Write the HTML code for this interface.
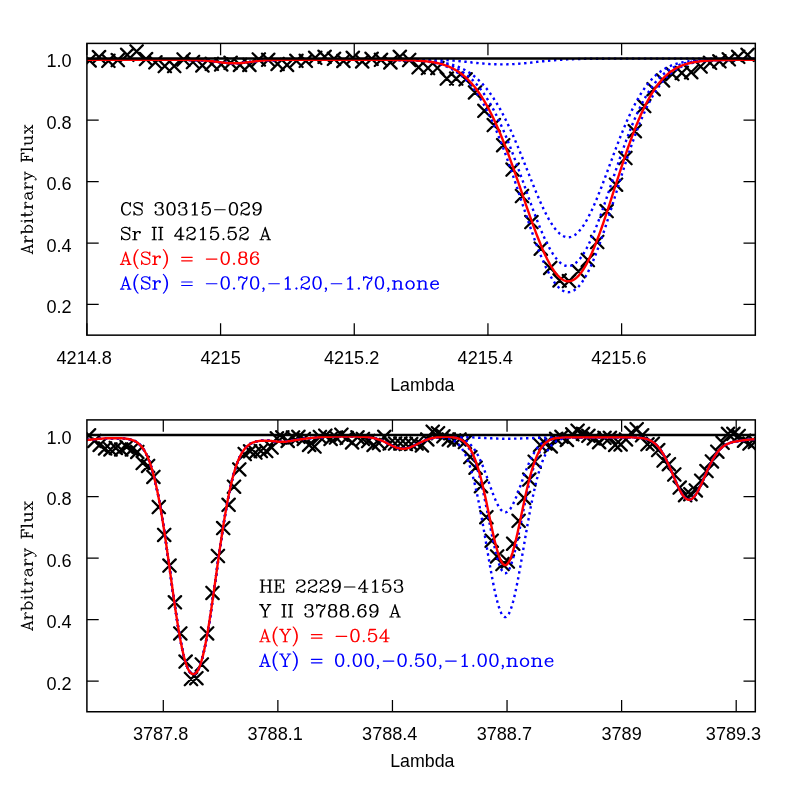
<!DOCTYPE html>
<html><head><meta charset="utf-8"><title>spectrum fit</title>
<style>html,body{margin:0;padding:0;background:#fff}svg{display:block;will-change:transform}text{font-family:"Liberation Sans",sans-serif;font-size:18.1px;fill:#000}</style></head><body>
<svg width="797" height="797" viewBox="0 0 797 797">
<rect width="797" height="797" fill="#fff"/>
<defs>
<clipPath id="c0"><rect x="86.90" y="43.40" width="668.40" height="291.75"/></clipPath>
<clipPath id="c1"><rect x="86.90" y="419.90" width="668.40" height="291.85"/></clipPath>
</defs>
<g clip-path="url(#c0)">
<path d="M83.4 54.2l12.4 12.4M83.4 66.6l12.4 -12.4M92.8 50.9l12.4 12.4M92.8 63.3l12.4 -12.4M102.2 54.6l12.4 12.4M102.2 67.0l12.4 -12.4M111.6 53.9l12.4 12.4M111.6 66.3l12.4 -12.4M121.0 48.6l12.4 12.4M121.0 61.0l12.4 -12.4M130.4 45.2l12.4 12.4M130.4 57.6l12.4 -12.4M139.8 52.9l12.4 12.4M139.8 65.3l12.4 -12.4M149.2 56.1l12.4 12.4M149.2 68.5l12.4 -12.4M158.6 59.9l12.4 12.4M158.6 72.3l12.4 -12.4M168.0 59.9l12.4 12.4M168.0 72.3l12.4 -12.4M177.4 53.3l12.4 12.4M177.4 65.7l12.4 -12.4M186.8 55.8l12.4 12.4M186.8 68.2l12.4 -12.4M196.2 59.2l12.4 12.4M196.2 71.6l12.4 -12.4M205.6 57.6l12.4 12.4M205.6 70.0l12.4 -12.4M215.0 58.2l12.4 12.4M215.0 70.6l12.4 -12.4M224.4 56.6l12.4 12.4M224.4 69.0l12.4 -12.4M233.8 58.7l12.4 12.4M233.8 71.1l12.4 -12.4M243.2 58.7l12.4 12.4M243.2 71.1l12.4 -12.4M252.6 53.2l12.4 12.4M252.6 65.6l12.4 -12.4M262.0 53.6l12.4 12.4M262.0 66.0l12.4 -12.4M271.4 57.7l12.4 12.4M271.4 70.1l12.4 -12.4M280.8 58.7l12.4 12.4M280.8 71.1l12.4 -12.4M290.2 54.6l12.4 12.4M290.2 67.0l12.4 -12.4M299.6 54.6l12.4 12.4M299.6 67.0l12.4 -12.4M309.0 51.6l12.4 12.4M309.0 64.0l12.4 -12.4M318.4 50.6l12.4 12.4M318.4 63.0l12.4 -12.4M327.8 52.6l12.4 12.4M327.8 65.0l12.4 -12.4M337.2 54.7l12.4 12.4M337.2 67.1l12.4 -12.4M346.6 51.6l12.4 12.4M346.6 64.0l12.4 -12.4M356.0 55.2l12.4 12.4M356.0 67.6l12.4 -12.4M365.4 52.6l12.4 12.4M365.4 65.0l12.4 -12.4M374.8 53.6l12.4 12.4M374.8 66.0l12.4 -12.4M384.2 56.2l12.4 12.4M384.2 68.6l12.4 -12.4M393.6 50.6l12.4 12.4M393.6 63.0l12.4 -12.4M403.0 53.8l12.4 12.4M403.0 66.2l12.4 -12.4M412.4 61.1l12.4 12.4M412.4 73.5l12.4 -12.4M421.8 61.8l12.4 12.4M421.8 74.2l12.4 -12.4M431.2 61.8l12.4 12.4M431.2 74.2l12.4 -12.4M440.6 72.4l12.4 12.4M440.6 84.8l12.4 -12.4M450.0 72.4l12.4 12.4M450.0 84.8l12.4 -12.4M459.4 73.1l12.4 12.4M459.4 85.5l12.4 -12.4M468.8 86.2l12.4 12.4M468.8 98.6l12.4 -12.4M478.2 104.6l12.4 12.4M478.2 117.0l12.4 -12.4M487.6 118.9l12.4 12.4M487.6 131.3l12.4 -12.4M497.0 139.0l12.4 12.4M497.0 151.4l12.4 -12.4M506.4 163.4l12.4 12.4M506.4 175.8l12.4 -12.4M515.8 189.8l12.4 12.4M515.8 202.2l12.4 -12.4M525.2 215.9l12.4 12.4M525.2 228.3l12.4 -12.4M534.6 242.5l12.4 12.4M534.6 254.9l12.4 -12.4M544.0 261.7l12.4 12.4M544.0 274.1l12.4 -12.4M553.4 274.2l12.4 12.4M553.4 286.6l12.4 -12.4M562.8 274.9l12.4 12.4M562.8 287.3l12.4 -12.4M572.2 265.1l12.4 12.4M572.2 277.5l12.4 -12.4M581.6 253.8l12.4 12.4M581.6 266.2l12.4 -12.4M591.0 235.8l12.4 12.4M591.0 248.2l12.4 -12.4M600.4 204.9l12.4 12.4M600.4 217.3l12.4 -12.4M609.8 178.5l12.4 12.4M609.8 190.9l12.4 -12.4M619.2 151.8l12.4 12.4M619.2 164.2l12.4 -12.4M628.6 125.0l12.4 12.4M628.6 137.4l12.4 -12.4M638.0 99.9l12.4 12.4M638.0 112.3l12.4 -12.4M647.4 83.0l12.4 12.4M647.4 95.4l12.4 -12.4M656.8 74.2l12.4 12.4M656.8 86.6l12.4 -12.4M666.2 67.9l12.4 12.4M666.2 80.3l12.4 -12.4M675.6 66.7l12.4 12.4M675.6 79.1l12.4 -12.4M685.0 66.0l12.4 12.4M685.0 78.4l12.4 -12.4M694.4 60.3l12.4 12.4M694.4 72.7l12.4 -12.4M703.8 56.6l12.4 12.4M703.8 69.0l12.4 -12.4M713.2 55.1l12.4 12.4M713.2 67.5l12.4 -12.4M722.6 53.1l12.4 12.4M722.6 65.5l12.4 -12.4M732.0 50.6l12.4 12.4M732.0 63.0l12.4 -12.4M741.4 48.6l12.4 12.4M741.4 61.0l12.4 -12.4" fill="none" stroke="#000" stroke-width="2.3" stroke-linecap="round"/>
<path d="M86.9 59.9L87.9 59.9L88.9 59.9L89.9 59.9L90.9 59.9L91.9 59.9L92.9 59.9L93.9 59.9L94.9 59.9L95.9 59.9L96.9 59.9L97.9 59.9L98.9 59.9L99.9 59.9L100.9 59.9L101.9 59.9L102.9 59.9L103.9 59.9L104.9 59.9L105.9 59.9L106.9 59.9L107.9 59.9L108.9 59.9L109.9 59.9L110.9 59.9L111.9 59.9L112.9 59.9L113.9 59.9L114.9 59.9L115.9 59.9L116.9 59.9L117.9 59.9L118.9 59.9L119.9 59.9L120.9 59.9L121.9 59.9L122.9 59.9L123.9 59.9L124.9 59.9L125.9 59.9L126.9 59.9L127.9 59.9L128.9 59.9L129.9 59.9L130.9 59.9L131.9 59.9L132.9 59.9L133.9 59.9L134.9 59.9L135.9 59.9L136.9 59.9L137.9 59.9L138.9 59.9L139.9 59.9L140.9 59.9L141.9 59.9L142.9 59.9L143.9 59.9L144.9 59.9L145.9 59.9L146.9 59.9L147.9 59.9L148.9 59.9L149.9 59.9L150.9 59.9L151.9 59.9L152.9 59.9L153.9 59.9L154.9 59.9L155.9 59.9L156.9 59.9L157.9 59.9L158.9 59.9L159.9 59.9L160.9 59.9L161.9 59.9L162.9 59.9L163.9 59.9L164.9 59.9L165.9 59.9L166.9 59.9L167.9 59.9L168.9 59.9L169.9 59.9L170.9 59.9L171.9 59.9L172.9 59.9L173.9 59.9L174.9 59.9L175.9 59.9L176.9 59.9L177.9 59.9L178.9 59.9L179.9 59.9L180.9 59.9L181.9 59.9L182.9 59.9L183.9 59.9L184.9 59.9L185.9 59.9L186.9 59.9L187.9 59.9L188.9 60.0L189.9 60.0L190.9 60.0L191.9 60.0L192.9 60.0L193.9 60.0L194.9 60.1L195.9 60.1L196.9 60.1L197.9 60.2L198.9 60.2L199.9 60.2L200.9 60.3L201.9 60.4L202.9 60.4L203.9 60.5L204.9 60.6L205.9 60.6L206.9 60.7L207.9 60.8L208.9 60.9L209.9 61.0L210.9 61.1L211.9 61.2L212.9 61.3L213.9 61.5L214.9 61.6L215.9 61.7L216.9 61.8L217.9 62.0L218.9 62.1L219.9 62.2L220.9 62.4L221.9 62.5L222.9 62.6L223.9 62.7L224.9 62.8L225.9 62.9L226.9 63.0L227.9 63.1L228.9 63.2L229.9 63.2L230.9 63.3L231.9 63.3L232.9 63.3L233.9 63.3L234.9 63.3L235.9 63.3L236.9 63.3L237.9 63.2L238.9 63.2L239.9 63.1L240.9 63.0L241.9 63.0L242.9 62.9L243.9 62.7L244.9 62.6L245.9 62.5L246.9 62.4L247.9 62.3L248.9 62.1L249.9 62.0L250.9 61.9L251.9 61.7L252.9 61.6L253.9 61.5L254.9 61.4L255.9 61.2L256.9 61.1L257.9 61.0L258.9 60.9L259.9 60.8L260.9 60.7L261.9 60.6L262.9 60.6L263.9 60.5L264.9 60.4L265.9 60.4L266.9 60.3L267.9 60.3L268.9 60.2L269.9 60.2L270.9 60.1L271.9 60.1L272.9 60.1L273.9 60.0L274.9 60.0L275.9 60.0L276.9 60.0L277.9 60.0L278.9 60.0L279.9 59.9L280.9 59.9L281.9 59.9L282.9 59.9L283.9 59.9L284.9 59.9L285.9 59.9L286.9 59.9L287.9 59.9L288.9 59.9L289.9 59.9L290.9 59.9L291.9 59.9L292.9 59.9L293.9 59.9L294.9 59.9L295.9 59.9L296.9 59.9L297.9 59.9L298.9 59.9L299.9 59.9L300.9 59.9L301.9 59.9L302.9 59.9L303.9 59.9L304.9 59.9L305.9 59.9L306.9 59.9L307.9 59.9L308.9 59.9L309.9 59.9L310.9 59.9L311.9 59.9L312.9 59.9L313.9 59.9L314.9 59.9L315.9 59.9L316.9 59.9L317.9 59.9L318.9 59.9L319.9 59.9L320.9 59.9L321.9 59.9L322.9 59.9L323.9 59.9L324.9 59.9L325.9 59.9L326.9 59.9L327.9 59.9L328.9 59.9L329.9 59.9L330.9 59.9L331.9 59.9L332.9 59.9L333.9 59.9L334.9 59.9L335.9 59.9L336.9 59.9L337.9 59.9L338.9 59.9L339.9 59.9L340.9 59.9L341.9 59.9L342.9 59.9L343.9 59.9L344.9 59.9L345.9 59.9L346.9 59.9L347.9 59.9L348.9 59.9L349.9 59.9L350.9 59.9L351.9 59.9L352.9 59.9L353.9 59.9L354.9 59.9L355.9 59.9L356.9 59.9L357.9 59.9L358.9 59.9L359.9 59.9L360.9 59.9L361.9 59.9L362.9 59.9L363.9 59.9L364.9 59.9L365.9 59.9L366.9 59.9L367.9 59.9L368.9 59.9L369.9 59.9L370.9 59.9L371.9 59.9L372.9 59.9L373.9 59.9L374.9 59.9L375.9 59.9L376.9 59.9L377.9 59.9L378.9 59.9L379.9 59.9L380.9 59.9L381.9 59.9L382.9 59.9L383.9 59.9L384.9 59.9L385.9 59.9L386.9 59.9L387.9 59.9L388.9 59.9L389.9 59.9L390.9 60.0L391.9 60.0L392.9 60.0L393.9 60.0L394.9 60.0L395.9 60.0L396.9 60.0L397.9 60.0L398.9 60.0L399.9 60.1L400.9 60.1L401.9 60.1L402.9 60.1L403.9 60.1L404.9 60.2L405.9 60.2L406.9 60.2L407.9 60.2L408.9 60.3L409.9 60.3L410.9 60.3L411.9 60.4L412.9 60.4L413.9 60.5L414.9 60.5L415.9 60.6L416.9 60.7L417.9 60.7L418.9 60.8L419.9 60.9L420.9 61.0L421.9 61.0L422.9 61.1L423.9 61.2L424.9 61.4L425.9 61.5L426.9 61.6L427.9 61.7L428.9 61.9L429.9 62.0L430.9 62.2L431.9 62.4L432.9 62.5L433.9 62.7L434.9 63.0L435.9 63.2L436.9 63.4L437.9 63.7L438.9 63.9L439.9 64.2L440.9 64.5L441.9 64.8L442.9 65.2L443.9 65.5L444.9 65.9L445.9 66.3L446.9 66.7L447.9 67.1L448.9 67.6L449.9 68.1L450.9 68.6L451.9 69.1L452.9 69.7L453.9 70.3L454.9 70.9L455.9 71.5L456.9 72.2L457.9 72.9L458.9 73.6L459.9 74.4L460.9 75.2L461.9 76.0L462.9 76.9L463.9 77.8L464.9 78.8L465.9 79.7L466.9 80.8L467.9 81.8L468.9 82.9L469.9 84.1L470.9 85.2L471.9 86.5L472.9 87.7L473.9 89.1L474.9 90.4L475.9 91.8L476.9 93.3L477.9 94.7L478.9 96.3L479.9 97.9L480.9 99.5L481.9 101.2L482.9 102.9L483.9 104.7L484.9 106.5L485.9 108.4L486.9 110.3L487.9 112.3L488.9 114.3L489.9 116.3L490.9 118.4L491.9 120.6L492.9 122.8L493.9 125.1L494.9 127.3L495.9 129.7L496.9 132.1L497.9 134.5L498.9 137.0L499.9 139.5L500.9 142.0L501.9 144.6L502.9 147.2L503.9 149.9L504.9 152.6L505.9 155.4L506.9 158.1L507.9 160.9L508.9 163.8L509.9 166.6L510.9 169.5L511.9 172.4L512.9 175.3L513.9 178.3L514.9 181.2L515.9 184.2L516.9 187.2L517.9 190.2L518.9 193.2L519.9 196.3L520.9 199.3L521.9 202.3L522.9 205.3L523.9 208.3L524.9 211.3L525.9 214.3L526.9 217.3L527.9 220.3L528.9 223.2L529.9 226.2L530.9 229.0L531.9 231.9L532.9 234.7L533.9 237.5L534.9 240.3L535.9 243.0L536.9 245.7L537.9 248.3L538.9 250.9L539.9 253.4L540.9 255.9L541.9 258.3L542.9 260.6L543.9 262.9L544.9 265.1L545.9 267.3L546.9 269.3L547.9 271.3L548.9 273.2L549.9 275.1L550.9 276.8L551.9 278.5L552.9 280.1L553.9 281.6L554.9 283.0L555.9 284.3L556.9 285.5L557.9 286.6L558.9 287.6L559.9 288.5L560.9 289.3L561.9 290.1L562.9 290.7L563.9 291.2L564.9 291.6L565.9 291.9L566.9 292.1L567.9 292.2L568.9 292.1L569.9 292.0L570.9 291.8L571.9 291.5L572.9 291.0L573.9 290.5L574.9 289.8L575.9 289.1L576.9 288.2L577.9 287.3L578.9 286.2L579.9 285.0L580.9 283.8L581.9 282.4L582.9 280.9L583.9 279.4L584.9 277.7L585.9 276.0L586.9 274.1L587.9 272.2L588.9 270.2L589.9 268.1L590.9 266.0L591.9 263.7L592.9 261.4L593.9 259.0L594.9 256.5L595.9 254.0L596.9 251.4L597.9 248.7L598.9 246.0L599.9 243.2L600.9 240.3L601.9 237.4L602.9 234.5L603.9 231.5L604.9 228.5L605.9 225.5L606.9 222.4L607.9 219.3L608.9 216.1L609.9 213.0L610.9 209.8L611.9 206.6L612.9 203.4L613.9 200.1L614.9 196.9L615.9 193.7L616.9 190.5L617.9 187.2L618.9 184.0L619.9 180.8L620.9 177.6L621.9 174.4L622.9 171.3L623.9 168.1L624.9 165.0L625.9 161.9L626.9 158.9L627.9 155.9L628.9 152.9L629.9 149.9L630.9 147.0L631.9 144.2L632.9 141.3L633.9 138.5L634.9 135.8L635.9 133.1L636.9 130.5L637.9 127.9L638.9 125.4L639.9 122.9L640.9 120.5L641.9 118.1L642.9 115.8L643.9 113.5L644.9 111.3L645.9 109.2L646.9 107.1L647.9 105.0L648.9 103.1L649.9 101.1L650.9 99.3L651.9 97.5L652.9 95.7L653.9 94.1L654.9 92.4L655.9 90.9L656.9 89.3L657.9 87.9L658.9 86.5L659.9 85.1L660.9 83.8L661.9 82.5L662.9 81.3L663.9 80.2L664.9 79.1L665.9 78.0L666.9 77.0L667.9 76.0L668.9 75.1L669.9 74.2L670.9 73.4L671.9 72.6L672.9 71.8L673.9 71.1L674.9 70.4L675.9 69.8L676.9 69.1L677.9 68.5L678.9 68.0L679.9 67.5L680.9 67.0L681.9 66.5L682.9 66.0L683.9 65.6L684.9 65.2L685.9 64.9L686.9 64.5L687.9 64.2L688.9 63.9L689.9 63.6L690.9 63.3L691.9 63.1L692.9 62.9L693.9 62.7L694.9 62.5L695.9 62.3L696.9 62.1L697.9 61.9L698.9 61.8L699.9 61.6L700.9 61.5L701.9 61.4L702.9 61.3L703.9 61.1L704.9 61.0L705.9 61.0L706.9 60.9L707.9 60.8L708.9 60.7L709.9 60.6L710.9 60.6L711.9 60.5L712.9 60.5L713.9 60.4L714.9 60.4L715.9 60.3L716.9 60.3L717.9 60.3L718.9 60.2L719.9 60.2L720.9 60.2L721.9 60.1L722.9 60.1L723.9 60.1L724.9 60.1L725.9 60.1L726.9 60.0L727.9 60.0L728.9 60.0L729.9 60.0L730.9 60.0L731.9 60.0L732.9 60.0L733.9 60.0L734.9 60.0L735.9 59.9L736.9 59.9L737.9 59.9L738.9 59.9L739.9 59.9L740.9 59.9L741.9 59.9L742.9 59.9L743.9 59.9L744.9 59.9L745.9 59.9L746.9 59.9L747.9 59.9L748.9 59.9L749.9 59.9L750.9 59.9L751.9 59.9L752.9 59.9L753.9 59.9L754.9 59.9" fill="none" stroke="#0000ff" stroke-width="2.4" stroke-dasharray="2.4 3.6" stroke-linecap="butt"/>
<path d="M86.9 59.9L87.9 59.9L88.9 59.9L89.9 59.9L90.9 59.9L91.9 59.9L92.9 59.9L93.9 59.9L94.9 59.9L95.9 59.9L96.9 59.9L97.9 59.9L98.9 59.9L99.9 59.9L100.9 59.9L101.9 59.9L102.9 59.9L103.9 59.9L104.9 59.9L105.9 59.9L106.9 59.9L107.9 59.9L108.9 59.9L109.9 59.9L110.9 59.9L111.9 59.9L112.9 59.9L113.9 59.9L114.9 59.9L115.9 59.9L116.9 59.9L117.9 59.9L118.9 59.9L119.9 59.9L120.9 59.9L121.9 59.9L122.9 59.9L123.9 59.9L124.9 59.9L125.9 59.9L126.9 59.9L127.9 59.9L128.9 59.9L129.9 59.9L130.9 59.9L131.9 59.9L132.9 59.9L133.9 59.9L134.9 59.9L135.9 59.9L136.9 59.9L137.9 59.9L138.9 59.9L139.9 59.9L140.9 59.9L141.9 59.9L142.9 59.9L143.9 59.9L144.9 59.9L145.9 59.9L146.9 59.9L147.9 59.9L148.9 59.9L149.9 59.9L150.9 59.9L151.9 59.9L152.9 59.9L153.9 59.9L154.9 59.9L155.9 59.9L156.9 59.9L157.9 59.9L158.9 59.9L159.9 59.9L160.9 59.9L161.9 59.9L162.9 59.9L163.9 59.9L164.9 59.9L165.9 59.9L166.9 59.9L167.9 59.9L168.9 59.9L169.9 59.9L170.9 59.9L171.9 59.9L172.9 59.9L173.9 59.9L174.9 59.9L175.9 59.9L176.9 59.9L177.9 59.9L178.9 59.9L179.9 59.9L180.9 59.9L181.9 59.9L182.9 59.9L183.9 59.9L184.9 59.9L185.9 59.9L186.9 59.9L187.9 59.9L188.9 60.0L189.9 60.0L190.9 60.0L191.9 60.0L192.9 60.0L193.9 60.0L194.9 60.1L195.9 60.1L196.9 60.1L197.9 60.2L198.9 60.2L199.9 60.2L200.9 60.3L201.9 60.4L202.9 60.4L203.9 60.5L204.9 60.6L205.9 60.6L206.9 60.7L207.9 60.8L208.9 60.9L209.9 61.0L210.9 61.1L211.9 61.2L212.9 61.3L213.9 61.5L214.9 61.6L215.9 61.7L216.9 61.8L217.9 62.0L218.9 62.1L219.9 62.2L220.9 62.4L221.9 62.5L222.9 62.6L223.9 62.7L224.9 62.8L225.9 62.9L226.9 63.0L227.9 63.1L228.9 63.2L229.9 63.2L230.9 63.3L231.9 63.3L232.9 63.3L233.9 63.3L234.9 63.3L235.9 63.3L236.9 63.3L237.9 63.2L238.9 63.2L239.9 63.1L240.9 63.0L241.9 63.0L242.9 62.9L243.9 62.7L244.9 62.6L245.9 62.5L246.9 62.4L247.9 62.3L248.9 62.1L249.9 62.0L250.9 61.9L251.9 61.7L252.9 61.6L253.9 61.5L254.9 61.4L255.9 61.2L256.9 61.1L257.9 61.0L258.9 60.9L259.9 60.8L260.9 60.7L261.9 60.6L262.9 60.6L263.9 60.5L264.9 60.4L265.9 60.4L266.9 60.3L267.9 60.3L268.9 60.2L269.9 60.2L270.9 60.1L271.9 60.1L272.9 60.1L273.9 60.0L274.9 60.0L275.9 60.0L276.9 60.0L277.9 60.0L278.9 60.0L279.9 59.9L280.9 59.9L281.9 59.9L282.9 59.9L283.9 59.9L284.9 59.9L285.9 59.9L286.9 59.9L287.9 59.9L288.9 59.9L289.9 59.9L290.9 59.9L291.9 59.9L292.9 59.9L293.9 59.9L294.9 59.9L295.9 59.9L296.9 59.9L297.9 59.9L298.9 59.9L299.9 59.9L300.9 59.9L301.9 59.9L302.9 59.9L303.9 59.9L304.9 59.9L305.9 59.9L306.9 59.9L307.9 59.9L308.9 59.9L309.9 59.9L310.9 59.9L311.9 59.9L312.9 59.9L313.9 59.9L314.9 59.9L315.9 59.9L316.9 59.9L317.9 59.9L318.9 59.9L319.9 59.9L320.9 59.9L321.9 59.9L322.9 59.9L323.9 59.9L324.9 59.9L325.9 59.9L326.9 59.9L327.9 59.9L328.9 59.9L329.9 59.9L330.9 59.9L331.9 59.9L332.9 59.9L333.9 59.9L334.9 59.9L335.9 59.9L336.9 59.9L337.9 59.9L338.9 59.9L339.9 59.9L340.9 59.9L341.9 59.9L342.9 59.9L343.9 59.9L344.9 59.9L345.9 59.9L346.9 59.9L347.9 59.9L348.9 59.9L349.9 59.9L350.9 59.9L351.9 59.9L352.9 59.9L353.9 59.9L354.9 59.9L355.9 59.9L356.9 59.9L357.9 59.9L358.9 59.9L359.9 59.9L360.9 59.9L361.9 59.9L362.9 59.9L363.9 59.9L364.9 59.9L365.9 59.9L366.9 59.9L367.9 59.9L368.9 59.9L369.9 59.9L370.9 59.9L371.9 59.9L372.9 59.9L373.9 59.9L374.9 59.9L375.9 59.9L376.9 59.9L377.9 59.9L378.9 59.9L379.9 59.9L380.9 59.9L381.9 59.9L382.9 59.9L383.9 59.9L384.9 59.9L385.9 59.9L386.9 59.9L387.9 59.9L388.9 59.9L389.9 59.9L390.9 59.9L391.9 59.9L392.9 59.9L393.9 59.9L394.9 59.9L395.9 60.0L396.9 60.0L397.9 60.0L398.9 60.0L399.9 60.0L400.9 60.0L401.9 60.0L402.9 60.0L403.9 60.0L404.9 60.1L405.9 60.1L406.9 60.1L407.9 60.1L408.9 60.1L409.9 60.2L410.9 60.2L411.9 60.2L412.9 60.2L413.9 60.3L414.9 60.3L415.9 60.4L416.9 60.4L417.9 60.4L418.9 60.5L419.9 60.5L420.9 60.6L421.9 60.7L422.9 60.7L423.9 60.8L424.9 60.9L425.9 61.0L426.9 61.0L427.9 61.1L428.9 61.2L429.9 61.3L430.9 61.5L431.9 61.6L432.9 61.7L433.9 61.8L434.9 62.0L435.9 62.1L436.9 62.3L437.9 62.5L438.9 62.7L439.9 62.9L440.9 63.1L441.9 63.3L442.9 63.6L443.9 63.8L444.9 64.1L445.9 64.4L446.9 64.7L447.9 65.0L448.9 65.3L449.9 65.6L450.9 66.0L451.9 66.4L452.9 66.8L453.9 67.2L454.9 67.7L455.9 68.2L456.9 68.7L457.9 69.2L458.9 69.7L459.9 70.3L460.9 70.9L461.9 71.5L462.9 72.2L463.9 72.9L464.9 73.6L465.9 74.3L466.9 75.1L467.9 75.9L468.9 76.7L469.9 77.6L470.9 78.5L471.9 79.4L472.9 80.4L473.9 81.4L474.9 82.5L475.9 83.6L476.9 84.7L477.9 85.9L478.9 87.1L479.9 88.3L480.9 89.6L481.9 91.0L482.9 92.4L483.9 93.8L484.9 95.2L485.9 96.7L486.9 98.3L487.9 99.9L488.9 101.5L489.9 103.2L490.9 105.0L491.9 106.7L492.9 108.6L493.9 110.4L494.9 112.3L495.9 114.3L496.9 116.3L497.9 118.4L498.9 120.5L499.9 122.6L500.9 124.8L501.9 127.0L502.9 129.3L503.9 131.6L504.9 133.9L505.9 136.3L506.9 138.7L507.9 141.2L508.9 143.7L509.9 146.2L510.9 148.8L511.9 151.4L512.9 154.0L513.9 156.6L514.9 159.3L515.9 162.0L516.9 164.7L517.9 167.5L518.9 170.3L519.9 173.0L520.9 175.8L521.9 178.6L522.9 181.4L523.9 184.2L524.9 187.0L525.9 189.9L526.9 192.7L527.9 195.5L528.9 198.3L529.9 201.0L530.9 203.8L531.9 206.5L532.9 209.3L533.9 212.0L534.9 214.6L535.9 217.3L536.9 219.9L537.9 222.4L538.9 224.9L539.9 227.4L540.9 229.8L541.9 232.2L542.9 234.5L543.9 236.8L544.9 239.0L545.9 241.1L546.9 243.1L547.9 245.1L548.9 247.0L549.9 248.9L550.9 250.6L551.9 252.3L552.9 253.9L553.9 255.4L554.9 256.8L555.9 258.1L556.9 259.3L557.9 260.4L558.9 261.5L559.9 262.4L560.9 263.2L561.9 263.9L562.9 264.6L563.9 265.1L564.9 265.5L565.9 265.8L566.9 266.0L567.9 266.1L568.9 266.0L569.9 265.9L570.9 265.7L571.9 265.3L572.9 264.9L573.9 264.3L574.9 263.7L575.9 262.9L576.9 262.0L577.9 261.0L578.9 259.9L579.9 258.8L580.9 257.5L581.9 256.1L582.9 254.6L583.9 253.0L584.9 251.4L585.9 249.6L586.9 247.8L587.9 245.8L588.9 243.8L589.9 241.7L590.9 239.6L591.9 237.3L592.9 235.0L593.9 232.6L594.9 230.2L595.9 227.7L596.9 225.1L597.9 222.5L598.9 219.8L599.9 217.1L600.9 214.3L601.9 211.5L602.9 208.7L603.9 205.8L604.9 202.9L605.9 200.0L606.9 197.0L607.9 194.0L608.9 191.1L609.9 188.1L610.9 185.1L611.9 182.1L612.9 179.0L613.9 176.0L614.9 173.0L615.9 170.0L616.9 167.1L617.9 164.1L618.9 161.2L619.9 158.2L620.9 155.3L621.9 152.5L622.9 149.6L623.9 146.8L624.9 144.0L625.9 141.3L626.9 138.6L627.9 135.9L628.9 133.3L629.9 130.7L630.9 128.2L631.9 125.7L632.9 123.2L633.9 120.8L634.9 118.5L635.9 116.2L636.9 114.0L637.9 111.8L638.9 109.7L639.9 107.6L640.9 105.6L641.9 103.6L642.9 101.7L643.9 99.8L644.9 98.1L645.9 96.3L646.9 94.6L647.9 93.0L648.9 91.4L649.9 89.9L650.9 88.4L651.9 87.0L652.9 85.6L653.9 84.3L654.9 83.0L655.9 81.8L656.9 80.7L657.9 79.5L658.9 78.5L659.9 77.4L660.9 76.5L661.9 75.5L662.9 74.6L663.9 73.8L664.9 73.0L665.9 72.2L666.9 71.4L667.9 70.7L668.9 70.1L669.9 69.4L670.9 68.8L671.9 68.3L672.9 67.7L673.9 67.2L674.9 66.7L675.9 66.3L676.9 65.8L677.9 65.4L678.9 65.1L679.9 64.7L680.9 64.4L681.9 64.0L682.9 63.7L683.9 63.5L684.9 63.2L685.9 63.0L686.9 62.7L687.9 62.5L688.9 62.3L689.9 62.1L690.9 62.0L691.9 61.8L692.9 61.7L693.9 61.5L694.9 61.4L695.9 61.3L696.9 61.2L697.9 61.1L698.9 61.0L699.9 60.9L700.9 60.8L701.9 60.7L702.9 60.7L703.9 60.6L704.9 60.5L705.9 60.5L706.9 60.4L707.9 60.4L708.9 60.3L709.9 60.3L710.9 60.3L711.9 60.2L712.9 60.2L713.9 60.2L714.9 60.1L715.9 60.1L716.9 60.1L717.9 60.1L718.9 60.1L719.9 60.0L720.9 60.0L721.9 60.0L722.9 60.0L723.9 60.0L724.9 60.0L725.9 60.0L726.9 60.0L727.9 60.0L728.9 59.9L729.9 59.9L730.9 59.9L731.9 59.9L732.9 59.9L733.9 59.9L734.9 59.9L735.9 59.9L736.9 59.9L737.9 59.9L738.9 59.9L739.9 59.9L740.9 59.9L741.9 59.9L742.9 59.9L743.9 59.9L744.9 59.9L745.9 59.9L746.9 59.9L747.9 59.9L748.9 59.9L749.9 59.9L750.9 59.9L751.9 59.9L752.9 59.9L753.9 59.9L754.9 59.9" fill="none" stroke="#0000ff" stroke-width="2.4" stroke-dasharray="2.4 3.6" stroke-linecap="butt"/>
<path d="M86.9 59.9L87.9 59.9L88.9 59.9L89.9 59.9L90.9 59.9L91.9 59.9L92.9 59.9L93.9 59.9L94.9 59.9L95.9 59.9L96.9 59.9L97.9 59.9L98.9 59.9L99.9 59.9L100.9 59.9L101.9 59.9L102.9 59.9L103.9 59.9L104.9 59.9L105.9 59.9L106.9 59.9L107.9 59.9L108.9 59.9L109.9 59.9L110.9 59.9L111.9 59.9L112.9 59.9L113.9 59.9L114.9 59.9L115.9 59.9L116.9 59.9L117.9 59.9L118.9 59.9L119.9 59.9L120.9 59.9L121.9 59.9L122.9 59.9L123.9 59.9L124.9 59.9L125.9 59.9L126.9 59.9L127.9 59.9L128.9 59.9L129.9 59.9L130.9 59.9L131.9 59.9L132.9 59.9L133.9 59.9L134.9 59.9L135.9 59.9L136.9 59.9L137.9 59.9L138.9 59.9L139.9 59.9L140.9 59.9L141.9 59.9L142.9 59.9L143.9 59.9L144.9 59.9L145.9 59.9L146.9 59.9L147.9 59.9L148.9 59.9L149.9 59.9L150.9 59.9L151.9 59.9L152.9 59.9L153.9 59.9L154.9 59.9L155.9 59.9L156.9 59.9L157.9 59.9L158.9 59.9L159.9 59.9L160.9 59.9L161.9 59.9L162.9 59.9L163.9 59.9L164.9 59.9L165.9 59.9L166.9 59.9L167.9 59.9L168.9 59.9L169.9 59.9L170.9 59.9L171.9 59.9L172.9 59.9L173.9 59.9L174.9 59.9L175.9 59.9L176.9 59.9L177.9 59.9L178.9 59.9L179.9 59.9L180.9 59.9L181.9 59.9L182.9 59.9L183.9 59.9L184.9 59.9L185.9 59.9L186.9 59.9L187.9 59.9L188.9 60.0L189.9 60.0L190.9 60.0L191.9 60.0L192.9 60.0L193.9 60.0L194.9 60.1L195.9 60.1L196.9 60.1L197.9 60.2L198.9 60.2L199.9 60.2L200.9 60.3L201.9 60.4L202.9 60.4L203.9 60.5L204.9 60.6L205.9 60.6L206.9 60.7L207.9 60.8L208.9 60.9L209.9 61.0L210.9 61.1L211.9 61.2L212.9 61.3L213.9 61.5L214.9 61.6L215.9 61.7L216.9 61.8L217.9 62.0L218.9 62.1L219.9 62.2L220.9 62.4L221.9 62.5L222.9 62.6L223.9 62.7L224.9 62.8L225.9 62.9L226.9 63.0L227.9 63.1L228.9 63.2L229.9 63.2L230.9 63.3L231.9 63.3L232.9 63.3L233.9 63.3L234.9 63.3L235.9 63.3L236.9 63.3L237.9 63.2L238.9 63.2L239.9 63.1L240.9 63.0L241.9 63.0L242.9 62.9L243.9 62.7L244.9 62.6L245.9 62.5L246.9 62.4L247.9 62.3L248.9 62.1L249.9 62.0L250.9 61.9L251.9 61.7L252.9 61.6L253.9 61.5L254.9 61.4L255.9 61.2L256.9 61.1L257.9 61.0L258.9 60.9L259.9 60.8L260.9 60.7L261.9 60.6L262.9 60.6L263.9 60.5L264.9 60.4L265.9 60.4L266.9 60.3L267.9 60.3L268.9 60.2L269.9 60.2L270.9 60.1L271.9 60.1L272.9 60.1L273.9 60.0L274.9 60.0L275.9 60.0L276.9 60.0L277.9 60.0L278.9 60.0L279.9 59.9L280.9 59.9L281.9 59.9L282.9 59.9L283.9 59.9L284.9 59.9L285.9 59.9L286.9 59.9L287.9 59.9L288.9 59.9L289.9 59.9L290.9 59.9L291.9 59.9L292.9 59.9L293.9 59.9L294.9 59.9L295.9 59.9L296.9 59.9L297.9 59.9L298.9 59.9L299.9 59.9L300.9 59.9L301.9 59.9L302.9 59.9L303.9 59.9L304.9 59.9L305.9 59.9L306.9 59.9L307.9 59.9L308.9 59.9L309.9 59.9L310.9 59.9L311.9 59.9L312.9 59.9L313.9 59.9L314.9 59.9L315.9 59.9L316.9 59.9L317.9 59.9L318.9 59.9L319.9 59.9L320.9 59.9L321.9 59.9L322.9 59.9L323.9 59.9L324.9 59.9L325.9 59.9L326.9 59.9L327.9 59.9L328.9 59.9L329.9 59.9L330.9 59.9L331.9 59.9L332.9 59.9L333.9 59.9L334.9 59.9L335.9 59.9L336.9 59.9L337.9 59.9L338.9 59.9L339.9 59.9L340.9 59.9L341.9 59.9L342.9 59.9L343.9 59.9L344.9 59.9L345.9 59.9L346.9 59.9L347.9 59.9L348.9 59.9L349.9 59.9L350.9 59.9L351.9 59.9L352.9 59.9L353.9 59.9L354.9 59.9L355.9 59.9L356.9 59.9L357.9 59.9L358.9 59.9L359.9 59.9L360.9 59.9L361.9 59.9L362.9 59.9L363.9 59.9L364.9 59.9L365.9 59.9L366.9 59.9L367.9 59.9L368.9 59.9L369.9 59.9L370.9 59.9L371.9 59.9L372.9 59.9L373.9 59.9L374.9 59.9L375.9 59.9L376.9 59.9L377.9 59.9L378.9 59.9L379.9 59.9L380.9 59.9L381.9 59.9L382.9 59.9L383.9 59.9L384.9 59.9L385.9 59.9L386.9 59.9L387.9 59.9L388.9 59.9L389.9 59.9L390.9 59.9L391.9 59.9L392.9 59.9L393.9 59.9L394.9 59.9L395.9 59.9L396.9 59.9L397.9 59.9L398.9 60.0L399.9 60.0L400.9 60.0L401.9 60.0L402.9 60.0L403.9 60.0L404.9 60.0L405.9 60.0L406.9 60.0L407.9 60.1L408.9 60.1L409.9 60.1L410.9 60.1L411.9 60.1L412.9 60.1L413.9 60.2L414.9 60.2L415.9 60.2L416.9 60.3L417.9 60.3L418.9 60.3L419.9 60.4L420.9 60.4L421.9 60.4L422.9 60.5L423.9 60.5L424.9 60.6L425.9 60.7L426.9 60.7L427.9 60.8L428.9 60.9L429.9 60.9L430.9 61.0L431.9 61.1L432.9 61.2L433.9 61.3L434.9 61.4L435.9 61.5L436.9 61.7L437.9 61.8L438.9 61.9L439.9 62.1L440.9 62.2L441.9 62.4L442.9 62.6L443.9 62.7L444.9 62.9L445.9 63.2L446.9 63.4L447.9 63.6L448.9 63.8L449.9 64.1L450.9 64.4L451.9 64.7L452.9 65.0L453.9 65.3L454.9 65.6L455.9 66.0L456.9 66.3L457.9 66.7L458.9 67.1L459.9 67.6L460.9 68.0L461.9 68.5L462.9 69.0L463.9 69.5L464.9 70.0L465.9 70.6L466.9 71.1L467.9 71.7L468.9 72.4L469.9 73.0L470.9 73.7L471.9 74.4L472.9 75.2L473.9 76.0L474.9 76.8L475.9 77.6L476.9 78.5L477.9 79.4L478.9 80.3L479.9 81.3L480.9 82.3L481.9 83.3L482.9 84.4L483.9 85.5L484.9 86.7L485.9 87.9L486.9 89.1L487.9 90.4L488.9 91.7L489.9 93.0L490.9 94.4L491.9 95.8L492.9 97.3L493.9 98.8L494.9 100.4L495.9 102.0L496.9 103.6L497.9 105.3L498.9 107.0L499.9 108.7L500.9 110.5L501.9 112.4L502.9 114.3L503.9 116.2L504.9 118.2L505.9 120.2L506.9 122.2L507.9 124.3L508.9 126.4L509.9 128.6L510.9 130.7L511.9 133.0L512.9 135.2L513.9 137.5L514.9 139.8L515.9 142.2L516.9 144.5L517.9 146.9L518.9 149.3L519.9 151.8L520.9 154.2L521.9 156.7L522.9 159.2L523.9 161.7L524.9 164.2L525.9 166.7L526.9 169.3L527.9 171.8L528.9 174.3L529.9 176.8L530.9 179.3L531.9 181.8L532.9 184.3L533.9 186.7L534.9 189.2L535.9 191.6L536.9 194.0L537.9 196.3L538.9 198.7L539.9 201.0L540.9 203.2L541.9 205.4L542.9 207.6L543.9 209.7L544.9 211.7L545.9 213.7L546.9 215.6L547.9 217.5L548.9 219.3L549.9 221.0L550.9 222.7L551.9 224.2L552.9 225.7L553.9 227.2L554.9 228.5L555.9 229.7L556.9 230.9L557.9 232.0L558.9 232.9L559.9 233.8L560.9 234.6L561.9 235.3L562.9 235.9L563.9 236.4L564.9 236.7L565.9 237.0L566.9 237.2L567.9 237.3L568.9 237.3L569.9 237.1L570.9 236.9L571.9 236.6L572.9 236.1L573.9 235.6L574.9 235.0L575.9 234.2L576.9 233.4L577.9 232.4L578.9 231.4L579.9 230.2L580.9 229.0L581.9 227.7L582.9 226.3L583.9 224.8L584.9 223.2L585.9 221.5L586.9 219.8L587.9 217.9L588.9 216.0L589.9 214.1L590.9 212.0L591.9 209.9L592.9 207.7L593.9 205.5L594.9 203.2L595.9 200.9L596.9 198.5L597.9 196.0L598.9 193.5L599.9 191.0L600.9 188.5L601.9 185.9L602.9 183.3L603.9 180.6L604.9 178.0L605.9 175.3L606.9 172.6L607.9 169.9L608.9 167.2L609.9 164.5L610.9 161.8L611.9 159.1L612.9 156.4L613.9 153.7L614.9 151.1L615.9 148.4L616.9 145.8L617.9 143.2L618.9 140.6L619.9 138.0L620.9 135.5L621.9 133.0L622.9 130.6L623.9 128.1L624.9 125.7L625.9 123.4L626.9 121.1L627.9 118.8L628.9 116.6L629.9 114.4L630.9 112.3L631.9 110.2L632.9 108.2L633.9 106.2L634.9 104.3L635.9 102.4L636.9 100.6L637.9 98.8L638.9 97.0L639.9 95.4L640.9 93.7L641.9 92.2L642.9 90.6L643.9 89.2L644.9 87.7L645.9 86.4L646.9 85.0L647.9 83.8L648.9 82.5L649.9 81.4L650.9 80.2L651.9 79.1L652.9 78.1L653.9 77.1L654.9 76.1L655.9 75.2L656.9 74.3L657.9 73.5L658.9 72.7L659.9 72.0L660.9 71.2L661.9 70.5L662.9 69.9L663.9 69.3L664.9 68.7L665.9 68.1L666.9 67.6L667.9 67.1L668.9 66.6L669.9 66.2L670.9 65.7L671.9 65.3L672.9 65.0L673.9 64.6L674.9 64.3L675.9 64.0L676.9 63.7L677.9 63.4L678.9 63.2L679.9 62.9L680.9 62.7L681.9 62.5L682.9 62.3L683.9 62.1L684.9 61.9L685.9 61.8L686.9 61.6L687.9 61.5L688.9 61.3L689.9 61.2L690.9 61.1L691.9 61.0L692.9 60.9L693.9 60.9L694.9 60.8L695.9 60.7L696.9 60.6L697.9 60.6L698.9 60.5L699.9 60.5L700.9 60.4L701.9 60.4L702.9 60.3L703.9 60.3L704.9 60.2L705.9 60.2L706.9 60.2L707.9 60.2L708.9 60.1L709.9 60.1L710.9 60.1L711.9 60.1L712.9 60.1L713.9 60.0L714.9 60.0L715.9 60.0L716.9 60.0L717.9 60.0L718.9 60.0L719.9 60.0L720.9 60.0L721.9 60.0L722.9 59.9L723.9 59.9L724.9 59.9L725.9 59.9L726.9 59.9L727.9 59.9L728.9 59.9L729.9 59.9L730.9 59.9L731.9 59.9L732.9 59.9L733.9 59.9L734.9 59.9L735.9 59.9L736.9 59.9L737.9 59.9L738.9 59.9L739.9 59.9L740.9 59.9L741.9 59.9L742.9 59.9L743.9 59.9L744.9 59.9L745.9 59.9L746.9 59.9L747.9 59.9L748.9 59.9L749.9 59.9L750.9 59.9L751.9 59.9L752.9 59.9L753.9 59.9L754.9 59.9" fill="none" stroke="#0000ff" stroke-width="2.4" stroke-dasharray="2.4 3.6" stroke-linecap="butt"/>
<path d="M86.9 59.8L87.9 59.8L88.9 59.8L89.9 59.8L90.9 59.8L91.9 59.8L92.9 59.8L93.9 59.8L94.9 59.8L95.9 59.8L96.9 59.8L97.9 59.8L98.9 59.8L99.9 59.8L100.9 59.8L101.9 59.8L102.9 59.8L103.9 59.8L104.9 59.8L105.9 59.8L106.9 59.8L107.9 59.8L108.9 59.8L109.9 59.8L110.9 59.8L111.9 59.8L112.9 59.8L113.9 59.8L114.9 59.8L115.9 59.8L116.9 59.8L117.9 59.8L118.9 59.8L119.9 59.8L120.9 59.8L121.9 59.8L122.9 59.8L123.9 59.8L124.9 59.8L125.9 59.8L126.9 59.8L127.9 59.8L128.9 59.8L129.9 59.8L130.9 59.8L131.9 59.8L132.9 59.8L133.9 59.8L134.9 59.8L135.9 59.8L136.9 59.8L137.9 59.8L138.9 59.8L139.9 59.8L140.9 59.8L141.9 59.8L142.9 59.8L143.9 59.8L144.9 59.8L145.9 59.8L146.9 59.8L147.9 59.8L148.9 59.8L149.9 59.8L150.9 59.8L151.9 59.8L152.9 59.8L153.9 59.8L154.9 59.8L155.9 59.8L156.9 59.8L157.9 59.8L158.9 59.8L159.9 59.8L160.9 59.8L161.9 59.8L162.9 59.8L163.9 59.8L164.9 59.8L165.9 59.8L166.9 59.8L167.9 59.8L168.9 59.8L169.9 59.8L170.9 59.8L171.9 59.8L172.9 59.8L173.9 59.8L174.9 59.8L175.9 59.8L176.9 59.8L177.9 59.8L178.9 59.8L179.9 59.8L180.9 59.8L181.9 59.8L182.9 59.9L183.9 59.9L184.9 59.9L185.9 59.9L186.9 59.9L187.9 59.9L188.9 59.9L189.9 59.9L190.9 59.9L191.9 59.9L192.9 60.0L193.9 60.0L194.9 60.0L195.9 60.0L196.9 60.1L197.9 60.1L198.9 60.1L199.9 60.2L200.9 60.2L201.9 60.3L202.9 60.4L203.9 60.4L204.9 60.5L205.9 60.6L206.9 60.7L207.9 60.7L208.9 60.8L209.9 60.9L210.9 61.1L211.9 61.2L212.9 61.3L213.9 61.4L214.9 61.5L215.9 61.7L216.9 61.8L217.9 61.9L218.9 62.0L219.9 62.2L220.9 62.3L221.9 62.4L222.9 62.5L223.9 62.7L224.9 62.8L225.9 62.9L226.9 63.0L227.9 63.0L228.9 63.1L229.9 63.2L230.9 63.2L231.9 63.3L232.9 63.3L233.9 63.3L234.9 63.3L235.9 63.3L236.9 63.2L237.9 63.2L238.9 63.1L239.9 63.1L240.9 63.0L241.9 62.9L242.9 62.8L243.9 62.7L244.9 62.6L245.9 62.5L246.9 62.3L247.9 62.2L248.9 62.1L249.9 61.9L250.9 61.8L251.9 61.7L252.9 61.6L253.9 61.4L254.9 61.3L255.9 61.2L256.9 61.1L257.9 61.0L258.9 60.9L259.9 60.8L260.9 60.7L261.9 60.6L262.9 60.5L263.9 60.4L264.9 60.4L265.9 60.3L266.9 60.2L267.9 60.2L268.9 60.2L269.9 60.1L270.9 60.1L271.9 60.0L272.9 60.0L273.9 60.0L274.9 60.0L275.9 59.9L276.9 59.9L277.9 59.9L278.9 59.9L279.9 59.9L280.9 59.9L281.9 59.9L282.9 59.9L283.9 59.9L284.9 59.9L285.9 59.8L286.9 59.8L287.9 59.8L288.9 59.8L289.9 59.8L290.9 59.8L291.9 59.8L292.9 59.8L293.9 59.8L294.9 59.8L295.9 59.8L296.9 59.8L297.9 59.8L298.9 59.8L299.9 59.8L300.9 59.8L301.9 59.8L302.9 59.8L303.9 59.8L304.9 59.8L305.9 59.8L306.9 59.8L307.9 59.8L308.9 59.8L309.9 59.8L310.9 59.8L311.9 59.8L312.9 59.8L313.9 59.8L314.9 59.8L315.9 59.8L316.9 59.8L317.9 59.8L318.9 59.8L319.9 59.8L320.9 59.8L321.9 59.8L322.9 59.8L323.9 59.8L324.9 59.8L325.9 59.8L326.9 59.8L327.9 59.8L328.9 59.8L329.9 59.8L330.9 59.8L331.9 59.8L332.9 59.8L333.9 59.8L334.9 59.8L335.9 59.8L336.9 59.8L337.9 59.8L338.9 59.8L339.9 59.8L340.9 59.8L341.9 59.8L342.9 59.8L343.9 59.8L344.9 59.8L345.9 59.8L346.9 59.8L347.9 59.8L348.9 59.8L349.9 59.8L350.9 59.8L351.9 59.8L352.9 59.8L353.9 59.8L354.9 59.8L355.9 59.8L356.9 59.8L357.9 59.8L358.9 59.8L359.9 59.8L360.9 59.8L361.9 59.8L362.9 59.8L363.9 59.8L364.9 59.8L365.9 59.8L366.9 59.8L367.9 59.8L368.9 59.8L369.9 59.8L370.9 59.8L371.9 59.8L372.9 59.8L373.9 59.8L374.9 59.7L375.9 59.7L376.9 59.7L377.9 59.7L378.9 59.7L379.9 59.6L380.9 59.6L381.9 59.6L382.9 59.6L383.9 59.6L384.9 59.5L385.9 59.5L386.9 59.5L387.9 59.5L388.9 59.5L389.9 59.4L390.9 59.4L391.9 59.4L392.9 59.4L393.9 59.4L394.9 59.4L395.9 59.3L396.9 59.3L397.9 59.3L398.9 59.3L399.9 59.3L400.9 59.3L401.9 59.2L402.9 59.2L403.9 59.2L404.9 59.2L405.9 59.2L406.9 59.2L407.9 59.2L408.9 59.1L409.9 59.1L410.9 59.1L411.9 59.1L412.9 59.1L413.9 59.1L414.9 59.1L415.9 59.1L416.9 59.1L417.9 59.1L418.9 59.1L419.9 59.1L420.9 59.1L421.9 59.1L422.9 59.1L423.9 59.1L424.9 59.1L425.9 59.1L426.9 59.1L427.9 59.1L428.9 59.1L429.9 59.1L430.9 59.2L431.9 59.2L432.9 59.3L433.9 59.3L434.9 59.3L435.9 59.4L436.9 59.4L437.9 59.5L438.9 59.5L439.9 59.6L440.9 59.7L441.9 59.7L442.9 59.8L443.9 59.8L444.9 59.9L445.9 60.0L446.9 60.1L447.9 60.1L448.9 60.2L449.9 60.3L450.9 60.4L451.9 60.4L452.9 60.5L453.9 60.6L454.9 60.7L455.9 60.8L456.9 60.9L457.9 61.0L458.9 61.1L459.9 61.2L460.9 61.3L461.9 61.4L462.9 61.5L463.9 61.6L464.9 61.7L465.9 61.8L466.9 61.9L467.9 62.0L468.9 62.1L469.9 62.2L470.9 62.3L471.9 62.5L472.9 62.6L473.9 62.7L474.9 62.8L475.9 62.9L476.9 63.0L477.9 63.1L478.9 63.2L479.9 63.3L480.9 63.4L481.9 63.5L482.9 63.5L483.9 63.6L484.9 63.7L485.9 63.8L486.9 63.9L487.9 63.9L488.9 64.0L489.9 64.1L490.9 64.1L491.9 64.2L492.9 64.2L493.9 64.3L494.9 64.3L495.9 64.3L496.9 64.4L497.9 64.4L498.9 64.4L499.9 64.4L500.9 64.4L501.9 64.4L502.9 64.4L503.9 64.4L504.9 64.4L505.9 64.4L506.9 64.4L507.9 64.3L508.9 64.3L509.9 64.3L510.9 64.2L511.9 64.2L512.9 64.1L513.9 64.1L514.9 64.0L515.9 63.9L516.9 63.9L517.9 63.8L518.9 63.7L519.9 63.6L520.9 63.6L521.9 63.5L522.9 63.4L523.9 63.3L524.9 63.2L525.9 63.1L526.9 63.0L527.9 62.9L528.9 62.8L529.9 62.7L530.9 62.6L531.9 62.5L532.9 62.4L533.9 62.3L534.9 62.2L535.9 62.0L536.9 61.9L537.9 61.8L538.9 61.7L539.9 61.6L540.9 61.5L541.9 61.4L542.9 61.3L543.9 61.2L544.9 61.1L545.9 61.0L546.9 60.9L547.9 60.8L548.9 60.7L549.9 60.6L550.9 60.5L551.9 60.5L552.9 60.4L553.9 60.3L554.9 60.2L555.9 60.1L556.9 60.1L557.9 60.0L558.9 59.9L559.9 59.9L560.9 59.8L561.9 59.7L562.9 59.7L563.9 59.6L564.9 59.6L565.9 59.5L566.9 59.4L567.9 59.4L568.9 59.3L569.9 59.3L570.9 59.3L571.9 59.2L572.9 59.2L573.9 59.1L574.9 59.1L575.9 59.1L576.9 59.0L577.9 59.0L578.9 59.0L579.9 59.0L580.9 58.9L581.9 58.9L582.9 58.9L583.9 58.9L584.9 58.9L585.9 58.8L586.9 58.8L587.9 58.8L588.9 58.8L589.9 58.8L590.9 58.8L591.9 58.7L592.9 58.7L593.9 58.7L594.9 58.7L595.9 58.7L596.9 58.7L597.9 58.7L598.9 58.7L599.9 58.7L600.9 58.7L601.9 58.7L602.9 58.7L603.9 58.7L604.9 58.6L605.9 58.6L606.9 58.6L607.9 58.6L608.9 58.6L609.9 58.6L610.9 58.6L611.9 58.6L612.9 58.6L613.9 58.6L614.9 58.6L615.9 58.6L616.9 58.6L617.9 58.6L618.9 58.6L619.9 58.6L620.9 58.6L621.9 58.6L622.9 58.6L623.9 58.6L624.9 58.6L625.9 58.6L626.9 58.6L627.9 58.6L628.9 58.6L629.9 58.6L630.9 58.6L631.9 58.6L632.9 58.6L633.9 58.6L634.9 58.6L635.9 58.6L636.9 58.6L637.9 58.6L638.9 58.6L639.9 58.6L640.9 58.6L641.9 58.6L642.9 58.6L643.9 58.6L644.9 58.6L645.9 58.6L646.9 58.6L647.9 58.6L648.9 58.6L649.9 58.6L650.9 58.6L651.9 58.6L652.9 58.6L653.9 58.6L654.9 58.6L655.9 58.6L656.9 58.6L657.9 58.6L658.9 58.6L659.9 58.6L660.9 58.6L661.9 58.6L662.9 58.6L663.9 58.6L664.9 58.6L665.9 58.6L666.9 58.6L667.9 58.6L668.9 58.6L669.9 58.6L670.9 58.6L671.9 58.6L672.9 58.6L673.9 58.6L674.9 58.6L675.9 58.6L676.9 58.6L677.9 58.6L678.9 58.6L679.9 58.6L680.9 58.6L681.9 58.6L682.9 58.6L683.9 58.6L684.9 58.6L685.9 58.6L686.9 58.6L687.9 58.6L688.9 58.6L689.9 58.6L690.9 58.6L691.9 58.6L692.9 58.6L693.9 58.6L694.9 58.6L695.9 58.6L696.9 58.6L697.9 58.6L698.9 58.6L699.9 58.6L700.9 58.6L701.9 58.6L702.9 58.6L703.9 58.6L704.9 58.6L705.9 58.6L706.9 58.6L707.9 58.6L708.9 58.6L709.9 58.6L710.9 58.6L711.9 58.6L712.9 58.6L713.9 58.6L714.9 58.6L715.9 58.6L716.9 58.6L717.9 58.6L718.9 58.6L719.9 58.6L720.9 58.6L721.9 58.6L722.9 58.6L723.9 58.6L724.9 58.6L725.9 58.6L726.9 58.6L727.9 58.6L728.9 58.6L729.9 58.6L730.9 58.6L731.9 58.6L732.9 58.6L733.9 58.6L734.9 58.6L735.9 58.6L736.9 58.6L737.9 58.6L738.9 58.6L739.9 58.6L740.9 58.6L741.9 58.6L742.9 58.6L743.9 58.6L744.9 58.6L745.9 58.6L746.9 58.6L747.9 58.6L748.9 58.6L749.9 58.6L750.9 58.6L751.9 58.6L752.9 58.6L753.9 58.6L754.9 58.6" fill="none" stroke="#0000ff" stroke-width="2.4" stroke-dasharray="2.4 3.6" stroke-linecap="butt"/>
<path d="M86.9 59.9L87.9 59.9L88.9 59.9L89.9 59.9L90.9 59.9L91.9 59.9L92.9 59.9L93.9 59.9L94.9 59.9L95.9 59.9L96.9 59.9L97.9 59.9L98.9 59.9L99.9 59.9L100.9 59.9L101.9 59.9L102.9 59.9L103.9 59.9L104.9 59.9L105.9 59.9L106.9 59.9L107.9 59.9L108.9 59.9L109.9 59.9L110.9 59.9L111.9 59.9L112.9 59.9L113.9 59.9L114.9 59.9L115.9 59.9L116.9 59.9L117.9 59.9L118.9 59.9L119.9 59.9L120.9 59.9L121.9 59.9L122.9 59.9L123.9 59.9L124.9 59.9L125.9 59.9L126.9 59.9L127.9 59.9L128.9 59.9L129.9 59.9L130.9 59.9L131.9 59.9L132.9 59.9L133.9 59.9L134.9 59.9L135.9 59.9L136.9 59.9L137.9 59.9L138.9 59.9L139.9 59.9L140.9 59.9L141.9 59.9L142.9 59.9L143.9 59.9L144.9 59.9L145.9 59.9L146.9 59.9L147.9 59.9L148.9 59.9L149.9 59.9L150.9 59.9L151.9 59.9L152.9 59.9L153.9 59.9L154.9 59.9L155.9 59.9L156.9 59.9L157.9 59.9L158.9 59.9L159.9 59.9L160.9 59.9L161.9 59.9L162.9 59.9L163.9 59.9L164.9 59.9L165.9 59.9L166.9 59.9L167.9 59.9L168.9 59.9L169.9 59.9L170.9 59.9L171.9 59.9L172.9 59.9L173.9 59.9L174.9 59.9L175.9 59.9L176.9 59.9L177.9 59.9L178.9 59.9L179.9 59.9L180.9 59.9L181.9 59.9L182.9 59.9L183.9 59.9L184.9 59.9L185.9 59.9L186.9 59.9L187.9 59.9L188.9 60.0L189.9 60.0L190.9 60.0L191.9 60.0L192.9 60.0L193.9 60.0L194.9 60.1L195.9 60.1L196.9 60.1L197.9 60.2L198.9 60.2L199.9 60.2L200.9 60.3L201.9 60.4L202.9 60.4L203.9 60.5L204.9 60.6L205.9 60.6L206.9 60.7L207.9 60.8L208.9 60.9L209.9 61.0L210.9 61.1L211.9 61.2L212.9 61.3L213.9 61.5L214.9 61.6L215.9 61.7L216.9 61.8L217.9 62.0L218.9 62.1L219.9 62.2L220.9 62.4L221.9 62.5L222.9 62.6L223.9 62.7L224.9 62.8L225.9 62.9L226.9 63.0L227.9 63.1L228.9 63.2L229.9 63.2L230.9 63.3L231.9 63.3L232.9 63.3L233.9 63.3L234.9 63.3L235.9 63.3L236.9 63.3L237.9 63.2L238.9 63.2L239.9 63.1L240.9 63.0L241.9 63.0L242.9 62.9L243.9 62.7L244.9 62.6L245.9 62.5L246.9 62.4L247.9 62.3L248.9 62.1L249.9 62.0L250.9 61.9L251.9 61.7L252.9 61.6L253.9 61.5L254.9 61.4L255.9 61.2L256.9 61.1L257.9 61.0L258.9 60.9L259.9 60.8L260.9 60.7L261.9 60.6L262.9 60.6L263.9 60.5L264.9 60.4L265.9 60.4L266.9 60.3L267.9 60.3L268.9 60.2L269.9 60.2L270.9 60.1L271.9 60.1L272.9 60.1L273.9 60.0L274.9 60.0L275.9 60.0L276.9 60.0L277.9 60.0L278.9 60.0L279.9 59.9L280.9 59.9L281.9 59.9L282.9 59.9L283.9 59.9L284.9 59.9L285.9 59.9L286.9 59.9L287.9 59.9L288.9 59.9L289.9 59.9L290.9 59.9L291.9 59.9L292.9 59.9L293.9 59.9L294.9 59.9L295.9 59.9L296.9 59.9L297.9 59.9L298.9 59.9L299.9 59.9L300.9 59.9L301.9 59.9L302.9 59.9L303.9 59.9L304.9 59.9L305.9 59.9L306.9 59.9L307.9 59.9L308.9 59.9L309.9 59.9L310.9 59.9L311.9 59.9L312.9 59.9L313.9 59.9L314.9 59.9L315.9 59.9L316.9 59.9L317.9 59.9L318.9 59.9L319.9 59.9L320.9 59.9L321.9 59.9L322.9 59.9L323.9 59.9L324.9 59.9L325.9 59.9L326.9 59.9L327.9 59.9L328.9 59.9L329.9 59.9L330.9 59.9L331.9 59.9L332.9 59.9L333.9 59.9L334.9 59.9L335.9 59.9L336.9 59.9L337.9 59.9L338.9 59.9L339.9 59.9L340.9 59.9L341.9 59.9L342.9 59.9L343.9 59.9L344.9 59.9L345.9 59.9L346.9 59.9L347.9 59.9L348.9 59.9L349.9 59.9L350.9 59.9L351.9 59.9L352.9 59.9L353.9 59.9L354.9 59.9L355.9 59.9L356.9 59.9L357.9 59.9L358.9 59.9L359.9 59.9L360.9 59.9L361.9 59.9L362.9 59.9L363.9 59.9L364.9 59.9L365.9 59.9L366.9 59.9L367.9 59.9L368.9 59.9L369.9 59.9L370.9 59.9L371.9 59.9L372.9 59.9L373.9 59.9L374.9 59.9L375.9 59.9L376.9 59.9L377.9 59.9L378.9 59.9L379.9 59.9L380.9 59.9L381.9 59.9L382.9 59.9L383.9 59.9L384.9 59.9L385.9 59.9L386.9 59.9L387.9 59.9L388.9 59.9L389.9 59.9L390.9 59.9L391.9 59.9L392.9 60.0L393.9 60.0L394.9 60.0L395.9 60.0L396.9 60.0L397.9 60.0L398.9 60.0L399.9 60.0L400.9 60.0L401.9 60.1L402.9 60.1L403.9 60.1L404.9 60.1L405.9 60.1L406.9 60.2L407.9 60.2L408.9 60.2L409.9 60.2L410.9 60.3L411.9 60.3L412.9 60.4L413.9 60.4L414.9 60.4L415.9 60.5L416.9 60.6L417.9 60.6L418.9 60.7L419.9 60.7L420.9 60.8L421.9 60.9L422.9 61.0L423.9 61.1L424.9 61.2L425.9 61.3L426.9 61.4L427.9 61.5L428.9 61.6L429.9 61.7L430.9 61.9L431.9 62.0L432.9 62.2L433.9 62.4L434.9 62.6L435.9 62.8L436.9 63.0L437.9 63.2L438.9 63.4L439.9 63.7L440.9 63.9L441.9 64.2L442.9 64.5L443.9 64.8L444.9 65.2L445.9 65.5L446.9 65.9L447.9 66.3L448.9 66.7L449.9 67.1L450.9 67.6L451.9 68.0L452.9 68.5L453.9 69.1L454.9 69.6L455.9 70.2L456.9 70.8L457.9 71.4L458.9 72.1L459.9 72.8L460.9 73.5L461.9 74.2L462.9 75.0L463.9 75.9L464.9 76.7L465.9 77.6L466.9 78.5L467.9 79.5L468.9 80.5L469.9 81.5L470.9 82.6L471.9 83.7L472.9 84.9L473.9 86.1L474.9 87.3L475.9 88.6L476.9 89.9L477.9 91.3L478.9 92.7L479.9 94.1L480.9 95.6L481.9 97.2L482.9 98.8L483.9 100.4L484.9 102.1L485.9 103.8L486.9 105.6L487.9 107.4L488.9 109.3L489.9 111.2L490.9 113.2L491.9 115.2L492.9 117.2L493.9 119.3L494.9 121.5L495.9 123.7L496.9 125.9L497.9 128.2L498.9 130.5L499.9 132.8L500.9 135.3L501.9 137.7L502.9 140.2L503.9 142.7L504.9 145.3L505.9 147.9L506.9 150.5L507.9 153.2L508.9 155.8L509.9 158.6L510.9 161.3L511.9 164.1L512.9 166.9L513.9 169.7L514.9 172.6L515.9 175.4L516.9 178.3L517.9 181.2L518.9 184.1L519.9 187.0L520.9 190.0L521.9 192.9L522.9 195.8L523.9 198.7L524.9 201.6L525.9 204.6L526.9 207.5L527.9 210.3L528.9 213.2L529.9 216.1L530.9 218.9L531.9 221.7L532.9 224.5L533.9 227.2L534.9 229.9L535.9 232.6L536.9 235.2L537.9 237.8L538.9 240.3L539.9 242.8L540.9 245.3L541.9 247.6L542.9 250.0L543.9 252.2L544.9 254.4L545.9 256.5L546.9 258.6L547.9 260.5L548.9 262.4L549.9 264.3L550.9 266.0L551.9 267.7L552.9 269.2L553.9 270.7L554.9 272.1L555.9 273.4L556.9 274.6L557.9 275.7L558.9 276.7L559.9 277.6L560.9 278.4L561.9 279.2L562.9 279.8L563.9 280.3L564.9 280.7L565.9 281.0L566.9 281.2L567.9 281.3L568.9 281.2L569.9 281.1L570.9 280.9L571.9 280.6L572.9 280.1L573.9 279.6L574.9 278.9L575.9 278.2L576.9 277.3L577.9 276.3L578.9 275.3L579.9 274.1L580.9 272.9L581.9 271.5L582.9 270.0L583.9 268.5L584.9 266.8L585.9 265.1L586.9 263.3L587.9 261.4L588.9 259.4L589.9 257.3L590.9 255.1L591.9 252.9L592.9 250.6L593.9 248.2L594.9 245.8L595.9 243.2L596.9 240.7L597.9 238.0L598.9 235.3L599.9 232.6L600.9 229.8L601.9 227.0L602.9 224.1L603.9 221.2L604.9 218.2L605.9 215.2L606.9 212.2L607.9 209.2L608.9 206.1L609.9 203.0L610.9 199.9L611.9 196.8L612.9 193.7L613.9 190.5L614.9 187.4L615.9 184.3L616.9 181.2L617.9 178.1L618.9 175.0L619.9 171.9L620.9 168.8L621.9 165.8L622.9 162.7L623.9 159.7L624.9 156.7L625.9 153.8L626.9 150.9L627.9 148.0L628.9 145.2L629.9 142.4L630.9 139.6L631.9 136.9L632.9 134.2L633.9 131.6L634.9 129.0L635.9 126.5L636.9 124.0L637.9 121.6L638.9 119.2L639.9 116.9L640.9 114.6L641.9 112.4L642.9 110.3L643.9 108.2L644.9 106.1L645.9 104.1L646.9 102.2L647.9 100.3L648.9 98.5L649.9 96.7L650.9 95.0L651.9 93.4L652.9 91.8L653.9 90.2L654.9 88.7L655.9 87.3L656.9 85.9L657.9 84.6L658.9 83.3L659.9 82.1L660.9 80.9L661.9 79.8L662.9 78.7L663.9 77.7L664.9 76.7L665.9 75.7L666.9 74.8L667.9 73.9L668.9 73.1L669.9 72.3L670.9 71.6L671.9 70.9L672.9 70.2L673.9 69.6L674.9 68.9L675.9 68.4L676.9 67.8L677.9 67.3L678.9 66.8L679.9 66.4L680.9 65.9L681.9 65.5L682.9 65.1L683.9 64.8L684.9 64.4L685.9 64.1L686.9 63.8L687.9 63.5L688.9 63.3L689.9 63.0L690.9 62.8L691.9 62.6L692.9 62.4L693.9 62.2L694.9 62.0L695.9 61.9L696.9 61.7L697.9 61.6L698.9 61.5L699.9 61.3L700.9 61.2L701.9 61.1L702.9 61.0L703.9 60.9L704.9 60.8L705.9 60.8L706.9 60.7L707.9 60.6L708.9 60.6L709.9 60.5L710.9 60.5L711.9 60.4L712.9 60.4L713.9 60.3L714.9 60.3L715.9 60.2L716.9 60.2L717.9 60.2L718.9 60.2L719.9 60.1L720.9 60.1L721.9 60.1L722.9 60.1L723.9 60.1L724.9 60.0L725.9 60.0L726.9 60.0L727.9 60.0L728.9 60.0L729.9 60.0L730.9 60.0L731.9 60.0L732.9 60.0L733.9 59.9L734.9 59.9L735.9 59.9L736.9 59.9L737.9 59.9L738.9 59.9L739.9 59.9L740.9 59.9L741.9 59.9L742.9 59.9L743.9 59.9L744.9 59.9L745.9 59.9L746.9 59.9L747.9 59.9L748.9 59.9L749.9 59.9L750.9 59.9L751.9 59.9L752.9 59.9L753.9 59.9L754.9 59.9" fill="none" stroke="#ff0000" stroke-width="2.4" stroke-linejoin="round"/>
<path d="M86.90 58.56H755.30" stroke="#000" stroke-width="2.4"/>
</g>
<path d="M86.90 335.15v-11.80M86.90 43.40v11.80M220.58 335.15v-11.80M220.58 43.40v11.80M354.26 335.15v-11.80M354.26 43.40v11.80M487.94 335.15v-11.80M487.94 43.40v11.80M621.62 335.15v-11.80M621.62 43.40v11.80M86.90 304.44h11.80M755.30 304.44h-11.80M86.90 243.02h11.80M755.30 243.02h-11.80M86.90 181.60h11.80M755.30 181.60h-11.80M86.90 120.18h11.80M755.30 120.18h-11.80M86.90 58.76h11.80M755.30 58.76h-11.80" fill="none" stroke="#000" stroke-width="1.25"/>
<rect x="86.90" y="43.40" width="668.40" height="291.75" fill="none" stroke="#000" stroke-width="1.5"/>
<text x="84.20" y="363.75" text-anchor="middle">4214.8</text>
<text x="220.58" y="363.75" text-anchor="middle">4215</text>
<text x="351.56" y="363.75" text-anchor="middle">4215.2</text>
<text x="485.24" y="363.75" text-anchor="middle">4215.4</text>
<text x="618.92" y="363.75" text-anchor="middle">4215.6</text>
<text x="71.70" y="313.14" text-anchor="end">0.2</text>
<text x="71.70" y="251.72" text-anchor="end">0.4</text>
<text x="71.70" y="190.30" text-anchor="end">0.6</text>
<text x="71.70" y="128.88" text-anchor="end">0.8</text>
<text x="71.70" y="67.46" text-anchor="end">1.0</text>
<text x="422.30" y="390.65" text-anchor="middle" style="font-size:17.8px">Lambda</text>
<path transform="translate(32.40 254.46) rotate(-90)" d="M5.30 -11.13 L1.59 0.00 M5.30 -11.13 L9.01 0.00 M5.30 -9.54 L8.48 0.00 M2.65 -3.18 L7.42 -3.18 M0.53 0.00 L3.71 0.00 M6.89 0.00 L10.07 0.00 M13.25 -7.42 L13.25 0.00 M13.78 -7.42 L13.78 0.00 M13.78 -4.24 L14.31 -5.83 L15.37 -6.89 L16.43 -7.42 L18.02 -7.42 L18.55 -6.89 L18.55 -6.36 L18.02 -5.83 L17.49 -6.36 L18.02 -6.89 M11.66 -7.42 L13.78 -7.42 M11.66 0.00 L15.37 0.00 M22.26 -11.13 L22.26 0.00 M22.79 -11.13 L22.79 0.00 M22.79 -5.83 L23.85 -6.89 L24.91 -7.42 L25.97 -7.42 L27.56 -6.89 L28.62 -5.83 L29.15 -4.24 L29.15 -3.18 L28.62 -1.59 L27.56 -0.53 L25.97 0.00 L24.91 0.00 L23.85 -0.53 L22.79 -1.59 M25.97 -7.42 L27.03 -6.89 L28.09 -5.83 L28.62 -4.24 L28.62 -3.18 L28.09 -1.59 L27.03 -0.53 L25.97 0.00 M20.67 -11.13 L22.79 -11.13 M33.39 -11.13 L32.86 -10.60 L33.39 -10.07 L33.92 -10.60 L33.39 -11.13 M33.39 -7.42 L33.39 0.00 M33.92 -7.42 L33.92 0.00 M31.80 -7.42 L33.92 -7.42 M31.80 0.00 L35.51 0.00 M39.22 -11.13 L39.22 -2.12 L39.75 -0.53 L40.81 0.00 L41.87 0.00 L42.93 -0.53 L43.46 -1.59 M39.75 -11.13 L39.75 -2.12 L40.28 -0.53 L40.81 0.00 M37.63 -7.42 L41.87 -7.42 M47.17 -7.42 L47.17 0.00 M47.70 -7.42 L47.70 0.00 M47.70 -4.24 L48.23 -5.83 L49.29 -6.89 L50.35 -7.42 L51.94 -7.42 L52.47 -6.89 L52.47 -6.36 L51.94 -5.83 L51.41 -6.36 L51.94 -6.89 M45.58 -7.42 L47.70 -7.42 M45.58 0.00 L49.29 0.00 M56.18 -6.36 L56.18 -5.83 L55.65 -5.83 L55.65 -6.36 L56.18 -6.89 L57.24 -7.42 L59.36 -7.42 L60.42 -6.89 L60.95 -6.36 L61.48 -5.30 L61.48 -1.59 L62.01 -0.53 L62.54 0.00 M60.95 -6.36 L60.95 -1.59 L61.48 -0.53 L62.54 0.00 L63.07 0.00 M60.95 -5.30 L60.42 -4.77 L57.24 -4.24 L55.65 -3.71 L55.12 -2.65 L55.12 -1.59 L55.65 -0.53 L57.24 0.00 L58.83 0.00 L59.89 -0.53 L60.95 -1.59 M57.24 -4.24 L56.18 -3.71 L55.65 -2.65 L55.65 -1.59 L56.18 -0.53 L57.24 0.00 M66.78 -7.42 L66.78 0.00 M67.31 -7.42 L67.31 0.00 M67.31 -4.24 L67.84 -5.83 L68.90 -6.89 L69.96 -7.42 L71.55 -7.42 L72.08 -6.89 L72.08 -6.36 L71.55 -5.83 L71.02 -6.36 L71.55 -6.89 M65.19 -7.42 L67.31 -7.42 M65.19 0.00 L68.90 0.00 M75.26 -7.42 L78.44 0.00 M75.79 -7.42 L78.44 -1.06 M81.62 -7.42 L78.44 0.00 L77.38 2.12 L76.32 3.18 L75.26 3.71 L74.73 3.71 L74.20 3.18 L74.73 2.65 L75.26 3.18 M74.20 -7.42 L77.38 -7.42 M79.50 -7.42 L82.68 -7.42 M94.34 -11.13 L94.34 0.00 M94.87 -11.13 L94.87 0.00 M98.05 -7.95 L98.05 -3.71 M92.75 -11.13 L101.23 -11.13 L101.23 -7.95 L100.70 -11.13 M94.87 -5.83 L98.05 -5.83 M92.75 0.00 L96.46 0.00 M104.94 -11.13 L104.94 0.00 M105.47 -11.13 L105.47 0.00 M103.35 -11.13 L105.47 -11.13 M103.35 0.00 L107.06 0.00 M110.77 -7.42 L110.77 -1.59 L111.30 -0.53 L112.89 0.00 L113.95 0.00 L115.54 -0.53 L116.60 -1.59 M111.30 -7.42 L111.30 -1.59 L111.83 -0.53 L112.89 0.00 M116.60 -7.42 L116.60 0.00 M117.13 -7.42 L117.13 0.00 M109.18 -7.42 L111.30 -7.42 M115.01 -7.42 L117.13 -7.42 M116.60 0.00 L118.72 0.00 M121.90 -7.42 L127.73 0.00 M122.43 -7.42 L128.26 0.00 M128.26 -7.42 L121.90 0.00 M120.84 -7.42 L124.02 -7.42 M126.14 -7.42 L129.32 -7.42 M120.84 0.00 L124.02 0.00 M126.14 0.00 L129.32 0.00" fill="none" stroke="#000" stroke-width="1.0" stroke-linecap="round" stroke-linejoin="round"/>
<path transform="translate(119.80 215.00)" d="M10.01 -10.60 L10.60 -8.83 L10.60 -12.36 L10.01 -10.60 L8.83 -11.78 L7.07 -12.36 L5.89 -12.36 L4.12 -11.78 L2.94 -10.60 L2.36 -9.42 L1.77 -7.65 L1.77 -4.71 L2.36 -2.94 L2.94 -1.77 L4.12 -0.59 L5.89 0.00 L7.07 0.00 L8.83 -0.59 L10.01 -1.77 L10.60 -2.94 M5.89 -12.36 L4.71 -11.78 L3.53 -10.60 L2.94 -9.42 L2.36 -7.65 L2.36 -4.71 L2.94 -2.94 L3.53 -1.77 L4.71 -0.59 L5.89 0.00 M21.79 -10.60 L22.37 -12.36 L22.37 -8.83 L21.79 -10.60 L20.61 -11.78 L18.84 -12.36 L17.08 -12.36 L15.31 -11.78 L14.13 -10.60 L14.13 -9.42 L14.72 -8.24 L15.31 -7.65 L16.49 -7.07 L20.02 -5.89 L21.20 -5.30 L22.37 -4.12 M14.13 -9.42 L15.31 -8.24 L16.49 -7.65 L20.02 -6.48 L21.20 -5.89 L21.79 -5.30 L22.37 -4.12 L22.37 -1.77 L21.20 -0.59 L19.43 0.00 L17.66 0.00 L15.90 -0.59 L14.72 -1.77 L14.13 -3.53 L14.13 0.00 L14.72 -1.77 M35.92 -10.01 L36.51 -9.42 L35.92 -8.83 L35.33 -9.42 L35.33 -10.01 L35.92 -11.19 L36.51 -11.78 L38.27 -12.36 L40.63 -12.36 L42.39 -11.78 L42.98 -10.60 L42.98 -8.83 L42.39 -7.65 L40.63 -7.07 L38.86 -7.07 M40.63 -12.36 L41.80 -11.78 L42.39 -10.60 L42.39 -8.83 L41.80 -7.65 L40.63 -7.07 M40.63 -7.07 L41.80 -6.48 L42.98 -5.30 L43.57 -4.12 L43.57 -2.36 L42.98 -1.18 L42.39 -0.59 L40.63 0.00 L38.27 0.00 L36.51 -0.59 L35.92 -1.18 L35.33 -2.36 L35.33 -2.94 L35.92 -3.53 L36.51 -2.94 L35.92 -2.36 M42.39 -5.89 L42.98 -4.12 L42.98 -2.36 L42.39 -1.18 L41.80 -0.59 L40.63 0.00 M50.64 -12.36 L48.87 -11.78 L47.69 -10.01 L47.10 -7.07 L47.10 -5.30 L47.69 -2.36 L48.87 -0.59 L50.64 0.00 L51.81 0.00 L53.58 -0.59 L54.76 -2.36 L55.35 -5.30 L55.35 -7.07 L54.76 -10.01 L53.58 -11.78 L51.81 -12.36 L50.64 -12.36 M50.64 -12.36 L49.46 -11.78 L48.87 -11.19 L48.28 -10.01 L47.69 -7.07 L47.69 -5.30 L48.28 -2.36 L48.87 -1.18 L49.46 -0.59 L50.64 0.00 M51.81 0.00 L52.99 -0.59 L53.58 -1.18 L54.17 -2.36 L54.76 -5.30 L54.76 -7.07 L54.17 -10.01 L53.58 -11.19 L52.99 -11.78 L51.81 -12.36 M59.47 -10.01 L60.06 -9.42 L59.47 -8.83 L58.88 -9.42 L58.88 -10.01 L59.47 -11.19 L60.06 -11.78 L61.82 -12.36 L64.18 -12.36 L65.95 -11.78 L66.53 -10.60 L66.53 -8.83 L65.95 -7.65 L64.18 -7.07 L62.41 -7.07 M64.18 -12.36 L65.36 -11.78 L65.95 -10.60 L65.95 -8.83 L65.36 -7.65 L64.18 -7.07 M64.18 -7.07 L65.36 -6.48 L66.53 -5.30 L67.12 -4.12 L67.12 -2.36 L66.53 -1.18 L65.95 -0.59 L64.18 0.00 L61.82 0.00 L60.06 -0.59 L59.47 -1.18 L58.88 -2.36 L58.88 -2.94 L59.47 -3.53 L60.06 -2.94 L59.47 -2.36 M65.95 -5.89 L66.53 -4.12 L66.53 -2.36 L65.95 -1.18 L65.36 -0.59 L64.18 0.00 M72.42 -10.01 L73.60 -10.60 L75.37 -12.36 L75.37 0.00 M74.78 -11.78 L74.78 0.00 M72.42 0.00 L77.72 0.00 M83.61 -12.36 L82.43 -6.48 M82.43 -6.48 L83.61 -7.65 L85.38 -8.24 L87.14 -8.24 L88.91 -7.65 L90.09 -6.48 L90.68 -4.71 L90.68 -3.53 L90.09 -1.77 L88.91 -0.59 L87.14 0.00 L85.38 0.00 L83.61 -0.59 L83.02 -1.18 L82.43 -2.36 L82.43 -2.94 L83.02 -3.53 L83.61 -2.94 L83.02 -2.36 M87.14 -8.24 L88.32 -7.65 L89.50 -6.48 L90.09 -4.71 L90.09 -3.53 L89.50 -1.77 L88.32 -0.59 L87.14 0.00 M83.61 -12.36 L89.50 -12.36 M83.61 -11.78 L86.55 -11.78 L89.50 -12.36 M94.80 -5.30 L105.40 -5.30 M113.05 -12.36 L111.28 -11.78 L110.11 -10.01 L109.52 -7.07 L109.52 -5.30 L110.11 -2.36 L111.28 -0.59 L113.05 0.00 L114.23 0.00 L115.99 -0.59 L117.17 -2.36 L117.76 -5.30 L117.76 -7.07 L117.17 -10.01 L115.99 -11.78 L114.23 -12.36 L113.05 -12.36 M113.05 -12.36 L111.87 -11.78 L111.28 -11.19 L110.69 -10.01 L110.11 -7.07 L110.11 -5.30 L110.69 -2.36 L111.28 -1.18 L111.87 -0.59 L113.05 0.00 M114.23 0.00 L115.40 -0.59 L115.99 -1.18 L116.58 -2.36 L117.17 -5.30 L117.17 -7.07 L116.58 -10.01 L115.99 -11.19 L115.40 -11.78 L114.23 -12.36 M121.88 -10.01 L122.47 -9.42 L121.88 -8.83 L121.29 -9.42 L121.29 -10.01 L121.88 -11.19 L122.47 -11.78 L124.24 -12.36 L126.59 -12.36 L128.36 -11.78 L128.95 -11.19 L129.54 -10.01 L129.54 -8.83 L128.95 -7.65 L127.18 -6.48 L124.24 -5.30 L123.06 -4.71 L121.88 -3.53 L121.29 -1.77 L121.29 0.00 M126.59 -12.36 L127.77 -11.78 L128.36 -11.19 L128.95 -10.01 L128.95 -8.83 L128.36 -7.65 L126.59 -6.48 L124.24 -5.30 M121.29 -1.18 L121.88 -1.77 L123.06 -1.77 L126.00 -0.59 L127.77 -0.59 L128.95 -1.18 L129.54 -1.77 M123.06 -1.77 L126.00 0.00 L128.36 0.00 L128.95 -0.59 L129.54 -1.77 L129.54 -2.94 M140.72 -8.24 L140.13 -6.48 L138.96 -5.30 L137.19 -4.71 L136.60 -4.71 L134.84 -5.30 L133.66 -6.48 L133.07 -8.24 L133.07 -8.83 L133.66 -10.60 L134.84 -11.78 L136.60 -12.36 L137.78 -12.36 L139.55 -11.78 L140.72 -10.60 L141.31 -8.83 L141.31 -5.30 L140.72 -2.94 L140.13 -1.77 L138.96 -0.59 L137.19 0.00 L135.42 0.00 L134.25 -0.59 L133.66 -1.77 L133.66 -2.36 L134.25 -2.94 L134.84 -2.36 L134.25 -1.77 M136.60 -4.71 L135.42 -5.30 L134.25 -6.48 L133.66 -8.24 L133.66 -8.83 L134.25 -10.60 L135.42 -11.78 L136.60 -12.36 M137.78 -12.36 L138.96 -11.78 L140.13 -10.60 L140.72 -8.83 L140.72 -5.30 L140.13 -2.94 L139.55 -1.77 L138.37 -0.59 L137.19 0.00" fill="none" stroke="#000" stroke-width="1.1" stroke-linecap="round" stroke-linejoin="round"/>
<path transform="translate(119.80 239.70)" d="M9.42 -10.60 L10.01 -12.36 L10.01 -8.83 L9.42 -10.60 L8.24 -11.78 L6.48 -12.36 L4.71 -12.36 L2.94 -11.78 L1.77 -10.60 L1.77 -9.42 L2.36 -8.24 L2.94 -7.65 L4.12 -7.07 L7.65 -5.89 L8.83 -5.30 L10.01 -4.12 M1.77 -9.42 L2.94 -8.24 L4.12 -7.65 L7.65 -6.48 L8.83 -5.89 L9.42 -5.30 L10.01 -4.12 L10.01 -1.77 L8.83 -0.59 L7.07 0.00 L5.30 0.00 L3.53 -0.59 L2.36 -1.77 L1.77 -3.53 L1.77 0.00 L2.36 -1.77 M14.72 -8.24 L14.72 0.00 M15.31 -8.24 L15.31 0.00 M15.31 -4.71 L15.90 -6.48 L17.08 -7.65 L18.25 -8.24 L20.02 -8.24 L20.61 -7.65 L20.61 -7.07 L20.02 -6.48 L19.43 -7.07 L20.02 -7.65 M12.95 -8.24 L15.31 -8.24 M12.95 0.00 L17.08 0.00 M34.15 -12.36 L34.15 0.00 M34.74 -12.36 L34.74 0.00 M32.38 -12.36 L36.51 -12.36 M32.38 0.00 L36.51 0.00 M40.63 -12.36 L40.63 0.00 M41.22 -12.36 L41.22 0.00 M38.86 -12.36 L42.98 -12.36 M38.86 0.00 L42.98 0.00 M60.65 -11.19 L60.65 0.00 M61.24 -12.36 L61.24 0.00 M61.24 -12.36 L54.76 -3.53 L64.18 -3.53 M58.88 0.00 L63.00 0.00 M67.71 -10.01 L68.30 -9.42 L67.71 -8.83 L67.12 -9.42 L67.12 -10.01 L67.71 -11.19 L68.30 -11.78 L70.07 -12.36 L72.42 -12.36 L74.19 -11.78 L74.78 -11.19 L75.37 -10.01 L75.37 -8.83 L74.78 -7.65 L73.01 -6.48 L70.07 -5.30 L68.89 -4.71 L67.71 -3.53 L67.12 -1.77 L67.12 0.00 M72.42 -12.36 L73.60 -11.78 L74.19 -11.19 L74.78 -10.01 L74.78 -8.83 L74.19 -7.65 L72.42 -6.48 L70.07 -5.30 M67.12 -1.18 L67.71 -1.77 L68.89 -1.77 L71.83 -0.59 L73.60 -0.59 L74.78 -1.18 L75.37 -1.77 M68.89 -1.77 L71.83 0.00 L74.19 0.00 L74.78 -0.59 L75.37 -1.77 L75.37 -2.94 M80.67 -10.01 L81.84 -10.60 L83.61 -12.36 L83.61 0.00 M83.02 -11.78 L83.02 0.00 M80.67 0.00 L85.96 0.00 M91.85 -12.36 L90.68 -6.48 M90.68 -6.48 L91.85 -7.65 L93.62 -8.24 L95.39 -8.24 L97.15 -7.65 L98.33 -6.48 L98.92 -4.71 L98.92 -3.53 L98.33 -1.77 L97.15 -0.59 L95.39 0.00 L93.62 0.00 L91.85 -0.59 L91.26 -1.18 L90.68 -2.36 L90.68 -2.94 L91.26 -3.53 L91.85 -2.94 L91.26 -2.36 M95.39 -8.24 L96.56 -7.65 L97.74 -6.48 L98.33 -4.71 L98.33 -3.53 L97.74 -1.77 L96.56 -0.59 L95.39 0.00 M91.85 -12.36 L97.74 -12.36 M91.85 -11.78 L94.80 -11.78 L97.74 -12.36 M103.63 -1.18 L103.04 -0.59 L103.63 0.00 L104.22 -0.59 L103.63 -1.18 M109.52 -12.36 L108.34 -6.48 M108.34 -6.48 L109.52 -7.65 L111.28 -8.24 L113.05 -8.24 L114.82 -7.65 L115.99 -6.48 L116.58 -4.71 L116.58 -3.53 L115.99 -1.77 L114.82 -0.59 L113.05 0.00 L111.28 0.00 L109.52 -0.59 L108.93 -1.18 L108.34 -2.36 L108.34 -2.94 L108.93 -3.53 L109.52 -2.94 L108.93 -2.36 M113.05 -8.24 L114.23 -7.65 L115.40 -6.48 L115.99 -4.71 L115.99 -3.53 L115.40 -1.77 L114.23 -0.59 L113.05 0.00 M109.52 -12.36 L115.40 -12.36 M109.52 -11.78 L112.46 -11.78 L115.40 -12.36 M120.70 -10.01 L121.29 -9.42 L120.70 -8.83 L120.12 -9.42 L120.12 -10.01 L120.70 -11.19 L121.29 -11.78 L123.06 -12.36 L125.41 -12.36 L127.18 -11.78 L127.77 -11.19 L128.36 -10.01 L128.36 -8.83 L127.77 -7.65 L126.00 -6.48 L123.06 -5.30 L121.88 -4.71 L120.70 -3.53 L120.12 -1.77 L120.12 0.00 M125.41 -12.36 L126.59 -11.78 L127.18 -11.19 L127.77 -10.01 L127.77 -8.83 L127.18 -7.65 L125.41 -6.48 L123.06 -5.30 M120.12 -1.18 L120.70 -1.77 L121.88 -1.77 L124.83 -0.59 L126.59 -0.59 L127.77 -1.18 L128.36 -1.77 M121.88 -1.77 L124.83 0.00 L127.18 0.00 L127.77 -0.59 L128.36 -1.77 L128.36 -2.94 M145.43 -12.36 L141.31 0.00 M145.43 -12.36 L149.56 0.00 M145.43 -10.60 L148.97 0.00 M142.49 -3.53 L147.79 -3.53 M140.13 0.00 L143.67 0.00 M147.20 0.00 L150.73 0.00" fill="none" stroke="#000" stroke-width="1.1" stroke-linecap="round" stroke-linejoin="round"/>
<path transform="translate(119.80 264.40)" d="M5.89 -12.36 L1.77 0.00 M5.89 -12.36 L10.01 0.00 M5.89 -10.60 L9.42 0.00 M2.94 -3.53 L8.24 -3.53 M0.59 0.00 L4.12 0.00 M7.65 0.00 L11.19 0.00 M18.25 -14.72 L17.08 -13.54 L15.90 -11.78 L14.72 -9.42 L14.13 -6.48 L14.13 -4.12 L14.72 -1.18 L15.90 1.18 L17.08 2.94 L18.25 4.12 M17.08 -13.54 L15.90 -11.19 L15.31 -9.42 L14.72 -6.48 L14.72 -4.12 L15.31 -1.18 L15.90 0.59 L17.08 2.94 M29.44 -10.60 L30.03 -12.36 L30.03 -8.83 L29.44 -10.60 L28.26 -11.78 L26.50 -12.36 L24.73 -12.36 L22.96 -11.78 L21.79 -10.60 L21.79 -9.42 L22.37 -8.24 L22.96 -7.65 L24.14 -7.07 L27.67 -5.89 L28.85 -5.30 L30.03 -4.12 M21.79 -9.42 L22.96 -8.24 L24.14 -7.65 L27.67 -6.48 L28.85 -5.89 L29.44 -5.30 L30.03 -4.12 L30.03 -1.77 L28.85 -0.59 L27.08 0.00 L25.32 0.00 L23.55 -0.59 L22.37 -1.77 L21.79 -3.53 L21.79 0.00 L22.37 -1.77 M34.74 -8.24 L34.74 0.00 M35.33 -8.24 L35.33 0.00 M35.33 -4.71 L35.92 -6.48 L37.09 -7.65 L38.27 -8.24 L40.04 -8.24 L40.63 -7.65 L40.63 -7.07 L40.04 -6.48 L39.45 -7.07 L40.04 -7.65 M32.97 -8.24 L35.33 -8.24 M32.97 0.00 L37.09 0.00 M43.57 -14.72 L44.75 -13.54 L45.93 -11.78 L47.10 -9.42 L47.69 -6.48 L47.69 -4.12 L47.10 -1.18 L45.93 1.18 L44.75 2.94 L43.57 4.12 M44.75 -13.54 L45.93 -11.19 L46.52 -9.42 L47.10 -6.48 L47.10 -4.12 L46.52 -1.18 L45.93 0.59 L44.75 2.94 M61.82 -7.07 L72.42 -7.07 M61.82 -3.53 L72.42 -3.53 M86.55 -5.30 L97.15 -5.30 M104.81 -12.36 L103.04 -11.78 L101.86 -10.01 L101.27 -7.07 L101.27 -5.30 L101.86 -2.36 L103.04 -0.59 L104.81 0.00 L105.98 0.00 L107.75 -0.59 L108.93 -2.36 L109.52 -5.30 L109.52 -7.07 L108.93 -10.01 L107.75 -11.78 L105.98 -12.36 L104.81 -12.36 M104.81 -12.36 L103.63 -11.78 L103.04 -11.19 L102.45 -10.01 L101.86 -7.07 L101.86 -5.30 L102.45 -2.36 L103.04 -1.18 L103.63 -0.59 L104.81 0.00 M105.98 0.00 L107.16 -0.59 L107.75 -1.18 L108.34 -2.36 L108.93 -5.30 L108.93 -7.07 L108.34 -10.01 L107.75 -11.19 L107.16 -11.78 L105.98 -12.36 M114.23 -1.18 L113.64 -0.59 L114.23 0.00 L114.82 -0.59 L114.23 -1.18 M121.88 -12.36 L120.12 -11.78 L119.53 -10.60 L119.53 -8.83 L120.12 -7.65 L121.88 -7.07 L124.24 -7.07 L126.00 -7.65 L126.59 -8.83 L126.59 -10.60 L126.00 -11.78 L124.24 -12.36 L121.88 -12.36 M121.88 -12.36 L120.70 -11.78 L120.12 -10.60 L120.12 -8.83 L120.70 -7.65 L121.88 -7.07 M124.24 -7.07 L125.41 -7.65 L126.00 -8.83 L126.00 -10.60 L125.41 -11.78 L124.24 -12.36 M121.88 -7.07 L120.12 -6.48 L119.53 -5.89 L118.94 -4.71 L118.94 -2.36 L119.53 -1.18 L120.12 -0.59 L121.88 0.00 L124.24 0.00 L126.00 -0.59 L126.59 -1.18 L127.18 -2.36 L127.18 -4.71 L126.59 -5.89 L126.00 -6.48 L124.24 -7.07 M121.88 -7.07 L120.70 -6.48 L120.12 -5.89 L119.53 -4.71 L119.53 -2.36 L120.12 -1.18 L120.70 -0.59 L121.88 0.00 M124.24 0.00 L125.41 -0.59 L126.00 -1.18 L126.59 -2.36 L126.59 -4.71 L126.00 -5.89 L125.41 -6.48 L124.24 -7.07 M137.78 -10.60 L137.19 -10.01 L137.78 -9.42 L138.37 -10.01 L138.37 -10.60 L137.78 -11.78 L136.60 -12.36 L134.84 -12.36 L133.07 -11.78 L131.89 -10.60 L131.30 -9.42 L130.71 -7.07 L130.71 -3.53 L131.30 -1.77 L132.48 -0.59 L134.25 0.00 L135.42 0.00 L137.19 -0.59 L138.37 -1.77 L138.96 -3.53 L138.96 -4.12 L138.37 -5.89 L137.19 -7.07 L135.42 -7.65 L134.84 -7.65 L133.07 -7.07 L131.89 -5.89 L131.30 -4.12 M134.84 -12.36 L133.66 -11.78 L132.48 -10.60 L131.89 -9.42 L131.30 -7.07 L131.30 -3.53 L131.89 -1.77 L133.07 -0.59 L134.25 0.00 M135.42 0.00 L136.60 -0.59 L137.78 -1.77 L138.37 -3.53 L138.37 -4.12 L137.78 -5.89 L136.60 -7.07 L135.42 -7.65" fill="none" stroke="#ff0000" stroke-width="1.1" stroke-linecap="round" stroke-linejoin="round"/>
<path transform="translate(119.80 289.10)" d="M5.89 -12.36 L1.77 0.00 M5.89 -12.36 L10.01 0.00 M5.89 -10.60 L9.42 0.00 M2.94 -3.53 L8.24 -3.53 M0.59 0.00 L4.12 0.00 M7.65 0.00 L11.19 0.00 M18.25 -14.72 L17.08 -13.54 L15.90 -11.78 L14.72 -9.42 L14.13 -6.48 L14.13 -4.12 L14.72 -1.18 L15.90 1.18 L17.08 2.94 L18.25 4.12 M17.08 -13.54 L15.90 -11.19 L15.31 -9.42 L14.72 -6.48 L14.72 -4.12 L15.31 -1.18 L15.90 0.59 L17.08 2.94 M29.44 -10.60 L30.03 -12.36 L30.03 -8.83 L29.44 -10.60 L28.26 -11.78 L26.50 -12.36 L24.73 -12.36 L22.96 -11.78 L21.79 -10.60 L21.79 -9.42 L22.37 -8.24 L22.96 -7.65 L24.14 -7.07 L27.67 -5.89 L28.85 -5.30 L30.03 -4.12 M21.79 -9.42 L22.96 -8.24 L24.14 -7.65 L27.67 -6.48 L28.85 -5.89 L29.44 -5.30 L30.03 -4.12 L30.03 -1.77 L28.85 -0.59 L27.08 0.00 L25.32 0.00 L23.55 -0.59 L22.37 -1.77 L21.79 -3.53 L21.79 0.00 L22.37 -1.77 M34.74 -8.24 L34.74 0.00 M35.33 -8.24 L35.33 0.00 M35.33 -4.71 L35.92 -6.48 L37.09 -7.65 L38.27 -8.24 L40.04 -8.24 L40.63 -7.65 L40.63 -7.07 L40.04 -6.48 L39.45 -7.07 L40.04 -7.65 M32.97 -8.24 L35.33 -8.24 M32.97 0.00 L37.09 0.00 M43.57 -14.72 L44.75 -13.54 L45.93 -11.78 L47.10 -9.42 L47.69 -6.48 L47.69 -4.12 L47.10 -1.18 L45.93 1.18 L44.75 2.94 L43.57 4.12 M44.75 -13.54 L45.93 -11.19 L46.52 -9.42 L47.10 -6.48 L47.10 -4.12 L46.52 -1.18 L45.93 0.59 L44.75 2.94 M61.82 -7.07 L72.42 -7.07 M61.82 -3.53 L72.42 -3.53 M86.55 -5.30 L97.15 -5.30 M104.81 -12.36 L103.04 -11.78 L101.86 -10.01 L101.27 -7.07 L101.27 -5.30 L101.86 -2.36 L103.04 -0.59 L104.81 0.00 L105.98 0.00 L107.75 -0.59 L108.93 -2.36 L109.52 -5.30 L109.52 -7.07 L108.93 -10.01 L107.75 -11.78 L105.98 -12.36 L104.81 -12.36 M104.81 -12.36 L103.63 -11.78 L103.04 -11.19 L102.45 -10.01 L101.86 -7.07 L101.86 -5.30 L102.45 -2.36 L103.04 -1.18 L103.63 -0.59 L104.81 0.00 M105.98 0.00 L107.16 -0.59 L107.75 -1.18 L108.34 -2.36 L108.93 -5.30 L108.93 -7.07 L108.34 -10.01 L107.75 -11.19 L107.16 -11.78 L105.98 -12.36 M114.23 -1.18 L113.64 -0.59 L114.23 0.00 L114.82 -0.59 L114.23 -1.18 M118.94 -12.36 L118.94 -8.83 M118.94 -10.01 L119.53 -11.19 L120.70 -12.36 L121.88 -12.36 L124.83 -10.60 L126.00 -10.60 L126.59 -11.19 L127.18 -12.36 M119.53 -11.19 L120.70 -11.78 L121.88 -11.78 L124.83 -10.60 M127.18 -12.36 L127.18 -10.60 L126.59 -8.83 L124.24 -5.89 L123.65 -4.71 L123.06 -2.94 L123.06 0.00 M126.59 -8.83 L123.65 -5.89 L123.06 -4.71 L122.47 -2.94 L122.47 0.00 M134.25 -12.36 L132.48 -11.78 L131.30 -10.01 L130.71 -7.07 L130.71 -5.30 L131.30 -2.36 L132.48 -0.59 L134.25 0.00 L135.42 0.00 L137.19 -0.59 L138.37 -2.36 L138.96 -5.30 L138.96 -7.07 L138.37 -10.01 L137.19 -11.78 L135.42 -12.36 L134.25 -12.36 M134.25 -12.36 L133.07 -11.78 L132.48 -11.19 L131.89 -10.01 L131.30 -7.07 L131.30 -5.30 L131.89 -2.36 L132.48 -1.18 L133.07 -0.59 L134.25 0.00 M135.42 0.00 L136.60 -0.59 L137.19 -1.18 L137.78 -2.36 L138.37 -5.30 L138.37 -7.07 L137.78 -10.01 L137.19 -11.19 L136.60 -11.78 L135.42 -12.36 M143.67 0.00 L143.08 -0.59 L143.67 -1.18 L144.26 -0.59 L144.26 0.59 L143.67 1.77 L143.08 2.36 M148.97 -5.30 L159.56 -5.30 M165.45 -10.01 L166.63 -10.60 L168.40 -12.36 L168.40 0.00 M167.81 -11.78 L167.81 0.00 M165.45 0.00 L170.75 0.00 M176.64 -1.18 L176.05 -0.59 L176.64 0.00 L177.23 -0.59 L176.64 -1.18 M181.94 -10.01 L182.53 -9.42 L181.94 -8.83 L181.35 -9.42 L181.35 -10.01 L181.94 -11.19 L182.53 -11.78 L184.29 -12.36 L186.65 -12.36 L188.42 -11.78 L189.00 -11.19 L189.59 -10.01 L189.59 -8.83 L189.00 -7.65 L187.24 -6.48 L184.29 -5.30 L183.12 -4.71 L181.94 -3.53 L181.35 -1.77 L181.35 0.00 M186.65 -12.36 L187.83 -11.78 L188.42 -11.19 L189.00 -10.01 L189.00 -8.83 L188.42 -7.65 L186.65 -6.48 L184.29 -5.30 M181.35 -1.18 L181.94 -1.77 L183.12 -1.77 L186.06 -0.59 L187.83 -0.59 L189.00 -1.18 L189.59 -1.77 M183.12 -1.77 L186.06 0.00 L188.42 0.00 L189.00 -0.59 L189.59 -1.77 L189.59 -2.94 M196.66 -12.36 L194.89 -11.78 L193.72 -10.01 L193.13 -7.07 L193.13 -5.30 L193.72 -2.36 L194.89 -0.59 L196.66 0.00 L197.84 0.00 L199.60 -0.59 L200.78 -2.36 L201.37 -5.30 L201.37 -7.07 L200.78 -10.01 L199.60 -11.78 L197.84 -12.36 L196.66 -12.36 M196.66 -12.36 L195.48 -11.78 L194.89 -11.19 L194.30 -10.01 L193.72 -7.07 L193.72 -5.30 L194.30 -2.36 L194.89 -1.18 L195.48 -0.59 L196.66 0.00 M197.84 0.00 L199.01 -0.59 L199.60 -1.18 L200.19 -2.36 L200.78 -5.30 L200.78 -7.07 L200.19 -10.01 L199.60 -11.19 L199.01 -11.78 L197.84 -12.36 M206.08 0.00 L205.49 -0.59 L206.08 -1.18 L206.67 -0.59 L206.67 0.59 L206.08 1.77 L205.49 2.36 M211.38 -5.30 L221.98 -5.30 M227.87 -10.01 L229.04 -10.60 L230.81 -12.36 L230.81 0.00 M230.22 -11.78 L230.22 0.00 M227.87 0.00 L233.16 0.00 M239.05 -1.18 L238.46 -0.59 L239.05 0.00 L239.64 -0.59 L239.05 -1.18 M243.76 -12.36 L243.76 -8.83 M243.76 -10.01 L244.35 -11.19 L245.53 -12.36 L246.71 -12.36 L249.65 -10.60 L250.83 -10.60 L251.42 -11.19 L252.01 -12.36 M244.35 -11.19 L245.53 -11.78 L246.71 -11.78 L249.65 -10.60 M252.01 -12.36 L252.01 -10.60 L251.42 -8.83 L249.06 -5.89 L248.47 -4.71 L247.88 -2.94 L247.88 0.00 M251.42 -8.83 L248.47 -5.89 L247.88 -4.71 L247.30 -2.94 L247.30 0.00 M259.07 -12.36 L257.31 -11.78 L256.13 -10.01 L255.54 -7.07 L255.54 -5.30 L256.13 -2.36 L257.31 -0.59 L259.07 0.00 L260.25 0.00 L262.02 -0.59 L263.19 -2.36 L263.78 -5.30 L263.78 -7.07 L263.19 -10.01 L262.02 -11.78 L260.25 -12.36 L259.07 -12.36 M259.07 -12.36 L257.89 -11.78 L257.31 -11.19 L256.72 -10.01 L256.13 -7.07 L256.13 -5.30 L256.72 -2.36 L257.31 -1.18 L257.89 -0.59 L259.07 0.00 M260.25 0.00 L261.43 -0.59 L262.02 -1.18 L262.60 -2.36 L263.19 -5.30 L263.19 -7.07 L262.60 -10.01 L262.02 -11.19 L261.43 -11.78 L260.25 -12.36 M268.49 0.00 L267.90 -0.59 L268.49 -1.18 L269.08 -0.59 L269.08 0.59 L268.49 1.77 L267.90 2.36 M274.38 -8.24 L274.38 0.00 M274.97 -8.24 L274.97 0.00 M274.97 -6.48 L276.15 -7.65 L277.91 -8.24 L279.09 -8.24 L280.86 -7.65 L281.45 -6.48 L281.45 0.00 M279.09 -8.24 L280.27 -7.65 L280.86 -6.48 L280.86 0.00 M272.61 -8.24 L274.97 -8.24 M272.61 0.00 L276.74 0.00 M279.09 0.00 L283.21 0.00 M289.69 -8.24 L287.92 -7.65 L286.75 -6.48 L286.16 -4.71 L286.16 -3.53 L286.75 -1.77 L287.92 -0.59 L289.69 0.00 L290.87 0.00 L292.63 -0.59 L293.81 -1.77 L294.40 -3.53 L294.40 -4.71 L293.81 -6.48 L292.63 -7.65 L290.87 -8.24 L289.69 -8.24 M289.69 -8.24 L288.51 -7.65 L287.33 -6.48 L286.75 -4.71 L286.75 -3.53 L287.33 -1.77 L288.51 -0.59 L289.69 0.00 M290.87 0.00 L292.04 -0.59 L293.22 -1.77 L293.81 -3.53 L293.81 -4.71 L293.22 -6.48 L292.04 -7.65 L290.87 -8.24 M299.11 -8.24 L299.11 0.00 M299.70 -8.24 L299.70 0.00 M299.70 -6.48 L300.88 -7.65 L302.64 -8.24 L303.82 -8.24 L305.59 -7.65 L306.18 -6.48 L306.18 0.00 M303.82 -8.24 L305.00 -7.65 L305.59 -6.48 L305.59 0.00 M297.34 -8.24 L299.70 -8.24 M297.34 0.00 L301.47 0.00 M303.82 0.00 L307.94 0.00 M311.48 -4.71 L318.54 -4.71 L318.54 -5.89 L317.95 -7.07 L317.36 -7.65 L316.19 -8.24 L314.42 -8.24 L312.65 -7.65 L311.48 -6.48 L310.89 -4.71 L310.89 -3.53 L311.48 -1.77 L312.65 -0.59 L314.42 0.00 L315.60 0.00 L317.36 -0.59 L318.54 -1.77 M317.95 -4.71 L317.95 -6.48 L317.36 -7.65 M314.42 -8.24 L313.24 -7.65 L312.06 -6.48 L311.48 -4.71 L311.48 -3.53 L312.06 -1.77 L313.24 -0.59 L314.42 0.00" fill="none" stroke="#0000ff" stroke-width="1.1" stroke-linecap="round" stroke-linejoin="round"/>
<g clip-path="url(#c1)">
<path d="M82.8 429.1l12.4 12.4M82.8 441.5l12.4 -12.4M88.2 434.7l12.4 12.4M88.2 447.1l12.4 -12.4M93.5 438.7l12.4 12.4M93.5 451.1l12.4 -12.4M98.9 442.2l12.4 12.4M98.9 454.6l12.4 -12.4M104.3 443.2l12.4 12.4M104.3 455.6l12.4 -12.4M109.6 441.7l12.4 12.4M109.6 454.1l12.4 -12.4M115.0 443.2l12.4 12.4M115.0 455.6l12.4 -12.4M120.4 440.7l12.4 12.4M120.4 453.1l12.4 -12.4M125.7 443.2l12.4 12.4M125.7 455.6l12.4 -12.4M131.1 445.7l12.4 12.4M131.1 458.1l12.4 -12.4M136.5 456.8l12.4 12.4M136.5 469.2l12.4 -12.4M141.9 459.7l12.4 12.4M141.9 472.1l12.4 -12.4M147.2 470.7l12.4 12.4M147.2 483.1l12.4 -12.4M152.6 500.8l12.4 12.4M152.6 513.2l12.4 -12.4M158.0 528.7l12.4 12.4M158.0 541.1l12.4 -12.4M163.3 559.4l12.4 12.4M163.3 571.8l12.4 -12.4M168.7 596.1l12.4 12.4M168.7 608.5l12.4 -12.4M174.1 627.2l12.4 12.4M174.1 639.6l12.4 -12.4M179.4 655.4l12.4 12.4M179.4 667.8l12.4 -12.4M184.8 672.8l12.4 12.4M184.8 685.2l12.4 -12.4M190.2 672.0l12.4 12.4M190.2 684.4l12.4 -12.4M195.6 658.3l12.4 12.4M195.6 670.7l12.4 -12.4M200.9 627.2l12.4 12.4M200.9 639.6l12.4 -12.4M206.3 586.7l12.4 12.4M206.3 599.1l12.4 -12.4M211.7 549.8l12.4 12.4M211.7 562.2l12.4 -12.4M217.0 521.9l12.4 12.4M217.0 534.3l12.4 -12.4M222.4 498.6l12.4 12.4M222.4 511.0l12.4 -12.4M227.8 480.5l12.4 12.4M227.8 492.9l12.4 -12.4M233.1 463.2l12.4 12.4M233.1 475.6l12.4 -12.4M238.5 447.8l12.4 12.4M238.5 460.2l12.4 -12.4M243.9 445.1l12.4 12.4M243.9 457.5l12.4 -12.4M249.2 446.3l12.4 12.4M249.2 458.7l12.4 -12.4M254.6 444.8l12.4 12.4M254.6 457.2l12.4 -12.4M260.0 444.8l12.4 12.4M260.0 457.2l12.4 -12.4M265.4 441.3l12.4 12.4M265.4 453.7l12.4 -12.4M270.7 432.1l12.4 12.4M270.7 444.5l12.4 -12.4M276.1 431.1l12.4 12.4M276.1 443.5l12.4 -12.4M281.5 434.7l12.4 12.4M281.5 447.1l12.4 -12.4M286.8 431.3l12.4 12.4M286.8 443.7l12.4 -12.4M292.2 430.6l12.4 12.4M292.2 443.0l12.4 -12.4M297.6 432.7l12.4 12.4M297.6 445.1l12.4 -12.4M302.9 438.7l12.4 12.4M302.9 451.1l12.4 -12.4M308.3 440.4l12.4 12.4M308.3 452.8l12.4 -12.4M313.7 430.8l12.4 12.4M313.7 443.2l12.4 -12.4M319.1 429.5l12.4 12.4M319.1 441.9l12.4 -12.4M324.4 432.7l12.4 12.4M324.4 445.1l12.4 -12.4M329.8 431.3l12.4 12.4M329.8 443.7l12.4 -12.4M335.2 428.5l12.4 12.4M335.2 440.9l12.4 -12.4M340.5 431.8l12.4 12.4M340.5 444.2l12.4 -12.4M345.9 436.2l12.4 12.4M345.9 448.6l12.4 -12.4M351.3 431.1l12.4 12.4M351.3 443.5l12.4 -12.4M356.7 432.8l12.4 12.4M356.7 445.2l12.4 -12.4M362.0 434.8l12.4 12.4M362.0 447.2l12.4 -12.4M367.4 438.7l12.4 12.4M367.4 451.1l12.4 -12.4M372.8 436.8l12.4 12.4M372.8 449.2l12.4 -12.4M378.1 430.6l12.4 12.4M378.1 443.0l12.4 -12.4M383.5 437.3l12.4 12.4M383.5 449.7l12.4 -12.4M388.9 437.3l12.4 12.4M388.9 449.7l12.4 -12.4M394.2 437.3l12.4 12.4M394.2 449.7l12.4 -12.4M399.6 437.8l12.4 12.4M399.6 450.2l12.4 -12.4M405.0 437.8l12.4 12.4M405.0 450.2l12.4 -12.4M410.4 437.3l12.4 12.4M410.4 449.7l12.4 -12.4M415.7 439.2l12.4 12.4M415.7 451.6l12.4 -12.4M421.1 433.2l12.4 12.4M421.1 445.6l12.4 -12.4M426.5 425.5l12.4 12.4M426.5 437.9l12.4 -12.4M431.8 427.0l12.4 12.4M431.8 439.4l12.4 -12.4M437.2 430.1l12.4 12.4M437.2 442.5l12.4 -12.4M442.6 433.2l12.4 12.4M442.6 445.6l12.4 -12.4M447.9 434.2l12.4 12.4M447.9 446.6l12.4 -12.4M453.3 433.3l12.4 12.4M453.3 445.7l12.4 -12.4M458.7 435.9l12.4 12.4M458.7 448.3l12.4 -12.4M464.1 450.9l12.4 12.4M464.1 463.3l12.4 -12.4M469.4 461.5l12.4 12.4M469.4 473.9l12.4 -12.4M474.8 480.0l12.4 12.4M474.8 492.4l12.4 -12.4M480.2 511.0l12.4 12.4M480.2 523.4l12.4 -12.4M485.5 534.5l12.4 12.4M485.5 546.9l12.4 -12.4M490.9 550.2l12.4 12.4M490.9 562.6l12.4 -12.4M496.3 557.8l12.4 12.4M496.3 570.2l12.4 -12.4M501.6 555.3l12.4 12.4M501.6 567.7l12.4 -12.4M507.0 537.5l12.4 12.4M507.0 549.9l12.4 -12.4M512.4 514.6l12.4 12.4M512.4 527.0l12.4 -12.4M517.8 491.7l12.4 12.4M517.8 504.1l12.4 -12.4M523.1 473.4l12.4 12.4M523.1 485.8l12.4 -12.4M528.5 455.5l12.4 12.4M528.5 467.9l12.4 -12.4M533.9 438.8l12.4 12.4M533.9 451.2l12.4 -12.4M539.2 437.4l12.4 12.4M539.2 449.8l12.4 -12.4M544.6 440.2l12.4 12.4M544.6 452.6l12.4 -12.4M550.0 432.6l12.4 12.4M550.0 445.0l12.4 -12.4M555.3 430.6l12.4 12.4M555.3 443.0l12.4 -12.4M560.7 433.7l12.4 12.4M560.7 446.1l12.4 -12.4M566.1 428.1l12.4 12.4M566.1 440.5l12.4 -12.4M571.4 424.5l12.4 12.4M571.4 436.9l12.4 -12.4M576.8 427.6l12.4 12.4M576.8 440.0l12.4 -12.4M582.2 429.6l12.4 12.4M582.2 442.0l12.4 -12.4M587.6 432.2l12.4 12.4M587.6 444.6l12.4 -12.4M592.9 436.0l12.4 12.4M592.9 448.4l12.4 -12.4M598.3 431.6l12.4 12.4M598.3 444.0l12.4 -12.4M603.7 431.6l12.4 12.4M603.7 444.0l12.4 -12.4M609.0 438.7l12.4 12.4M609.0 451.1l12.4 -12.4M614.4 438.2l12.4 12.4M614.4 450.6l12.4 -12.4M619.8 433.2l12.4 12.4M619.8 445.6l12.4 -12.4M625.1 426.6l12.4 12.4M625.1 439.0l12.4 -12.4M630.5 423.0l12.4 12.4M630.5 435.4l12.4 -12.4M635.9 429.1l12.4 12.4M635.9 441.5l12.4 -12.4M641.3 438.1l12.4 12.4M641.3 450.5l12.4 -12.4M646.6 437.5l12.4 12.4M646.6 449.9l12.4 -12.4M652.0 443.9l12.4 12.4M652.0 456.3l12.4 -12.4M657.4 454.3l12.4 12.4M657.4 466.7l12.4 -12.4M662.7 458.0l12.4 12.4M662.7 470.4l12.4 -12.4M668.1 468.3l12.4 12.4M668.1 480.7l12.4 -12.4M673.5 481.4l12.4 12.4M673.5 493.8l12.4 -12.4M678.9 489.0l12.4 12.4M678.9 501.4l12.4 -12.4M684.2 488.0l12.4 12.4M684.2 500.4l12.4 -12.4M689.6 484.2l12.4 12.4M689.6 496.6l12.4 -12.4M695.0 474.5l12.4 12.4M695.0 486.9l12.4 -12.4M700.3 464.9l12.4 12.4M700.3 477.3l12.4 -12.4M705.7 455.2l12.4 12.4M705.7 467.6l12.4 -12.4M711.1 445.5l12.4 12.4M711.1 457.9l12.4 -12.4M716.4 436.6l12.4 12.4M716.4 449.0l12.4 -12.4M721.8 427.6l12.4 12.4M721.8 440.0l12.4 -12.4M727.2 427.6l12.4 12.4M727.2 440.0l12.4 -12.4M732.5 429.7l12.4 12.4M732.5 442.1l12.4 -12.4M737.9 434.5l12.4 12.4M737.9 446.9l12.4 -12.4M743.3 437.3l12.4 12.4M743.3 449.7l12.4 -12.4M748.7 435.8l12.4 12.4M748.7 448.2l12.4 -12.4" fill="none" stroke="#000" stroke-width="2.3" stroke-linecap="round"/>
<path d="M86.9 440.0L87.6 439.9L88.3 439.9L89.0 439.8L89.7 439.7L90.4 439.7L91.1 439.6L91.8 439.5L92.5 439.5L93.2 439.4L93.9 439.3L94.6 439.2L95.3 439.2L96.0 439.1L96.7 439.0L97.4 439.0L98.1 438.9L98.8 438.8L99.5 438.8L100.2 438.7L100.9 438.7L101.6 438.6L102.3 438.6L103.0 438.5L103.7 438.5L104.4 438.4L105.1 438.4L105.8 438.4L106.5 438.3L107.2 438.3L107.9 438.3L108.6 438.3L109.3 438.2L110.0 438.2L110.7 438.2L111.4 438.2L112.1 438.2L112.8 438.2L113.5 438.2L114.2 438.2L114.9 438.2L115.6 438.2L116.3 438.2L117.0 438.2L117.7 438.2L118.4 438.2L119.1 438.2L119.8 438.2L120.5 438.3L121.2 438.3L121.9 438.3L122.6 438.4L123.3 438.4L124.0 438.5L124.7 438.5L125.4 438.6L126.1 438.7L126.8 438.8L127.5 438.9L128.2 439.0L128.9 439.1L129.6 439.3L130.3 439.4L131.0 439.6L131.7 439.8L132.4 440.1L133.1 440.3L133.8 440.6L134.5 440.9L135.2 441.3L135.9 441.7L136.6 442.1L137.3 442.6L138.0 443.1L138.7 443.7L139.4 444.3L140.1 445.0L140.8 445.7L141.5 446.5L142.2 447.4L142.9 448.3L143.6 449.4L144.3 450.5L145.0 451.7L145.7 453.0L146.4 454.4L147.1 455.8L147.8 457.4L148.5 459.1L149.2 460.9L149.9 462.9L150.6 464.9L151.3 467.1L152.0 469.4L152.7 471.8L153.4 474.4L154.1 477.1L154.8 479.9L155.5 482.9L156.2 486.0L156.9 489.2L157.6 492.6L158.3 496.1L159.0 499.7L159.7 503.5L160.4 507.4L161.1 511.5L161.8 515.6L162.5 519.9L163.2 524.3L163.9 528.8L164.6 533.4L165.3 538.1L166.0 542.8L166.7 547.7L167.4 552.6L168.1 557.5L168.8 562.5L169.5 567.5L170.2 572.6L170.9 577.6L171.6 582.7L172.3 587.7L173.0 592.6L173.7 597.6L174.4 602.5L175.1 607.3L175.8 612.0L176.5 616.6L177.2 621.1L177.9 625.5L178.6 629.7L179.3 633.8L180.0 637.8L180.7 641.6L181.4 645.1L182.1 648.5L182.8 651.8L183.5 654.8L184.2 657.6L184.9 660.1L185.6 662.5L186.3 664.6L187.0 666.6L187.7 668.2L188.4 669.7L189.1 670.9L189.8 672.0L190.5 672.8L191.2 673.4L191.9 673.8L192.6 674.0L193.3 674.1L194.0 674.0L194.7 673.8L195.4 673.4L196.1 672.8L196.8 672.0L197.5 671.0L198.2 669.8L198.9 668.3L199.6 666.6L200.3 664.7L201.0 662.6L201.7 660.2L202.4 657.7L203.1 654.9L203.8 651.9L204.5 648.7L205.2 645.3L205.9 641.7L206.6 638.0L207.3 634.0L208.0 630.0L208.7 625.7L209.4 621.4L210.1 616.9L210.8 612.3L211.5 607.6L212.2 602.8L212.9 598.0L213.6 593.1L214.3 588.1L215.0 583.1L215.7 578.1L216.4 573.1L217.1 568.1L217.8 563.1L218.5 558.2L219.2 553.2L219.9 548.4L220.6 543.6L221.3 538.9L222.0 534.2L222.7 529.7L223.4 525.2L224.1 520.9L224.8 516.6L225.5 512.5L226.2 508.5L226.9 504.6L227.6 500.9L228.3 497.2L229.0 493.8L229.7 490.4L230.4 487.2L231.1 484.2L231.8 481.2L232.5 478.4L233.2 475.8L233.9 473.2L234.6 470.8L235.3 468.6L236.0 466.4L236.7 464.4L237.4 462.5L238.1 460.7L238.8 459.1L239.5 457.5L240.2 456.1L240.9 454.7L241.6 453.4L242.3 452.2L243.0 451.2L243.7 450.2L244.4 449.2L245.1 448.4L245.8 447.6L246.5 446.9L247.2 446.2L247.9 445.6L248.6 445.0L249.3 444.5L250.0 444.1L250.7 443.6L251.4 443.3L252.1 442.9L252.8 442.6L253.5 442.3L254.2 442.1L254.9 441.9L255.6 441.7L256.3 441.5L257.0 441.4L257.7 441.2L258.4 441.1L259.1 441.0L259.8 440.9L260.5 440.8L261.2 440.8L261.9 440.7L262.6 440.7L263.3 440.7L264.0 440.6L264.7 440.6L265.4 440.6L266.1 440.7L266.8 440.7L267.5 440.7L268.2 440.7L268.9 440.8L269.6 440.8L270.3 440.9L271.0 440.9L271.7 441.0L272.4 441.1L273.1 441.2L273.8 441.2L274.5 441.3L275.2 441.4L275.9 441.4L276.6 441.5L277.3 441.6L278.0 441.6L278.7 441.7L279.4 441.7L280.1 441.8L280.8 441.8L281.5 441.8L282.2 441.8L282.9 441.8L283.6 441.8L284.3 441.8L285.0 441.7L285.7 441.7L286.4 441.6L287.1 441.5L287.8 441.4L288.5 441.3L289.2 441.2L289.9 441.1L290.6 441.0L291.3 440.9L292.0 440.8L292.7 440.7L293.4 440.5L294.1 440.4L294.8 440.3L295.5 440.2L296.2 440.0L296.9 439.9L297.6 439.8L298.3 439.7L299.0 439.6L299.7 439.5L300.4 439.4L301.1 439.3L301.8 439.2L302.5 439.1L303.2 439.0L303.9 438.9L304.6 438.8L305.3 438.7L306.0 438.6L306.7 438.5L307.4 438.4L308.1 438.3L308.8 438.3L309.5 438.2L310.2 438.1L310.9 438.0L311.6 437.9L312.3 437.9L313.0 437.8L313.7 437.7L314.4 437.7L315.1 437.6L315.8 437.5L316.5 437.5L317.2 437.4L317.9 437.4L318.6 437.3L319.3 437.2L320.0 437.2L320.7 437.1L321.4 437.1L322.1 437.0L322.8 437.0L323.5 437.0L324.2 436.9L324.9 436.9L325.6 436.9L326.3 436.8L327.0 436.8L327.7 436.8L328.4 436.7L329.1 436.7L329.8 436.7L330.5 436.7L331.2 436.7L331.9 436.7L332.6 436.6L333.3 436.6L334.0 436.6L334.7 436.6L335.4 436.6L336.1 436.6L336.8 436.6L337.5 436.6L338.2 436.6L338.9 436.6L339.6 436.6L340.3 436.6L341.0 436.6L341.7 436.6L342.4 436.6L343.1 436.6L343.8 436.6L344.5 436.6L345.2 436.6L345.9 436.6L346.6 436.6L347.3 436.6L348.0 436.6L348.7 436.6L349.4 436.6L350.1 436.6L350.8 436.6L351.5 436.6L352.2 436.6L352.9 436.6L353.6 436.6L354.3 436.6L355.0 436.6L355.7 436.6L356.4 436.6L357.1 436.6L357.8 436.6L358.5 436.7L359.2 436.7L359.9 436.7L360.6 436.7L361.3 436.7L362.0 436.8L362.7 436.8L363.4 436.8L364.1 436.9L364.8 436.9L365.5 437.0L366.2 437.0L366.9 437.1L367.6 437.1L368.3 437.2L369.0 437.3L369.7 437.4L370.4 437.5L371.1 437.6L371.8 437.7L372.5 437.8L373.2 438.0L373.9 438.1L374.6 438.3L375.3 438.5L376.0 438.7L376.7 438.9L377.4 439.1L378.1 439.3L378.8 439.5L379.5 439.8L380.2 440.0L380.9 440.3L381.6 440.6L382.3 440.9L383.0 441.2L383.7 441.5L384.4 441.9L385.1 442.2L385.8 442.5L386.5 442.9L387.2 443.3L387.9 443.6L388.6 444.0L389.3 444.3L390.0 444.7L390.7 445.0L391.4 445.4L392.1 445.7L392.8 446.1L393.5 446.4L394.2 446.7L394.9 447.0L395.6 447.3L396.3 447.5L397.0 447.8L397.7 448.0L398.4 448.2L399.1 448.3L399.8 448.5L400.5 448.6L401.2 448.7L401.9 448.8L402.6 448.8L403.3 448.8L404.0 448.8L404.7 448.7L405.4 448.6L406.1 448.5L406.8 448.4L407.5 448.2L408.2 448.0L408.9 447.8L409.6 447.6L410.3 447.3L411.0 447.0L411.7 446.7L412.4 446.4L413.1 446.1L413.8 445.8L414.5 445.4L415.2 445.1L415.9 444.7L416.6 444.4L417.3 444.0L418.0 443.7L418.7 443.3L419.4 443.0L420.1 442.6L420.8 442.3L421.5 441.9L422.2 441.6L422.9 441.3L423.6 441.0L424.3 440.7L425.0 440.4L425.7 440.1L426.4 439.8L427.1 439.6L427.8 439.4L428.5 439.1L429.2 438.9L429.9 438.7L430.6 438.6L431.3 438.4L432.0 438.2L432.7 438.1L433.4 438.0L434.1 437.9L434.8 437.8L435.5 437.7L436.2 437.6L436.9 437.5L437.6 437.5L438.3 437.4L439.0 437.4L439.7 437.4L440.4 437.4L441.1 437.4L441.8 437.4L442.5 437.5L443.2 437.5L443.9 437.6L444.6 437.6L445.3 437.7L446.0 437.8L446.7 438.0L447.4 438.1L448.1 438.3L448.8 438.5L449.5 438.7L450.2 438.9L450.9 439.2L451.6 439.4L452.3 439.8L453.0 440.1L453.7 440.5L454.4 440.9L455.1 441.4L455.8 441.9L456.5 442.4L457.2 443.0L457.9 443.7L458.6 444.4L459.3 445.2L460.0 446.0L460.7 446.9L461.4 447.9L462.1 448.9L462.8 450.0L463.5 451.2L464.2 452.5L464.9 453.9L465.6 455.3L466.3 456.9L467.0 458.5L467.7 460.2L468.4 462.1L469.1 464.1L469.8 466.1L470.5 468.3L471.2 470.6L471.9 473.0L472.6 475.5L473.3 478.1L474.0 480.8L474.7 483.7L475.4 486.6L476.1 489.7L476.8 492.9L477.5 496.2L478.2 499.6L478.9 503.1L479.6 506.6L480.3 510.3L481.0 514.1L481.7 517.9L482.4 521.8L483.1 525.8L483.8 529.8L484.5 533.8L485.2 537.9L485.9 542.0L486.6 546.1L487.3 550.3L488.0 554.4L488.7 558.4L489.4 562.5L490.1 566.5L490.8 570.4L491.5 574.3L492.2 578.0L492.9 581.7L493.6 585.3L494.3 588.7L495.0 592.0L495.7 595.1L496.4 598.0L497.1 600.8L497.8 603.4L498.5 605.8L499.2 608.0L499.9 610.0L500.6 611.7L501.3 613.2L502.0 614.5L502.7 615.5L503.4 616.3L504.1 616.8L504.8 617.1L505.5 617.1L506.2 616.9L506.9 616.4L507.6 615.7L508.3 614.7L509.0 613.5L509.7 612.0L510.4 610.3L511.1 608.3L511.8 606.2L512.5 603.8L513.2 601.3L513.9 598.5L514.6 595.6L515.3 592.5L516.0 589.2L516.7 585.8L517.4 582.3L518.1 578.7L518.8 574.9L519.5 571.1L520.2 567.2L520.9 563.2L521.6 559.2L522.3 555.1L523.0 551.0L523.7 546.9L524.4 542.8L525.1 538.7L525.8 534.6L526.5 530.5L527.2 526.5L527.9 522.6L528.6 518.7L529.3 514.9L530.0 511.1L530.7 507.4L531.4 503.8L532.1 500.4L532.8 497.0L533.5 493.7L534.2 490.5L534.9 487.4L535.6 484.4L536.3 481.6L537.0 478.8L537.7 476.2L538.4 473.7L539.1 471.3L539.8 469.0L540.5 466.8L541.2 464.8L541.9 462.8L542.6 461.0L543.3 459.2L544.0 457.6L544.7 456.0L545.4 454.5L546.1 453.2L546.8 451.9L547.5 450.7L548.2 449.6L548.9 448.5L549.6 447.6L550.3 446.7L551.0 445.8L551.7 445.1L552.4 444.4L553.1 443.7L553.8 443.1L554.5 442.5L555.2 442.0L555.9 441.6L556.6 441.1L557.3 440.7L558.0 440.4L558.7 440.1L559.4 439.8L560.1 439.5L560.8 439.3L561.5 439.0L562.2 438.9L562.9 438.7L563.6 438.5L564.3 438.4L565.0 438.2L565.7 438.1L566.4 438.0L567.1 437.9L567.8 437.9L568.5 437.8L569.2 437.7L569.9 437.7L570.6 437.6L571.3 437.6L572.0 437.5L572.7 437.5L573.4 437.5L574.1 437.4L574.8 437.4L575.5 437.4L576.2 437.4L576.9 437.4L577.6 437.3L578.3 437.3L579.0 437.3L579.7 437.3L580.4 437.3L581.1 437.3L581.8 437.3L582.5 437.3L583.2 437.3L583.9 437.3L584.6 437.3L585.3 437.3L586.0 437.3L586.7 437.3L587.4 437.3L588.1 437.3L588.8 437.3L589.5 437.3L590.2 437.3L590.9 437.3L591.6 437.3L592.3 437.3L593.0 437.3L593.7 437.3L594.4 437.3L595.1 437.3L595.8 437.3L596.5 437.3L597.2 437.3L597.9 437.3L598.6 437.3L599.3 437.3L600.0 437.3L600.7 437.3L601.4 437.3L602.1 437.3L602.8 437.3L603.5 437.3L604.2 437.3L604.9 437.3L605.6 437.3L606.3 437.3L607.0 437.3L607.7 437.3L608.4 437.3L609.1 437.3L609.8 437.3L610.5 437.3L611.2 437.3L611.9 437.3L612.6 437.3L613.3 437.3L614.0 437.3L614.7 437.3L615.4 437.3L616.1 437.3L616.8 437.3L617.5 437.3L618.2 437.3L618.9 437.3L619.6 437.3L620.3 437.3L621.0 437.3L621.7 437.3L622.4 437.3L623.1 437.3L623.8 437.3L624.5 437.3L625.2 437.3L625.9 437.3L626.6 437.3L627.3 437.3L628.0 437.3L628.7 437.3L629.4 437.3L630.1 437.3L630.8 437.3L631.5 437.3L632.2 437.4L632.9 437.4L633.6 437.4L634.3 437.4L635.0 437.5L635.7 437.5L636.4 437.5L637.1 437.6L637.8 437.6L638.5 437.7L639.2 437.7L639.9 437.8L640.6 437.9L641.3 438.0L642.0 438.1L642.7 438.2L643.4 438.3L644.1 438.4L644.8 438.6L645.5 438.7L646.2 438.9L646.9 439.1L647.6 439.4L648.3 439.6L649.0 439.9L649.7 440.2L650.4 440.6L651.1 440.9L651.8 441.3L652.5 441.8L653.2 442.2L653.9 442.7L654.6 443.3L655.3 443.9L656.0 444.5L656.7 445.2L657.4 446.0L658.1 446.7L658.8 447.6L659.5 448.5L660.2 449.4L660.9 450.4L661.6 451.4L662.3 452.5L663.0 453.7L663.7 454.9L664.4 456.2L665.1 457.5L665.8 458.8L666.5 460.2L667.2 461.7L667.9 463.2L668.6 464.7L669.3 466.3L670.0 467.9L670.7 469.5L671.4 471.1L672.1 472.8L672.8 474.4L673.5 476.1L674.2 477.8L674.9 479.4L675.6 481.0L676.3 482.7L677.0 484.2L677.7 485.8L678.4 487.3L679.1 488.7L679.8 490.1L680.5 491.4L681.2 492.6L681.9 493.8L682.6 494.9L683.3 495.8L684.0 496.7L684.7 497.5L685.4 498.2L686.1 498.7L686.8 499.2L687.5 499.5L688.2 499.7L688.9 499.8L689.6 499.8L690.3 499.6L691.0 499.4L691.7 499.0L692.4 498.5L693.1 497.9L693.8 497.2L694.5 496.3L695.2 495.4L695.9 494.4L696.6 493.3L697.3 492.1L698.0 490.9L698.7 489.6L699.4 488.2L700.1 486.8L700.8 485.3L701.5 483.8L702.2 482.2L702.9 480.7L703.6 479.1L704.3 477.5L705.0 475.9L705.7 474.3L706.4 472.7L707.1 471.1L707.8 469.6L708.5 468.1L709.2 466.6L709.9 465.1L710.6 463.7L711.3 462.3L712.0 461.0L712.7 459.7L713.4 458.5L714.1 457.3L714.8 456.1L715.5 455.0L716.2 454.0L716.9 453.0L717.6 452.1L718.3 451.2L719.0 450.4L719.7 449.6L720.4 448.9L721.1 448.2L721.8 447.6L722.5 447.0L723.2 446.5L723.9 445.9L724.6 445.5L725.3 445.0L726.0 444.6L726.7 444.3L727.4 443.9L728.1 443.6L728.8 443.3L729.5 443.1L730.2 442.8L730.9 442.6L731.6 442.4L732.3 442.2L733.0 442.0L733.7 441.9L734.4 441.7L735.1 441.6L735.8 441.5L736.5 441.3L737.2 441.2L737.9 441.1L738.6 441.0L739.3 440.9L740.0 440.8L740.7 440.7L741.4 440.6L742.1 440.5L742.8 440.4L743.5 440.3L744.2 440.2L744.9 440.1L745.6 440.0L746.3 440.0L747.0 439.9L747.7 439.8L748.4 439.7L749.1 439.6L749.8 439.6L750.5 439.5L751.2 439.4L751.9 439.4L752.6 439.3L753.3 439.3L754.0 439.2L754.7 439.2" fill="none" stroke="#0000ff" stroke-width="2.4" stroke-dasharray="2.4 3.6" stroke-linecap="butt"/>
<path d="M86.9 440.0L87.6 439.9L88.3 439.9L89.0 439.8L89.7 439.7L90.4 439.7L91.1 439.6L91.8 439.5L92.5 439.5L93.2 439.4L93.9 439.3L94.6 439.2L95.3 439.2L96.0 439.1L96.7 439.0L97.4 439.0L98.1 438.9L98.8 438.8L99.5 438.8L100.2 438.7L100.9 438.7L101.6 438.6L102.3 438.6L103.0 438.5L103.7 438.5L104.4 438.4L105.1 438.4L105.8 438.4L106.5 438.3L107.2 438.3L107.9 438.3L108.6 438.3L109.3 438.2L110.0 438.2L110.7 438.2L111.4 438.2L112.1 438.2L112.8 438.2L113.5 438.2L114.2 438.2L114.9 438.2L115.6 438.2L116.3 438.2L117.0 438.2L117.7 438.2L118.4 438.2L119.1 438.2L119.8 438.2L120.5 438.3L121.2 438.3L121.9 438.3L122.6 438.4L123.3 438.4L124.0 438.5L124.7 438.5L125.4 438.6L126.1 438.7L126.8 438.8L127.5 438.9L128.2 439.0L128.9 439.1L129.6 439.3L130.3 439.4L131.0 439.6L131.7 439.8L132.4 440.1L133.1 440.3L133.8 440.6L134.5 440.9L135.2 441.3L135.9 441.7L136.6 442.1L137.3 442.6L138.0 443.1L138.7 443.7L139.4 444.3L140.1 445.0L140.8 445.7L141.5 446.5L142.2 447.4L142.9 448.3L143.6 449.4L144.3 450.5L145.0 451.7L145.7 453.0L146.4 454.4L147.1 455.8L147.8 457.4L148.5 459.1L149.2 460.9L149.9 462.9L150.6 464.9L151.3 467.1L152.0 469.4L152.7 471.8L153.4 474.4L154.1 477.1L154.8 479.9L155.5 482.9L156.2 486.0L156.9 489.2L157.6 492.6L158.3 496.1L159.0 499.7L159.7 503.5L160.4 507.4L161.1 511.5L161.8 515.6L162.5 519.9L163.2 524.3L163.9 528.8L164.6 533.4L165.3 538.1L166.0 542.8L166.7 547.7L167.4 552.6L168.1 557.5L168.8 562.5L169.5 567.5L170.2 572.6L170.9 577.6L171.6 582.7L172.3 587.7L173.0 592.6L173.7 597.6L174.4 602.5L175.1 607.3L175.8 612.0L176.5 616.6L177.2 621.1L177.9 625.5L178.6 629.7L179.3 633.8L180.0 637.8L180.7 641.6L181.4 645.1L182.1 648.5L182.8 651.8L183.5 654.8L184.2 657.6L184.9 660.1L185.6 662.5L186.3 664.6L187.0 666.6L187.7 668.2L188.4 669.7L189.1 670.9L189.8 672.0L190.5 672.8L191.2 673.4L191.9 673.8L192.6 674.0L193.3 674.1L194.0 674.0L194.7 673.8L195.4 673.4L196.1 672.8L196.8 672.0L197.5 671.0L198.2 669.8L198.9 668.3L199.6 666.6L200.3 664.7L201.0 662.6L201.7 660.2L202.4 657.7L203.1 654.9L203.8 651.9L204.5 648.7L205.2 645.3L205.9 641.7L206.6 638.0L207.3 634.0L208.0 630.0L208.7 625.7L209.4 621.4L210.1 616.9L210.8 612.3L211.5 607.6L212.2 602.8L212.9 598.0L213.6 593.1L214.3 588.1L215.0 583.1L215.7 578.1L216.4 573.1L217.1 568.1L217.8 563.1L218.5 558.2L219.2 553.2L219.9 548.4L220.6 543.6L221.3 538.9L222.0 534.2L222.7 529.7L223.4 525.2L224.1 520.9L224.8 516.6L225.5 512.5L226.2 508.5L226.9 504.6L227.6 500.9L228.3 497.2L229.0 493.8L229.7 490.4L230.4 487.2L231.1 484.2L231.8 481.2L232.5 478.4L233.2 475.8L233.9 473.2L234.6 470.8L235.3 468.6L236.0 466.4L236.7 464.4L237.4 462.5L238.1 460.7L238.8 459.1L239.5 457.5L240.2 456.1L240.9 454.7L241.6 453.4L242.3 452.2L243.0 451.2L243.7 450.2L244.4 449.2L245.1 448.4L245.8 447.6L246.5 446.9L247.2 446.2L247.9 445.6L248.6 445.0L249.3 444.5L250.0 444.1L250.7 443.6L251.4 443.3L252.1 442.9L252.8 442.6L253.5 442.3L254.2 442.1L254.9 441.9L255.6 441.7L256.3 441.5L257.0 441.4L257.7 441.2L258.4 441.1L259.1 441.0L259.8 440.9L260.5 440.8L261.2 440.8L261.9 440.7L262.6 440.7L263.3 440.7L264.0 440.6L264.7 440.6L265.4 440.6L266.1 440.7L266.8 440.7L267.5 440.7L268.2 440.7L268.9 440.8L269.6 440.8L270.3 440.9L271.0 440.9L271.7 441.0L272.4 441.1L273.1 441.2L273.8 441.2L274.5 441.3L275.2 441.4L275.9 441.4L276.6 441.5L277.3 441.6L278.0 441.6L278.7 441.7L279.4 441.7L280.1 441.8L280.8 441.8L281.5 441.8L282.2 441.8L282.9 441.8L283.6 441.8L284.3 441.8L285.0 441.7L285.7 441.7L286.4 441.6L287.1 441.5L287.8 441.4L288.5 441.3L289.2 441.2L289.9 441.1L290.6 441.0L291.3 440.9L292.0 440.8L292.7 440.7L293.4 440.5L294.1 440.4L294.8 440.3L295.5 440.2L296.2 440.0L296.9 439.9L297.6 439.8L298.3 439.7L299.0 439.6L299.7 439.5L300.4 439.4L301.1 439.3L301.8 439.2L302.5 439.1L303.2 439.0L303.9 438.9L304.6 438.8L305.3 438.7L306.0 438.6L306.7 438.5L307.4 438.4L308.1 438.3L308.8 438.3L309.5 438.2L310.2 438.1L310.9 438.0L311.6 437.9L312.3 437.9L313.0 437.8L313.7 437.7L314.4 437.7L315.1 437.6L315.8 437.5L316.5 437.5L317.2 437.4L317.9 437.4L318.6 437.3L319.3 437.2L320.0 437.2L320.7 437.1L321.4 437.1L322.1 437.0L322.8 437.0L323.5 437.0L324.2 436.9L324.9 436.9L325.6 436.9L326.3 436.8L327.0 436.8L327.7 436.8L328.4 436.7L329.1 436.7L329.8 436.7L330.5 436.7L331.2 436.7L331.9 436.7L332.6 436.6L333.3 436.6L334.0 436.6L334.7 436.6L335.4 436.6L336.1 436.6L336.8 436.6L337.5 436.6L338.2 436.6L338.9 436.6L339.6 436.6L340.3 436.6L341.0 436.6L341.7 436.6L342.4 436.6L343.1 436.6L343.8 436.6L344.5 436.6L345.2 436.6L345.9 436.6L346.6 436.6L347.3 436.6L348.0 436.6L348.7 436.6L349.4 436.6L350.1 436.6L350.8 436.6L351.5 436.6L352.2 436.6L352.9 436.6L353.6 436.6L354.3 436.6L355.0 436.6L355.7 436.6L356.4 436.6L357.1 436.6L357.8 436.6L358.5 436.7L359.2 436.7L359.9 436.7L360.6 436.7L361.3 436.7L362.0 436.8L362.7 436.8L363.4 436.8L364.1 436.9L364.8 436.9L365.5 437.0L366.2 437.0L366.9 437.1L367.6 437.1L368.3 437.2L369.0 437.3L369.7 437.4L370.4 437.5L371.1 437.6L371.8 437.7L372.5 437.8L373.2 438.0L373.9 438.1L374.6 438.3L375.3 438.5L376.0 438.7L376.7 438.9L377.4 439.1L378.1 439.3L378.8 439.5L379.5 439.8L380.2 440.0L380.9 440.3L381.6 440.6L382.3 440.9L383.0 441.2L383.7 441.5L384.4 441.9L385.1 442.2L385.8 442.5L386.5 442.9L387.2 443.3L387.9 443.6L388.6 444.0L389.3 444.3L390.0 444.7L390.7 445.0L391.4 445.4L392.1 445.7L392.8 446.1L393.5 446.4L394.2 446.7L394.9 447.0L395.6 447.3L396.3 447.5L397.0 447.8L397.7 448.0L398.4 448.2L399.1 448.3L399.8 448.5L400.5 448.6L401.2 448.7L401.9 448.8L402.6 448.8L403.3 448.8L404.0 448.8L404.7 448.7L405.4 448.6L406.1 448.5L406.8 448.4L407.5 448.2L408.2 448.0L408.9 447.8L409.6 447.6L410.3 447.3L411.0 447.0L411.7 446.7L412.4 446.4L413.1 446.1L413.8 445.8L414.5 445.4L415.2 445.1L415.9 444.7L416.6 444.4L417.3 444.0L418.0 443.7L418.7 443.3L419.4 442.9L420.1 442.6L420.8 442.3L421.5 441.9L422.2 441.6L422.9 441.3L423.6 440.9L424.3 440.6L425.0 440.4L425.7 440.1L426.4 439.8L427.1 439.6L427.8 439.3L428.5 439.1L429.2 438.9L429.9 438.7L430.6 438.5L431.3 438.3L432.0 438.2L432.7 438.0L433.4 437.9L434.1 437.8L434.8 437.6L435.5 437.5L436.2 437.4L436.9 437.3L437.6 437.3L438.3 437.2L439.0 437.1L439.7 437.1L440.4 437.0L441.1 437.0L441.8 437.0L442.5 436.9L443.2 436.9L443.9 436.9L444.6 436.9L445.3 436.9L446.0 436.9L446.7 436.9L447.4 436.9L448.1 437.0L448.8 437.0L449.5 437.0L450.2 437.1L450.9 437.2L451.6 437.3L452.3 437.3L453.0 437.5L453.7 437.6L454.4 437.7L455.1 437.9L455.8 438.0L456.5 438.2L457.2 438.5L457.9 438.7L458.6 439.0L459.3 439.3L460.0 439.6L460.7 440.0L461.4 440.4L462.1 440.9L462.8 441.4L463.5 442.0L464.2 442.6L464.9 443.3L465.6 444.0L466.3 444.8L467.0 445.7L467.7 446.6L468.4 447.6L469.1 448.7L469.8 449.9L470.5 451.2L471.2 452.5L471.9 454.0L472.6 455.6L473.3 457.2L474.0 459.0L474.7 460.8L475.4 462.8L476.1 464.9L476.8 467.1L477.5 469.4L478.2 471.9L478.9 474.4L479.6 477.0L480.3 479.8L481.0 482.6L481.7 485.6L482.4 488.6L483.1 491.7L483.8 494.9L484.5 498.2L485.2 501.6L485.9 505.0L486.6 508.4L487.3 511.9L488.0 515.4L488.7 519.0L489.4 522.5L490.1 526.0L490.8 529.5L491.5 533.0L492.2 536.4L492.9 539.7L493.6 543.0L494.3 546.1L495.0 549.2L495.7 552.1L496.4 554.9L497.1 557.5L497.8 560.0L498.5 562.3L499.2 564.4L499.9 566.3L500.6 567.9L501.3 569.4L502.0 570.6L502.7 571.6L503.4 572.4L504.1 572.9L504.8 573.2L505.5 573.2L506.2 573.0L506.9 572.5L507.6 571.8L508.3 570.8L509.0 569.6L509.7 568.2L510.4 566.6L511.1 564.7L511.8 562.6L512.5 560.4L513.2 558.0L513.9 555.4L514.6 552.6L515.3 549.7L516.0 546.7L516.7 543.5L517.4 540.3L518.1 537.0L518.8 533.6L519.5 530.2L520.2 526.7L520.9 523.2L521.6 519.6L522.3 516.1L523.0 512.6L523.7 509.1L524.4 505.7L525.1 502.3L525.8 498.9L526.5 495.6L527.2 492.4L527.9 489.3L528.6 486.3L529.3 483.3L530.0 480.5L530.7 477.7L531.4 475.1L532.1 472.5L532.8 470.1L533.5 467.8L534.2 465.6L534.9 463.5L535.6 461.5L536.3 459.6L537.0 457.9L537.7 456.2L538.4 454.6L539.1 453.2L539.8 451.8L540.5 450.5L541.2 449.3L541.9 448.2L542.6 447.2L543.3 446.3L544.0 445.4L544.7 444.6L545.4 443.9L546.1 443.2L546.8 442.6L547.5 442.0L548.2 441.5L548.9 441.0L549.6 440.6L550.3 440.2L551.0 439.9L551.7 439.6L552.4 439.3L553.1 439.1L553.8 438.9L554.5 438.7L555.2 438.5L555.9 438.3L556.6 438.2L557.3 438.1L558.0 438.0L558.7 437.9L559.4 437.8L560.1 437.7L560.8 437.6L561.5 437.6L562.2 437.5L562.9 437.5L563.6 437.5L564.3 437.4L565.0 437.4L565.7 437.4L566.4 437.4L567.1 437.3L567.8 437.3L568.5 437.3L569.2 437.3L569.9 437.3L570.6 437.3L571.3 437.3L572.0 437.3L572.7 437.3L573.4 437.3L574.1 437.3L574.8 437.3L575.5 437.3L576.2 437.3L576.9 437.3L577.6 437.3L578.3 437.3L579.0 437.3L579.7 437.3L580.4 437.3L581.1 437.3L581.8 437.3L582.5 437.3L583.2 437.3L583.9 437.3L584.6 437.3L585.3 437.3L586.0 437.3L586.7 437.3L587.4 437.3L588.1 437.3L588.8 437.3L589.5 437.3L590.2 437.3L590.9 437.3L591.6 437.3L592.3 437.3L593.0 437.3L593.7 437.3L594.4 437.3L595.1 437.3L595.8 437.3L596.5 437.3L597.2 437.3L597.9 437.3L598.6 437.3L599.3 437.3L600.0 437.3L600.7 437.3L601.4 437.3L602.1 437.3L602.8 437.3L603.5 437.3L604.2 437.3L604.9 437.3L605.6 437.3L606.3 437.3L607.0 437.3L607.7 437.3L608.4 437.3L609.1 437.3L609.8 437.3L610.5 437.3L611.2 437.3L611.9 437.3L612.6 437.3L613.3 437.3L614.0 437.3L614.7 437.3L615.4 437.3L616.1 437.3L616.8 437.3L617.5 437.3L618.2 437.3L618.9 437.3L619.6 437.3L620.3 437.3L621.0 437.3L621.7 437.3L622.4 437.3L623.1 437.3L623.8 437.3L624.5 437.3L625.2 437.3L625.9 437.3L626.6 437.3L627.3 437.3L628.0 437.3L628.7 437.3L629.4 437.3L630.1 437.3L630.8 437.3L631.5 437.3L632.2 437.4L632.9 437.4L633.6 437.4L634.3 437.4L635.0 437.5L635.7 437.5L636.4 437.5L637.1 437.6L637.8 437.6L638.5 437.7L639.2 437.7L639.9 437.8L640.6 437.9L641.3 438.0L642.0 438.1L642.7 438.2L643.4 438.3L644.1 438.4L644.8 438.6L645.5 438.7L646.2 438.9L646.9 439.1L647.6 439.4L648.3 439.6L649.0 439.9L649.7 440.2L650.4 440.6L651.1 440.9L651.8 441.3L652.5 441.8L653.2 442.2L653.9 442.7L654.6 443.3L655.3 443.9L656.0 444.5L656.7 445.2L657.4 446.0L658.1 446.7L658.8 447.6L659.5 448.5L660.2 449.4L660.9 450.4L661.6 451.4L662.3 452.5L663.0 453.7L663.7 454.9L664.4 456.2L665.1 457.5L665.8 458.8L666.5 460.2L667.2 461.7L667.9 463.2L668.6 464.7L669.3 466.3L670.0 467.9L670.7 469.5L671.4 471.1L672.1 472.8L672.8 474.4L673.5 476.1L674.2 477.8L674.9 479.4L675.6 481.0L676.3 482.7L677.0 484.2L677.7 485.8L678.4 487.3L679.1 488.7L679.8 490.1L680.5 491.4L681.2 492.6L681.9 493.8L682.6 494.9L683.3 495.8L684.0 496.7L684.7 497.5L685.4 498.2L686.1 498.7L686.8 499.2L687.5 499.5L688.2 499.7L688.9 499.8L689.6 499.8L690.3 499.6L691.0 499.4L691.7 499.0L692.4 498.5L693.1 497.9L693.8 497.2L694.5 496.3L695.2 495.4L695.9 494.4L696.6 493.3L697.3 492.1L698.0 490.9L698.7 489.6L699.4 488.2L700.1 486.8L700.8 485.3L701.5 483.8L702.2 482.2L702.9 480.7L703.6 479.1L704.3 477.5L705.0 475.9L705.7 474.3L706.4 472.7L707.1 471.1L707.8 469.6L708.5 468.1L709.2 466.6L709.9 465.1L710.6 463.7L711.3 462.3L712.0 461.0L712.7 459.7L713.4 458.5L714.1 457.3L714.8 456.1L715.5 455.0L716.2 454.0L716.9 453.0L717.6 452.1L718.3 451.2L719.0 450.4L719.7 449.6L720.4 448.9L721.1 448.2L721.8 447.6L722.5 447.0L723.2 446.5L723.9 445.9L724.6 445.5L725.3 445.0L726.0 444.6L726.7 444.3L727.4 443.9L728.1 443.6L728.8 443.3L729.5 443.1L730.2 442.8L730.9 442.6L731.6 442.4L732.3 442.2L733.0 442.0L733.7 441.9L734.4 441.7L735.1 441.6L735.8 441.5L736.5 441.3L737.2 441.2L737.9 441.1L738.6 441.0L739.3 440.9L740.0 440.8L740.7 440.7L741.4 440.6L742.1 440.5L742.8 440.4L743.5 440.3L744.2 440.2L744.9 440.1L745.6 440.0L746.3 440.0L747.0 439.9L747.7 439.8L748.4 439.7L749.1 439.6L749.8 439.6L750.5 439.5L751.2 439.4L751.9 439.4L752.6 439.3L753.3 439.3L754.0 439.2L754.7 439.2" fill="none" stroke="#0000ff" stroke-width="2.4" stroke-dasharray="2.4 3.6" stroke-linecap="butt"/>
<path d="M86.9 440.0L87.6 439.9L88.3 439.9L89.0 439.8L89.7 439.7L90.4 439.7L91.1 439.6L91.8 439.5L92.5 439.5L93.2 439.4L93.9 439.3L94.6 439.2L95.3 439.2L96.0 439.1L96.7 439.0L97.4 439.0L98.1 438.9L98.8 438.8L99.5 438.8L100.2 438.7L100.9 438.7L101.6 438.6L102.3 438.6L103.0 438.5L103.7 438.5L104.4 438.4L105.1 438.4L105.8 438.4L106.5 438.3L107.2 438.3L107.9 438.3L108.6 438.3L109.3 438.2L110.0 438.2L110.7 438.2L111.4 438.2L112.1 438.2L112.8 438.2L113.5 438.2L114.2 438.2L114.9 438.2L115.6 438.2L116.3 438.2L117.0 438.2L117.7 438.2L118.4 438.2L119.1 438.2L119.8 438.2L120.5 438.3L121.2 438.3L121.9 438.3L122.6 438.4L123.3 438.4L124.0 438.5L124.7 438.5L125.4 438.6L126.1 438.7L126.8 438.8L127.5 438.9L128.2 439.0L128.9 439.1L129.6 439.3L130.3 439.4L131.0 439.6L131.7 439.8L132.4 440.1L133.1 440.3L133.8 440.6L134.5 440.9L135.2 441.3L135.9 441.7L136.6 442.1L137.3 442.6L138.0 443.1L138.7 443.7L139.4 444.3L140.1 445.0L140.8 445.7L141.5 446.5L142.2 447.4L142.9 448.3L143.6 449.4L144.3 450.5L145.0 451.7L145.7 453.0L146.4 454.4L147.1 455.8L147.8 457.4L148.5 459.1L149.2 460.9L149.9 462.9L150.6 464.9L151.3 467.1L152.0 469.4L152.7 471.8L153.4 474.4L154.1 477.1L154.8 479.9L155.5 482.9L156.2 486.0L156.9 489.2L157.6 492.6L158.3 496.1L159.0 499.7L159.7 503.5L160.4 507.4L161.1 511.5L161.8 515.6L162.5 519.9L163.2 524.3L163.9 528.8L164.6 533.4L165.3 538.1L166.0 542.8L166.7 547.7L167.4 552.6L168.1 557.5L168.8 562.5L169.5 567.5L170.2 572.6L170.9 577.6L171.6 582.7L172.3 587.7L173.0 592.6L173.7 597.6L174.4 602.5L175.1 607.3L175.8 612.0L176.5 616.6L177.2 621.1L177.9 625.5L178.6 629.7L179.3 633.8L180.0 637.8L180.7 641.6L181.4 645.1L182.1 648.5L182.8 651.8L183.5 654.8L184.2 657.6L184.9 660.1L185.6 662.5L186.3 664.6L187.0 666.6L187.7 668.2L188.4 669.7L189.1 670.9L189.8 672.0L190.5 672.8L191.2 673.4L191.9 673.8L192.6 674.0L193.3 674.1L194.0 674.0L194.7 673.8L195.4 673.4L196.1 672.8L196.8 672.0L197.5 671.0L198.2 669.8L198.9 668.3L199.6 666.6L200.3 664.7L201.0 662.6L201.7 660.2L202.4 657.7L203.1 654.9L203.8 651.9L204.5 648.7L205.2 645.3L205.9 641.7L206.6 638.0L207.3 634.0L208.0 630.0L208.7 625.7L209.4 621.4L210.1 616.9L210.8 612.3L211.5 607.6L212.2 602.8L212.9 598.0L213.6 593.1L214.3 588.1L215.0 583.1L215.7 578.1L216.4 573.1L217.1 568.1L217.8 563.1L218.5 558.2L219.2 553.2L219.9 548.4L220.6 543.6L221.3 538.9L222.0 534.2L222.7 529.7L223.4 525.2L224.1 520.9L224.8 516.6L225.5 512.5L226.2 508.5L226.9 504.6L227.6 500.9L228.3 497.2L229.0 493.8L229.7 490.4L230.4 487.2L231.1 484.2L231.8 481.2L232.5 478.4L233.2 475.8L233.9 473.2L234.6 470.8L235.3 468.6L236.0 466.4L236.7 464.4L237.4 462.5L238.1 460.7L238.8 459.1L239.5 457.5L240.2 456.1L240.9 454.7L241.6 453.4L242.3 452.2L243.0 451.2L243.7 450.2L244.4 449.2L245.1 448.4L245.8 447.6L246.5 446.9L247.2 446.2L247.9 445.6L248.6 445.0L249.3 444.5L250.0 444.1L250.7 443.6L251.4 443.3L252.1 442.9L252.8 442.6L253.5 442.3L254.2 442.1L254.9 441.9L255.6 441.7L256.3 441.5L257.0 441.4L257.7 441.2L258.4 441.1L259.1 441.0L259.8 440.9L260.5 440.8L261.2 440.8L261.9 440.7L262.6 440.7L263.3 440.7L264.0 440.6L264.7 440.6L265.4 440.6L266.1 440.7L266.8 440.7L267.5 440.7L268.2 440.7L268.9 440.8L269.6 440.8L270.3 440.9L271.0 440.9L271.7 441.0L272.4 441.1L273.1 441.2L273.8 441.2L274.5 441.3L275.2 441.4L275.9 441.4L276.6 441.5L277.3 441.6L278.0 441.6L278.7 441.7L279.4 441.7L280.1 441.8L280.8 441.8L281.5 441.8L282.2 441.8L282.9 441.8L283.6 441.8L284.3 441.8L285.0 441.7L285.7 441.7L286.4 441.6L287.1 441.5L287.8 441.4L288.5 441.3L289.2 441.2L289.9 441.1L290.6 441.0L291.3 440.9L292.0 440.8L292.7 440.7L293.4 440.5L294.1 440.4L294.8 440.3L295.5 440.2L296.2 440.0L296.9 439.9L297.6 439.8L298.3 439.7L299.0 439.6L299.7 439.5L300.4 439.4L301.1 439.3L301.8 439.2L302.5 439.1L303.2 439.0L303.9 438.9L304.6 438.8L305.3 438.7L306.0 438.6L306.7 438.5L307.4 438.4L308.1 438.3L308.8 438.3L309.5 438.2L310.2 438.1L310.9 438.0L311.6 437.9L312.3 437.9L313.0 437.8L313.7 437.7L314.4 437.7L315.1 437.6L315.8 437.5L316.5 437.5L317.2 437.4L317.9 437.4L318.6 437.3L319.3 437.2L320.0 437.2L320.7 437.1L321.4 437.1L322.1 437.0L322.8 437.0L323.5 437.0L324.2 436.9L324.9 436.9L325.6 436.9L326.3 436.8L327.0 436.8L327.7 436.8L328.4 436.7L329.1 436.7L329.8 436.7L330.5 436.7L331.2 436.7L331.9 436.7L332.6 436.6L333.3 436.6L334.0 436.6L334.7 436.6L335.4 436.6L336.1 436.6L336.8 436.6L337.5 436.6L338.2 436.6L338.9 436.6L339.6 436.6L340.3 436.6L341.0 436.6L341.7 436.6L342.4 436.6L343.1 436.6L343.8 436.6L344.5 436.6L345.2 436.6L345.9 436.6L346.6 436.6L347.3 436.6L348.0 436.6L348.7 436.6L349.4 436.6L350.1 436.6L350.8 436.6L351.5 436.6L352.2 436.6L352.9 436.6L353.6 436.6L354.3 436.6L355.0 436.6L355.7 436.6L356.4 436.6L357.1 436.6L357.8 436.6L358.5 436.7L359.2 436.7L359.9 436.7L360.6 436.7L361.3 436.7L362.0 436.8L362.7 436.8L363.4 436.8L364.1 436.9L364.8 436.9L365.5 437.0L366.2 437.0L366.9 437.1L367.6 437.1L368.3 437.2L369.0 437.3L369.7 437.4L370.4 437.5L371.1 437.6L371.8 437.7L372.5 437.8L373.2 438.0L373.9 438.1L374.6 438.3L375.3 438.5L376.0 438.7L376.7 438.9L377.4 439.1L378.1 439.3L378.8 439.5L379.5 439.8L380.2 440.0L380.9 440.3L381.6 440.6L382.3 440.9L383.0 441.2L383.7 441.5L384.4 441.9L385.1 442.2L385.8 442.5L386.5 442.9L387.2 443.3L387.9 443.6L388.6 444.0L389.3 444.3L390.0 444.7L390.7 445.0L391.4 445.4L392.1 445.7L392.8 446.1L393.5 446.4L394.2 446.7L394.9 447.0L395.6 447.3L396.3 447.5L397.0 447.8L397.7 448.0L398.4 448.2L399.1 448.3L399.8 448.5L400.5 448.6L401.2 448.7L401.9 448.8L402.6 448.8L403.3 448.8L404.0 448.8L404.7 448.7L405.4 448.6L406.1 448.5L406.8 448.4L407.5 448.2L408.2 448.0L408.9 447.8L409.6 447.6L410.3 447.3L411.0 447.0L411.7 446.7L412.4 446.4L413.1 446.1L413.8 445.8L414.5 445.4L415.2 445.1L415.9 444.7L416.6 444.4L417.3 444.0L418.0 443.7L418.7 443.3L419.4 442.9L420.1 442.6L420.8 442.3L421.5 441.9L422.2 441.6L422.9 441.3L423.6 440.9L424.3 440.6L425.0 440.4L425.7 440.1L426.4 439.8L427.1 439.6L427.8 439.3L428.5 439.1L429.2 438.9L429.9 438.7L430.6 438.5L431.3 438.3L432.0 438.2L432.7 438.0L433.4 437.9L434.1 437.7L434.8 437.6L435.5 437.5L436.2 437.4L436.9 437.3L437.6 437.2L438.3 437.2L439.0 437.1L439.7 437.1L440.4 437.0L441.1 437.0L441.8 436.9L442.5 436.9L443.2 436.9L443.9 436.8L444.6 436.8L445.3 436.8L446.0 436.8L446.7 436.8L447.4 436.8L448.1 436.8L448.8 436.8L449.5 436.8L450.2 436.9L450.9 436.9L451.6 436.9L452.3 437.0L453.0 437.0L453.7 437.1L454.4 437.2L455.1 437.3L455.8 437.3L456.5 437.4L457.2 437.6L457.9 437.7L458.6 437.8L459.3 438.0L460.0 438.2L460.7 438.4L461.4 438.6L462.1 438.9L462.8 439.2L463.5 439.5L464.2 439.8L464.9 440.1L465.6 440.5L466.3 441.0L467.0 441.5L467.7 442.0L468.4 442.5L469.1 443.1L469.8 443.8L470.5 444.5L471.2 445.2L471.9 446.0L472.6 446.9L473.3 447.8L474.0 448.7L474.7 449.8L475.4 450.9L476.1 452.0L476.8 453.2L477.5 454.5L478.2 455.8L478.9 457.2L479.6 458.7L480.3 460.2L481.0 461.8L481.7 463.4L482.4 465.1L483.1 466.8L483.8 468.6L484.5 470.4L485.2 472.3L485.9 474.2L486.6 476.1L487.3 478.1L488.0 480.0L488.7 482.0L489.4 484.0L490.1 485.9L490.8 487.9L491.5 489.8L492.2 491.7L492.9 493.6L493.6 495.4L494.3 497.2L495.0 498.9L495.7 500.5L496.4 502.1L497.1 503.6L497.8 504.9L498.5 506.2L499.2 507.4L499.9 508.5L500.6 509.4L501.3 510.2L502.0 510.9L502.7 511.5L503.4 511.9L504.1 512.2L504.8 512.3L505.5 512.4L506.2 512.2L506.9 512.0L507.6 511.6L508.3 511.0L509.0 510.4L509.7 509.6L510.4 508.7L511.1 507.6L511.8 506.5L512.5 505.2L513.2 503.8L513.9 502.4L514.6 500.9L515.3 499.2L516.0 497.5L516.7 495.8L517.4 494.0L518.1 492.1L518.8 490.2L519.5 488.3L520.2 486.4L520.9 484.4L521.6 482.5L522.3 480.5L523.0 478.6L523.7 476.6L524.4 474.7L525.1 472.8L525.8 471.0L526.5 469.1L527.2 467.4L527.9 465.6L528.6 463.9L529.3 462.3L530.0 460.7L530.7 459.2L531.4 457.8L532.1 456.4L532.8 455.0L533.5 453.8L534.2 452.5L534.9 451.4L535.6 450.3L536.3 449.3L537.0 448.3L537.7 447.4L538.4 446.5L539.1 445.8L539.8 445.0L540.5 444.3L541.2 443.7L541.9 443.1L542.6 442.5L543.3 442.0L544.0 441.5L544.7 441.1L545.4 440.7L546.1 440.4L546.8 440.0L547.5 439.7L548.2 439.5L548.9 439.2L549.6 439.0L550.3 438.8L551.0 438.6L551.7 438.4L552.4 438.3L553.1 438.2L553.8 438.0L554.5 437.9L555.2 437.9L555.9 437.8L556.6 437.7L557.3 437.6L558.0 437.6L558.7 437.5L559.4 437.5L560.1 437.5L560.8 437.4L561.5 437.4L562.2 437.4L562.9 437.4L563.6 437.3L564.3 437.3L565.0 437.3L565.7 437.3L566.4 437.3L567.1 437.3L567.8 437.3L568.5 437.3L569.2 437.3L569.9 437.3L570.6 437.3L571.3 437.3L572.0 437.3L572.7 437.3L573.4 437.3L574.1 437.3L574.8 437.3L575.5 437.3L576.2 437.3L576.9 437.3L577.6 437.3L578.3 437.3L579.0 437.3L579.7 437.3L580.4 437.3L581.1 437.3L581.8 437.3L582.5 437.3L583.2 437.3L583.9 437.3L584.6 437.3L585.3 437.3L586.0 437.3L586.7 437.3L587.4 437.3L588.1 437.3L588.8 437.3L589.5 437.3L590.2 437.3L590.9 437.3L591.6 437.3L592.3 437.3L593.0 437.3L593.7 437.3L594.4 437.3L595.1 437.3L595.8 437.3L596.5 437.3L597.2 437.3L597.9 437.3L598.6 437.3L599.3 437.3L600.0 437.3L600.7 437.3L601.4 437.3L602.1 437.3L602.8 437.3L603.5 437.3L604.2 437.3L604.9 437.3L605.6 437.3L606.3 437.3L607.0 437.3L607.7 437.3L608.4 437.3L609.1 437.3L609.8 437.3L610.5 437.3L611.2 437.3L611.9 437.3L612.6 437.3L613.3 437.3L614.0 437.3L614.7 437.3L615.4 437.3L616.1 437.3L616.8 437.3L617.5 437.3L618.2 437.3L618.9 437.3L619.6 437.3L620.3 437.3L621.0 437.3L621.7 437.3L622.4 437.3L623.1 437.3L623.8 437.3L624.5 437.3L625.2 437.3L625.9 437.3L626.6 437.3L627.3 437.3L628.0 437.3L628.7 437.3L629.4 437.3L630.1 437.3L630.8 437.3L631.5 437.3L632.2 437.4L632.9 437.4L633.6 437.4L634.3 437.4L635.0 437.5L635.7 437.5L636.4 437.5L637.1 437.6L637.8 437.6L638.5 437.7L639.2 437.7L639.9 437.8L640.6 437.9L641.3 438.0L642.0 438.1L642.7 438.2L643.4 438.3L644.1 438.4L644.8 438.6L645.5 438.7L646.2 438.9L646.9 439.1L647.6 439.4L648.3 439.6L649.0 439.9L649.7 440.2L650.4 440.6L651.1 440.9L651.8 441.3L652.5 441.8L653.2 442.2L653.9 442.7L654.6 443.3L655.3 443.9L656.0 444.5L656.7 445.2L657.4 446.0L658.1 446.7L658.8 447.6L659.5 448.5L660.2 449.4L660.9 450.4L661.6 451.4L662.3 452.5L663.0 453.7L663.7 454.9L664.4 456.2L665.1 457.5L665.8 458.8L666.5 460.2L667.2 461.7L667.9 463.2L668.6 464.7L669.3 466.3L670.0 467.9L670.7 469.5L671.4 471.1L672.1 472.8L672.8 474.4L673.5 476.1L674.2 477.8L674.9 479.4L675.6 481.0L676.3 482.7L677.0 484.2L677.7 485.8L678.4 487.3L679.1 488.7L679.8 490.1L680.5 491.4L681.2 492.6L681.9 493.8L682.6 494.9L683.3 495.8L684.0 496.7L684.7 497.5L685.4 498.2L686.1 498.7L686.8 499.2L687.5 499.5L688.2 499.7L688.9 499.8L689.6 499.8L690.3 499.6L691.0 499.4L691.7 499.0L692.4 498.5L693.1 497.9L693.8 497.2L694.5 496.3L695.2 495.4L695.9 494.4L696.6 493.3L697.3 492.1L698.0 490.9L698.7 489.6L699.4 488.2L700.1 486.8L700.8 485.3L701.5 483.8L702.2 482.2L702.9 480.7L703.6 479.1L704.3 477.5L705.0 475.9L705.7 474.3L706.4 472.7L707.1 471.1L707.8 469.6L708.5 468.1L709.2 466.6L709.9 465.1L710.6 463.7L711.3 462.3L712.0 461.0L712.7 459.7L713.4 458.5L714.1 457.3L714.8 456.1L715.5 455.0L716.2 454.0L716.9 453.0L717.6 452.1L718.3 451.2L719.0 450.4L719.7 449.6L720.4 448.9L721.1 448.2L721.8 447.6L722.5 447.0L723.2 446.5L723.9 445.9L724.6 445.5L725.3 445.0L726.0 444.6L726.7 444.3L727.4 443.9L728.1 443.6L728.8 443.3L729.5 443.1L730.2 442.8L730.9 442.6L731.6 442.4L732.3 442.2L733.0 442.0L733.7 441.9L734.4 441.7L735.1 441.6L735.8 441.5L736.5 441.3L737.2 441.2L737.9 441.1L738.6 441.0L739.3 440.9L740.0 440.8L740.7 440.7L741.4 440.6L742.1 440.5L742.8 440.4L743.5 440.3L744.2 440.2L744.9 440.1L745.6 440.0L746.3 440.0L747.0 439.9L747.7 439.8L748.4 439.7L749.1 439.6L749.8 439.6L750.5 439.5L751.2 439.4L751.9 439.4L752.6 439.3L753.3 439.3L754.0 439.2L754.7 439.2" fill="none" stroke="#0000ff" stroke-width="2.4" stroke-dasharray="2.4 3.6" stroke-linecap="butt"/>
<path d="M86.9 440.0L87.6 439.9L88.3 439.9L89.0 439.8L89.7 439.7L90.4 439.7L91.1 439.6L91.8 439.5L92.5 439.5L93.2 439.4L93.9 439.3L94.6 439.2L95.3 439.2L96.0 439.1L96.7 439.0L97.4 439.0L98.1 438.9L98.8 438.8L99.5 438.8L100.2 438.7L100.9 438.7L101.6 438.6L102.3 438.6L103.0 438.5L103.7 438.5L104.4 438.4L105.1 438.4L105.8 438.4L106.5 438.3L107.2 438.3L107.9 438.3L108.6 438.3L109.3 438.2L110.0 438.2L110.7 438.2L111.4 438.2L112.1 438.2L112.8 438.2L113.5 438.2L114.2 438.2L114.9 438.2L115.6 438.2L116.3 438.2L117.0 438.2L117.7 438.2L118.4 438.2L119.1 438.2L119.8 438.2L120.5 438.3L121.2 438.3L121.9 438.3L122.6 438.4L123.3 438.4L124.0 438.5L124.7 438.5L125.4 438.6L126.1 438.7L126.8 438.8L127.5 438.9L128.2 439.0L128.9 439.1L129.6 439.3L130.3 439.4L131.0 439.6L131.7 439.8L132.4 440.1L133.1 440.3L133.8 440.6L134.5 440.9L135.2 441.3L135.9 441.7L136.6 442.1L137.3 442.6L138.0 443.1L138.7 443.7L139.4 444.3L140.1 445.0L140.8 445.7L141.5 446.5L142.2 447.4L142.9 448.3L143.6 449.4L144.3 450.5L145.0 451.7L145.7 453.0L146.4 454.4L147.1 455.8L147.8 457.4L148.5 459.1L149.2 460.9L149.9 462.9L150.6 464.9L151.3 467.1L152.0 469.4L152.7 471.8L153.4 474.4L154.1 477.1L154.8 479.9L155.5 482.9L156.2 486.0L156.9 489.2L157.6 492.6L158.3 496.1L159.0 499.7L159.7 503.5L160.4 507.4L161.1 511.5L161.8 515.6L162.5 519.9L163.2 524.3L163.9 528.8L164.6 533.4L165.3 538.1L166.0 542.8L166.7 547.7L167.4 552.6L168.1 557.5L168.8 562.5L169.5 567.5L170.2 572.6L170.9 577.6L171.6 582.7L172.3 587.7L173.0 592.6L173.7 597.6L174.4 602.5L175.1 607.3L175.8 612.0L176.5 616.6L177.2 621.1L177.9 625.5L178.6 629.7L179.3 633.8L180.0 637.8L180.7 641.6L181.4 645.1L182.1 648.5L182.8 651.8L183.5 654.8L184.2 657.6L184.9 660.1L185.6 662.5L186.3 664.6L187.0 666.6L187.7 668.2L188.4 669.7L189.1 670.9L189.8 672.0L190.5 672.8L191.2 673.4L191.9 673.8L192.6 674.0L193.3 674.1L194.0 674.0L194.7 673.8L195.4 673.4L196.1 672.8L196.8 672.0L197.5 671.0L198.2 669.8L198.9 668.3L199.6 666.6L200.3 664.7L201.0 662.6L201.7 660.2L202.4 657.7L203.1 654.9L203.8 651.9L204.5 648.7L205.2 645.3L205.9 641.7L206.6 638.0L207.3 634.0L208.0 630.0L208.7 625.7L209.4 621.4L210.1 616.9L210.8 612.3L211.5 607.6L212.2 602.8L212.9 598.0L213.6 593.1L214.3 588.1L215.0 583.1L215.7 578.1L216.4 573.1L217.1 568.1L217.8 563.1L218.5 558.2L219.2 553.2L219.9 548.4L220.6 543.6L221.3 538.9L222.0 534.2L222.7 529.7L223.4 525.2L224.1 520.9L224.8 516.6L225.5 512.5L226.2 508.5L226.9 504.6L227.6 500.9L228.3 497.2L229.0 493.8L229.7 490.4L230.4 487.2L231.1 484.2L231.8 481.2L232.5 478.4L233.2 475.8L233.9 473.2L234.6 470.8L235.3 468.6L236.0 466.4L236.7 464.4L237.4 462.5L238.1 460.7L238.8 459.1L239.5 457.5L240.2 456.1L240.9 454.7L241.6 453.4L242.3 452.2L243.0 451.2L243.7 450.2L244.4 449.2L245.1 448.4L245.8 447.6L246.5 446.9L247.2 446.2L247.9 445.6L248.6 445.0L249.3 444.5L250.0 444.1L250.7 443.6L251.4 443.3L252.1 442.9L252.8 442.6L253.5 442.3L254.2 442.1L254.9 441.9L255.6 441.7L256.3 441.5L257.0 441.4L257.7 441.2L258.4 441.1L259.1 441.0L259.8 440.9L260.5 440.8L261.2 440.8L261.9 440.7L262.6 440.7L263.3 440.7L264.0 440.6L264.7 440.6L265.4 440.6L266.1 440.7L266.8 440.7L267.5 440.7L268.2 440.7L268.9 440.8L269.6 440.8L270.3 440.9L271.0 440.9L271.7 441.0L272.4 441.1L273.1 441.2L273.8 441.2L274.5 441.3L275.2 441.4L275.9 441.4L276.6 441.5L277.3 441.6L278.0 441.6L278.7 441.7L279.4 441.7L280.1 441.8L280.8 441.8L281.5 441.8L282.2 441.8L282.9 441.8L283.6 441.8L284.3 441.8L285.0 441.7L285.7 441.7L286.4 441.6L287.1 441.5L287.8 441.4L288.5 441.3L289.2 441.2L289.9 441.1L290.6 441.0L291.3 440.9L292.0 440.8L292.7 440.7L293.4 440.5L294.1 440.4L294.8 440.3L295.5 440.2L296.2 440.0L296.9 439.9L297.6 439.8L298.3 439.7L299.0 439.6L299.7 439.5L300.4 439.4L301.1 439.3L301.8 439.2L302.5 439.1L303.2 439.0L303.9 438.9L304.6 438.8L305.3 438.7L306.0 438.6L306.7 438.5L307.4 438.4L308.1 438.3L308.8 438.3L309.5 438.2L310.2 438.1L310.9 438.0L311.6 437.9L312.3 437.9L313.0 437.8L313.7 437.7L314.4 437.7L315.1 437.6L315.8 437.5L316.5 437.5L317.2 437.4L317.9 437.4L318.6 437.3L319.3 437.2L320.0 437.2L320.7 437.1L321.4 437.1L322.1 437.0L322.8 437.0L323.5 437.0L324.2 436.9L324.9 436.9L325.6 436.9L326.3 436.8L327.0 436.8L327.7 436.8L328.4 436.7L329.1 436.7L329.8 436.7L330.5 436.7L331.2 436.7L331.9 436.7L332.6 436.6L333.3 436.6L334.0 436.6L334.7 436.6L335.4 436.6L336.1 436.6L336.8 436.6L337.5 436.6L338.2 436.6L338.9 436.6L339.6 436.6L340.3 436.6L341.0 436.6L341.7 436.6L342.4 436.6L343.1 436.6L343.8 436.6L344.5 436.6L345.2 436.6L345.9 436.6L346.6 436.6L347.3 436.6L348.0 436.6L348.7 436.6L349.4 436.6L350.1 436.6L350.8 436.6L351.5 436.6L352.2 436.6L352.9 436.6L353.6 436.6L354.3 436.6L355.0 436.6L355.7 436.6L356.4 436.6L357.1 436.6L357.8 436.6L358.5 436.7L359.2 436.7L359.9 436.7L360.6 436.7L361.3 436.7L362.0 436.8L362.7 436.8L363.4 436.8L364.1 436.9L364.8 436.9L365.5 437.0L366.2 437.0L366.9 437.1L367.6 437.1L368.3 437.2L369.0 437.3L369.7 437.4L370.4 437.5L371.1 437.6L371.8 437.7L372.5 437.8L373.2 438.0L373.9 438.1L374.6 438.3L375.3 438.5L376.0 438.7L376.7 438.9L377.4 439.1L378.1 439.3L378.8 439.5L379.5 439.8L380.2 440.0L380.9 440.3L381.6 440.6L382.3 440.9L383.0 441.2L383.7 441.5L384.4 441.9L385.1 442.2L385.8 442.5L386.5 442.9L387.2 443.3L387.9 443.6L388.6 444.0L389.3 444.3L390.0 444.7L390.7 445.0L391.4 445.4L392.1 445.7L392.8 446.1L393.5 446.4L394.2 446.7L394.9 447.0L395.6 447.3L396.3 447.5L397.0 447.8L397.7 448.0L398.4 448.2L399.1 448.3L399.8 448.5L400.5 448.6L401.2 448.7L401.9 448.8L402.6 448.8L403.3 448.8L404.0 448.8L404.7 448.7L405.4 448.6L406.1 448.5L406.8 448.4L407.5 448.2L408.2 448.0L408.9 447.8L409.6 447.6L410.3 447.3L411.0 447.0L411.7 446.7L412.4 446.4L413.1 446.1L413.8 445.8L414.5 445.4L415.2 445.1L415.9 444.7L416.6 444.4L417.3 444.0L418.0 443.7L418.7 443.3L419.4 443.0L420.1 442.6L420.8 442.3L421.5 441.9L422.2 441.6L422.9 441.3L423.6 441.0L424.3 440.7L425.0 440.4L425.7 440.1L426.4 439.8L427.1 439.6L427.8 439.3L428.5 439.1L429.2 438.9L429.9 438.7L430.6 438.5L431.3 438.3L432.0 438.2L432.7 438.0L433.4 437.9L434.1 437.8L434.8 437.7L435.5 437.5L436.2 437.4L436.9 437.4L437.6 437.3L438.3 437.2L439.0 437.1L439.7 437.1L440.4 437.0L441.1 437.0L441.8 436.9L442.5 436.9L443.2 436.9L443.9 436.9L444.6 436.8L445.3 436.8L446.0 436.8L446.7 436.8L447.4 436.8L448.1 436.8L448.8 436.8L449.5 436.8L450.2 436.8L450.9 436.8L451.6 436.8L452.3 436.8L453.0 436.8L453.7 436.8L454.4 436.8L455.1 436.8L455.8 436.8L456.5 436.9L457.2 436.9L457.9 436.9L458.6 436.9L459.3 436.9L460.0 436.9L460.7 437.0L461.4 437.0L462.1 437.0L462.8 437.0L463.5 437.0L464.2 437.1L464.9 437.1L465.6 437.1L466.3 437.1L467.0 437.2L467.7 437.2L468.4 437.2L469.1 437.3L469.8 437.3L470.5 437.3L471.2 437.3L471.9 437.4L472.6 437.4L473.3 437.4L474.0 437.5L474.7 437.5L475.4 437.5L476.1 437.6L476.8 437.6L477.5 437.6L478.2 437.7L478.9 437.7L479.6 437.8L480.3 437.8L481.0 437.8L481.7 437.9L482.4 437.9L483.1 437.9L483.8 438.0L484.5 438.0L485.2 438.0L485.9 438.1L486.6 438.1L487.3 438.1L488.0 438.2L488.7 438.2L489.4 438.2L490.1 438.3L490.8 438.3L491.5 438.3L492.2 438.4L492.9 438.4L493.6 438.4L494.3 438.4L495.0 438.5L495.7 438.5L496.4 438.5L497.1 438.5L497.8 438.6L498.5 438.6L499.2 438.6L499.9 438.6L500.6 438.6L501.3 438.6L502.0 438.6L502.7 438.7L503.4 438.7L504.1 438.7L504.8 438.7L505.5 438.7L506.2 438.7L506.9 438.7L507.6 438.7L508.3 438.7L509.0 438.7L509.7 438.7L510.4 438.7L511.1 438.7L511.8 438.7L512.5 438.7L513.2 438.6L513.9 438.6L514.6 438.6L515.3 438.6L516.0 438.6L516.7 438.6L517.4 438.6L518.1 438.5L518.8 438.5L519.5 438.5L520.2 438.5L520.9 438.5L521.6 438.4L522.3 438.4L523.0 438.4L523.7 438.4L524.4 438.3L525.1 438.3L525.8 438.3L526.5 438.3L527.2 438.2L527.9 438.2L528.6 438.2L529.3 438.2L530.0 438.1L530.7 438.1L531.4 438.1L532.1 438.1L532.8 438.0L533.5 438.0L534.2 438.0L534.9 437.9L535.6 437.9L536.3 437.9L537.0 437.9L537.7 437.8L538.4 437.8L539.1 437.8L539.8 437.8L540.5 437.8L541.2 437.7L541.9 437.7L542.6 437.7L543.3 437.7L544.0 437.7L544.7 437.6L545.4 437.6L546.1 437.6L546.8 437.6L547.5 437.6L548.2 437.5L548.9 437.5L549.6 437.5L550.3 437.5L551.0 437.5L551.7 437.5L552.4 437.5L553.1 437.5L553.8 437.4L554.5 437.4L555.2 437.4L555.9 437.4L556.6 437.4L557.3 437.4L558.0 437.4L558.7 437.4L559.4 437.4L560.1 437.4L560.8 437.4L561.5 437.3L562.2 437.3L562.9 437.3L563.6 437.3L564.3 437.3L565.0 437.3L565.7 437.3L566.4 437.3L567.1 437.3L567.8 437.3L568.5 437.3L569.2 437.3L569.9 437.3L570.6 437.3L571.3 437.3L572.0 437.3L572.7 437.3L573.4 437.3L574.1 437.3L574.8 437.3L575.5 437.3L576.2 437.3L576.9 437.3L577.6 437.3L578.3 437.3L579.0 437.3L579.7 437.3L580.4 437.3L581.1 437.3L581.8 437.3L582.5 437.3L583.2 437.3L583.9 437.3L584.6 437.3L585.3 437.3L586.0 437.3L586.7 437.3L587.4 437.3L588.1 437.3L588.8 437.3L589.5 437.3L590.2 437.3L590.9 437.3L591.6 437.3L592.3 437.3L593.0 437.3L593.7 437.3L594.4 437.3L595.1 437.3L595.8 437.3L596.5 437.3L597.2 437.3L597.9 437.3L598.6 437.3L599.3 437.3L600.0 437.3L600.7 437.3L601.4 437.3L602.1 437.3L602.8 437.3L603.5 437.3L604.2 437.3L604.9 437.3L605.6 437.3L606.3 437.3L607.0 437.3L607.7 437.3L608.4 437.3L609.1 437.3L609.8 437.3L610.5 437.3L611.2 437.3L611.9 437.3L612.6 437.3L613.3 437.3L614.0 437.3L614.7 437.3L615.4 437.3L616.1 437.3L616.8 437.3L617.5 437.3L618.2 437.3L618.9 437.3L619.6 437.3L620.3 437.3L621.0 437.3L621.7 437.3L622.4 437.3L623.1 437.3L623.8 437.3L624.5 437.3L625.2 437.3L625.9 437.3L626.6 437.3L627.3 437.3L628.0 437.3L628.7 437.3L629.4 437.3L630.1 437.3L630.8 437.3L631.5 437.3L632.2 437.4L632.9 437.4L633.6 437.4L634.3 437.4L635.0 437.5L635.7 437.5L636.4 437.5L637.1 437.6L637.8 437.6L638.5 437.7L639.2 437.7L639.9 437.8L640.6 437.9L641.3 438.0L642.0 438.1L642.7 438.2L643.4 438.3L644.1 438.4L644.8 438.6L645.5 438.7L646.2 438.9L646.9 439.1L647.6 439.4L648.3 439.6L649.0 439.9L649.7 440.2L650.4 440.6L651.1 440.9L651.8 441.3L652.5 441.8L653.2 442.2L653.9 442.7L654.6 443.3L655.3 443.9L656.0 444.5L656.7 445.2L657.4 446.0L658.1 446.7L658.8 447.6L659.5 448.5L660.2 449.4L660.9 450.4L661.6 451.4L662.3 452.5L663.0 453.7L663.7 454.9L664.4 456.2L665.1 457.5L665.8 458.8L666.5 460.2L667.2 461.7L667.9 463.2L668.6 464.7L669.3 466.3L670.0 467.9L670.7 469.5L671.4 471.1L672.1 472.8L672.8 474.4L673.5 476.1L674.2 477.8L674.9 479.4L675.6 481.0L676.3 482.7L677.0 484.2L677.7 485.8L678.4 487.3L679.1 488.7L679.8 490.1L680.5 491.4L681.2 492.6L681.9 493.8L682.6 494.9L683.3 495.8L684.0 496.7L684.7 497.5L685.4 498.2L686.1 498.7L686.8 499.2L687.5 499.5L688.2 499.7L688.9 499.8L689.6 499.8L690.3 499.6L691.0 499.4L691.7 499.0L692.4 498.5L693.1 497.9L693.8 497.2L694.5 496.3L695.2 495.4L695.9 494.4L696.6 493.3L697.3 492.1L698.0 490.9L698.7 489.6L699.4 488.2L700.1 486.8L700.8 485.3L701.5 483.8L702.2 482.2L702.9 480.7L703.6 479.1L704.3 477.5L705.0 475.9L705.7 474.3L706.4 472.7L707.1 471.1L707.8 469.6L708.5 468.1L709.2 466.6L709.9 465.1L710.6 463.7L711.3 462.3L712.0 461.0L712.7 459.7L713.4 458.5L714.1 457.3L714.8 456.1L715.5 455.0L716.2 454.0L716.9 453.0L717.6 452.1L718.3 451.2L719.0 450.4L719.7 449.6L720.4 448.9L721.1 448.2L721.8 447.6L722.5 447.0L723.2 446.5L723.9 445.9L724.6 445.5L725.3 445.0L726.0 444.6L726.7 444.3L727.4 443.9L728.1 443.6L728.8 443.3L729.5 443.1L730.2 442.8L730.9 442.6L731.6 442.4L732.3 442.2L733.0 442.0L733.7 441.9L734.4 441.7L735.1 441.6L735.8 441.5L736.5 441.3L737.2 441.2L737.9 441.1L738.6 441.0L739.3 440.9L740.0 440.8L740.7 440.7L741.4 440.6L742.1 440.5L742.8 440.4L743.5 440.3L744.2 440.2L744.9 440.1L745.6 440.0L746.3 440.0L747.0 439.9L747.7 439.8L748.4 439.7L749.1 439.6L749.8 439.6L750.5 439.5L751.2 439.4L751.9 439.4L752.6 439.3L753.3 439.3L754.0 439.2L754.7 439.2" fill="none" stroke="#0000ff" stroke-width="2.4" stroke-dasharray="2.4 3.6" stroke-linecap="butt"/>
<path d="M86.9 440.0L87.6 439.9L88.3 439.9L89.0 439.8L89.7 439.7L90.4 439.7L91.1 439.6L91.8 439.5L92.5 439.5L93.2 439.4L93.9 439.3L94.6 439.2L95.3 439.2L96.0 439.1L96.7 439.0L97.4 439.0L98.1 438.9L98.8 438.8L99.5 438.8L100.2 438.7L100.9 438.7L101.6 438.6L102.3 438.6L103.0 438.5L103.7 438.5L104.4 438.4L105.1 438.4L105.8 438.4L106.5 438.3L107.2 438.3L107.9 438.3L108.6 438.3L109.3 438.2L110.0 438.2L110.7 438.2L111.4 438.2L112.1 438.2L112.8 438.2L113.5 438.2L114.2 438.2L114.9 438.2L115.6 438.2L116.3 438.2L117.0 438.2L117.7 438.2L118.4 438.2L119.1 438.2L119.8 438.2L120.5 438.3L121.2 438.3L121.9 438.3L122.6 438.4L123.3 438.4L124.0 438.5L124.7 438.5L125.4 438.6L126.1 438.7L126.8 438.8L127.5 438.9L128.2 439.0L128.9 439.1L129.6 439.3L130.3 439.4L131.0 439.6L131.7 439.8L132.4 440.1L133.1 440.3L133.8 440.6L134.5 440.9L135.2 441.3L135.9 441.7L136.6 442.1L137.3 442.6L138.0 443.1L138.7 443.7L139.4 444.3L140.1 445.0L140.8 445.7L141.5 446.5L142.2 447.4L142.9 448.3L143.6 449.4L144.3 450.5L145.0 451.7L145.7 453.0L146.4 454.4L147.1 455.8L147.8 457.4L148.5 459.1L149.2 460.9L149.9 462.9L150.6 464.9L151.3 467.1L152.0 469.4L152.7 471.8L153.4 474.4L154.1 477.1L154.8 479.9L155.5 482.9L156.2 486.0L156.9 489.2L157.6 492.6L158.3 496.1L159.0 499.7L159.7 503.5L160.4 507.4L161.1 511.5L161.8 515.6L162.5 519.9L163.2 524.3L163.9 528.8L164.6 533.4L165.3 538.1L166.0 542.8L166.7 547.7L167.4 552.6L168.1 557.5L168.8 562.5L169.5 567.5L170.2 572.6L170.9 577.6L171.6 582.7L172.3 587.7L173.0 592.6L173.7 597.6L174.4 602.5L175.1 607.3L175.8 612.0L176.5 616.6L177.2 621.1L177.9 625.5L178.6 629.7L179.3 633.8L180.0 637.8L180.7 641.6L181.4 645.1L182.1 648.5L182.8 651.8L183.5 654.8L184.2 657.6L184.9 660.1L185.6 662.5L186.3 664.6L187.0 666.6L187.7 668.2L188.4 669.7L189.1 670.9L189.8 672.0L190.5 672.8L191.2 673.4L191.9 673.8L192.6 674.0L193.3 674.1L194.0 674.0L194.7 673.8L195.4 673.4L196.1 672.8L196.8 672.0L197.5 671.0L198.2 669.8L198.9 668.3L199.6 666.6L200.3 664.7L201.0 662.6L201.7 660.2L202.4 657.7L203.1 654.9L203.8 651.9L204.5 648.7L205.2 645.3L205.9 641.7L206.6 638.0L207.3 634.0L208.0 630.0L208.7 625.7L209.4 621.4L210.1 616.9L210.8 612.3L211.5 607.6L212.2 602.8L212.9 598.0L213.6 593.1L214.3 588.1L215.0 583.1L215.7 578.1L216.4 573.1L217.1 568.1L217.8 563.1L218.5 558.2L219.2 553.2L219.9 548.4L220.6 543.6L221.3 538.9L222.0 534.2L222.7 529.7L223.4 525.2L224.1 520.9L224.8 516.6L225.5 512.5L226.2 508.5L226.9 504.6L227.6 500.9L228.3 497.2L229.0 493.8L229.7 490.4L230.4 487.2L231.1 484.2L231.8 481.2L232.5 478.4L233.2 475.8L233.9 473.2L234.6 470.8L235.3 468.6L236.0 466.4L236.7 464.4L237.4 462.5L238.1 460.7L238.8 459.1L239.5 457.5L240.2 456.1L240.9 454.7L241.6 453.4L242.3 452.2L243.0 451.2L243.7 450.2L244.4 449.2L245.1 448.4L245.8 447.6L246.5 446.9L247.2 446.2L247.9 445.6L248.6 445.0L249.3 444.5L250.0 444.1L250.7 443.6L251.4 443.3L252.1 442.9L252.8 442.6L253.5 442.3L254.2 442.1L254.9 441.9L255.6 441.7L256.3 441.5L257.0 441.4L257.7 441.2L258.4 441.1L259.1 441.0L259.8 440.9L260.5 440.8L261.2 440.8L261.9 440.7L262.6 440.7L263.3 440.7L264.0 440.6L264.7 440.6L265.4 440.6L266.1 440.7L266.8 440.7L267.5 440.7L268.2 440.7L268.9 440.8L269.6 440.8L270.3 440.9L271.0 440.9L271.7 441.0L272.4 441.1L273.1 441.2L273.8 441.2L274.5 441.3L275.2 441.4L275.9 441.4L276.6 441.5L277.3 441.6L278.0 441.6L278.7 441.7L279.4 441.7L280.1 441.8L280.8 441.8L281.5 441.8L282.2 441.8L282.9 441.8L283.6 441.8L284.3 441.8L285.0 441.7L285.7 441.7L286.4 441.6L287.1 441.5L287.8 441.4L288.5 441.3L289.2 441.2L289.9 441.1L290.6 441.0L291.3 440.9L292.0 440.8L292.7 440.7L293.4 440.5L294.1 440.4L294.8 440.3L295.5 440.2L296.2 440.0L296.9 439.9L297.6 439.8L298.3 439.7L299.0 439.6L299.7 439.5L300.4 439.4L301.1 439.3L301.8 439.2L302.5 439.1L303.2 439.0L303.9 438.9L304.6 438.8L305.3 438.7L306.0 438.6L306.7 438.5L307.4 438.4L308.1 438.3L308.8 438.3L309.5 438.2L310.2 438.1L310.9 438.0L311.6 437.9L312.3 437.9L313.0 437.8L313.7 437.7L314.4 437.7L315.1 437.6L315.8 437.5L316.5 437.5L317.2 437.4L317.9 437.4L318.6 437.3L319.3 437.2L320.0 437.2L320.7 437.1L321.4 437.1L322.1 437.0L322.8 437.0L323.5 437.0L324.2 436.9L324.9 436.9L325.6 436.9L326.3 436.8L327.0 436.8L327.7 436.8L328.4 436.7L329.1 436.7L329.8 436.7L330.5 436.7L331.2 436.7L331.9 436.7L332.6 436.6L333.3 436.6L334.0 436.6L334.7 436.6L335.4 436.6L336.1 436.6L336.8 436.6L337.5 436.6L338.2 436.6L338.9 436.6L339.6 436.6L340.3 436.6L341.0 436.6L341.7 436.6L342.4 436.6L343.1 436.6L343.8 436.6L344.5 436.6L345.2 436.6L345.9 436.6L346.6 436.6L347.3 436.6L348.0 436.6L348.7 436.6L349.4 436.6L350.1 436.6L350.8 436.6L351.5 436.6L352.2 436.6L352.9 436.6L353.6 436.6L354.3 436.6L355.0 436.6L355.7 436.6L356.4 436.6L357.1 436.6L357.8 436.6L358.5 436.7L359.2 436.7L359.9 436.7L360.6 436.7L361.3 436.7L362.0 436.8L362.7 436.8L363.4 436.8L364.1 436.9L364.8 436.9L365.5 437.0L366.2 437.0L366.9 437.1L367.6 437.1L368.3 437.2L369.0 437.3L369.7 437.4L370.4 437.5L371.1 437.6L371.8 437.7L372.5 437.8L373.2 438.0L373.9 438.1L374.6 438.3L375.3 438.5L376.0 438.7L376.7 438.9L377.4 439.1L378.1 439.3L378.8 439.5L379.5 439.8L380.2 440.0L380.9 440.3L381.6 440.6L382.3 440.9L383.0 441.2L383.7 441.5L384.4 441.9L385.1 442.2L385.8 442.5L386.5 442.9L387.2 443.3L387.9 443.6L388.6 444.0L389.3 444.3L390.0 444.7L390.7 445.0L391.4 445.4L392.1 445.7L392.8 446.1L393.5 446.4L394.2 446.7L394.9 447.0L395.6 447.3L396.3 447.5L397.0 447.8L397.7 448.0L398.4 448.2L399.1 448.3L399.8 448.5L400.5 448.6L401.2 448.7L401.9 448.8L402.6 448.8L403.3 448.8L404.0 448.8L404.7 448.7L405.4 448.6L406.1 448.5L406.8 448.4L407.5 448.2L408.2 448.0L408.9 447.8L409.6 447.6L410.3 447.3L411.0 447.0L411.7 446.7L412.4 446.4L413.1 446.1L413.8 445.8L414.5 445.4L415.2 445.1L415.9 444.7L416.6 444.4L417.3 444.0L418.0 443.7L418.7 443.3L419.4 442.9L420.1 442.6L420.8 442.3L421.5 441.9L422.2 441.6L422.9 441.3L423.6 440.9L424.3 440.6L425.0 440.4L425.7 440.1L426.4 439.8L427.1 439.6L427.8 439.3L428.5 439.1L429.2 438.9L429.9 438.7L430.6 438.5L431.3 438.3L432.0 438.2L432.7 438.0L433.4 437.9L434.1 437.7L434.8 437.6L435.5 437.5L436.2 437.4L436.9 437.3L437.6 437.3L438.3 437.2L439.0 437.1L439.7 437.1L440.4 437.0L441.1 437.0L441.8 436.9L442.5 436.9L443.2 436.9L443.9 436.9L444.6 436.9L445.3 436.9L446.0 436.9L446.7 436.9L447.4 436.9L448.1 436.9L448.8 436.9L449.5 437.0L450.2 437.0L450.9 437.1L451.6 437.1L452.3 437.2L453.0 437.3L453.7 437.4L454.4 437.5L455.1 437.7L455.8 437.8L456.5 438.0L457.2 438.2L457.9 438.4L458.6 438.6L459.3 438.9L460.0 439.2L460.7 439.5L461.4 439.9L462.1 440.3L462.8 440.8L463.5 441.3L464.2 441.8L464.9 442.4L465.6 443.1L466.3 443.8L467.0 444.6L467.7 445.4L468.4 446.3L469.1 447.3L469.8 448.4L470.5 449.6L471.2 450.8L471.9 452.1L472.6 453.6L473.3 455.1L474.0 456.7L474.7 458.5L475.4 460.3L476.1 462.2L476.8 464.3L477.5 466.4L478.2 468.7L478.9 471.0L479.6 473.5L480.3 476.1L481.0 478.7L481.7 481.5L482.4 484.4L483.1 487.3L483.8 490.3L484.5 493.4L485.2 496.6L485.9 499.8L486.6 503.1L487.3 506.4L488.0 509.8L488.7 513.1L489.4 516.5L490.1 519.8L490.8 523.2L491.5 526.5L492.2 529.7L492.9 532.9L493.6 536.1L494.3 539.1L495.0 542.0L495.7 544.8L496.4 547.5L497.1 550.0L497.8 552.4L498.5 554.6L499.2 556.6L499.9 558.4L500.6 560.0L501.3 561.4L502.0 562.6L502.7 563.6L503.4 564.3L504.1 564.8L504.8 565.1L505.5 565.1L506.2 564.9L506.9 564.4L507.6 563.7L508.3 562.8L509.0 561.7L509.7 560.3L510.4 558.7L511.1 556.9L511.8 554.9L512.5 552.8L513.2 550.4L513.9 547.9L514.6 545.3L515.3 542.5L516.0 539.6L516.7 536.6L517.4 533.5L518.1 530.3L518.8 527.1L519.5 523.8L520.2 520.5L520.9 517.1L521.6 513.8L522.3 510.4L523.0 507.1L523.7 503.8L524.4 500.5L525.1 497.3L525.8 494.1L526.5 491.0L527.2 488.0L527.9 485.0L528.6 482.2L529.3 479.4L530.0 476.7L530.7 474.2L531.4 471.7L532.1 469.3L532.8 467.1L533.5 464.9L534.2 462.9L534.9 460.9L535.6 459.1L536.3 457.4L537.0 455.7L537.7 454.2L538.4 452.8L539.1 451.4L539.8 450.2L540.5 449.0L541.2 447.9L541.9 446.9L542.6 446.0L543.3 445.2L544.0 444.4L544.7 443.7L545.4 443.0L546.1 442.4L546.8 441.9L547.5 441.4L548.2 440.9L548.9 440.5L549.6 440.1L550.3 439.8L551.0 439.5L551.7 439.2L552.4 439.0L553.1 438.8L553.8 438.6L554.5 438.4L555.2 438.3L555.9 438.1L556.6 438.0L557.3 437.9L558.0 437.8L558.7 437.7L559.4 437.7L560.1 437.6L560.8 437.6L561.5 437.5L562.2 437.5L562.9 437.4L563.6 437.4L564.3 437.4L565.0 437.4L565.7 437.3L566.4 437.3L567.1 437.3L567.8 437.3L568.5 437.3L569.2 437.3L569.9 437.3L570.6 437.3L571.3 437.3L572.0 437.3L572.7 437.3L573.4 437.3L574.1 437.3L574.8 437.3L575.5 437.3L576.2 437.3L576.9 437.3L577.6 437.3L578.3 437.3L579.0 437.3L579.7 437.3L580.4 437.3L581.1 437.3L581.8 437.3L582.5 437.3L583.2 437.3L583.9 437.3L584.6 437.3L585.3 437.3L586.0 437.3L586.7 437.3L587.4 437.3L588.1 437.3L588.8 437.3L589.5 437.3L590.2 437.3L590.9 437.3L591.6 437.3L592.3 437.3L593.0 437.3L593.7 437.3L594.4 437.3L595.1 437.3L595.8 437.3L596.5 437.3L597.2 437.3L597.9 437.3L598.6 437.3L599.3 437.3L600.0 437.3L600.7 437.3L601.4 437.3L602.1 437.3L602.8 437.3L603.5 437.3L604.2 437.3L604.9 437.3L605.6 437.3L606.3 437.3L607.0 437.3L607.7 437.3L608.4 437.3L609.1 437.3L609.8 437.3L610.5 437.3L611.2 437.3L611.9 437.3L612.6 437.3L613.3 437.3L614.0 437.3L614.7 437.3L615.4 437.3L616.1 437.3L616.8 437.3L617.5 437.3L618.2 437.3L618.9 437.3L619.6 437.3L620.3 437.3L621.0 437.3L621.7 437.3L622.4 437.3L623.1 437.3L623.8 437.3L624.5 437.3L625.2 437.3L625.9 437.3L626.6 437.3L627.3 437.3L628.0 437.3L628.7 437.3L629.4 437.3L630.1 437.3L630.8 437.3L631.5 437.3L632.2 437.4L632.9 437.4L633.6 437.4L634.3 437.4L635.0 437.5L635.7 437.5L636.4 437.5L637.1 437.6L637.8 437.6L638.5 437.7L639.2 437.7L639.9 437.8L640.6 437.9L641.3 438.0L642.0 438.1L642.7 438.2L643.4 438.3L644.1 438.4L644.8 438.6L645.5 438.7L646.2 438.9L646.9 439.1L647.6 439.4L648.3 439.6L649.0 439.9L649.7 440.2L650.4 440.6L651.1 440.9L651.8 441.3L652.5 441.8L653.2 442.2L653.9 442.7L654.6 443.3L655.3 443.9L656.0 444.5L656.7 445.2L657.4 446.0L658.1 446.7L658.8 447.6L659.5 448.5L660.2 449.4L660.9 450.4L661.6 451.4L662.3 452.5L663.0 453.7L663.7 454.9L664.4 456.2L665.1 457.5L665.8 458.8L666.5 460.2L667.2 461.7L667.9 463.2L668.6 464.7L669.3 466.3L670.0 467.9L670.7 469.5L671.4 471.1L672.1 472.8L672.8 474.4L673.5 476.1L674.2 477.8L674.9 479.4L675.6 481.0L676.3 482.7L677.0 484.2L677.7 485.8L678.4 487.3L679.1 488.7L679.8 490.1L680.5 491.4L681.2 492.6L681.9 493.8L682.6 494.9L683.3 495.8L684.0 496.7L684.7 497.5L685.4 498.2L686.1 498.7L686.8 499.2L687.5 499.5L688.2 499.7L688.9 499.8L689.6 499.8L690.3 499.6L691.0 499.4L691.7 499.0L692.4 498.5L693.1 497.9L693.8 497.2L694.5 496.3L695.2 495.4L695.9 494.4L696.6 493.3L697.3 492.1L698.0 490.9L698.7 489.6L699.4 488.2L700.1 486.8L700.8 485.3L701.5 483.8L702.2 482.2L702.9 480.7L703.6 479.1L704.3 477.5L705.0 475.9L705.7 474.3L706.4 472.7L707.1 471.1L707.8 469.6L708.5 468.1L709.2 466.6L709.9 465.1L710.6 463.7L711.3 462.3L712.0 461.0L712.7 459.7L713.4 458.5L714.1 457.3L714.8 456.1L715.5 455.0L716.2 454.0L716.9 453.0L717.6 452.1L718.3 451.2L719.0 450.4L719.7 449.6L720.4 448.9L721.1 448.2L721.8 447.6L722.5 447.0L723.2 446.5L723.9 445.9L724.6 445.5L725.3 445.0L726.0 444.6L726.7 444.3L727.4 443.9L728.1 443.6L728.8 443.3L729.5 443.1L730.2 442.8L730.9 442.6L731.6 442.4L732.3 442.2L733.0 442.0L733.7 441.9L734.4 441.7L735.1 441.6L735.8 441.5L736.5 441.3L737.2 441.2L737.9 441.1L738.6 441.0L739.3 440.9L740.0 440.8L740.7 440.7L741.4 440.6L742.1 440.5L742.8 440.4L743.5 440.3L744.2 440.2L744.9 440.1L745.6 440.0L746.3 440.0L747.0 439.9L747.7 439.8L748.4 439.7L749.1 439.6L749.8 439.6L750.5 439.5L751.2 439.4L751.9 439.4L752.6 439.3L753.3 439.3L754.0 439.2L754.7 439.2" fill="none" stroke="#ff0000" stroke-width="2.4" stroke-linejoin="round"/>
<path d="M86.90 435.06H755.30" stroke="#000" stroke-width="2.4"/>
</g>
<path d="M163.29 711.75v-11.80M163.29 419.90v11.80M277.87 711.75v-11.80M277.87 419.90v11.80M392.45 711.75v-11.80M392.45 419.90v11.80M507.04 711.75v-11.80M507.04 419.90v11.80M621.62 711.75v-11.80M621.62 419.90v11.80M736.20 711.75v-11.80M736.20 419.90v11.80M86.90 681.03h11.80M755.30 681.03h-11.80M86.90 619.59h11.80M755.30 619.59h-11.80M86.90 558.14h11.80M755.30 558.14h-11.80M86.90 496.70h11.80M755.30 496.70h-11.80M86.90 435.26h11.80M755.30 435.26h-11.80" fill="none" stroke="#000" stroke-width="1.25"/>
<rect x="86.90" y="419.90" width="668.40" height="291.85" fill="none" stroke="#000" stroke-width="1.5"/>
<text x="160.59" y="740.35" text-anchor="middle">3787.8</text>
<text x="275.17" y="740.35" text-anchor="middle">3788.1</text>
<text x="389.75" y="740.35" text-anchor="middle">3788.4</text>
<text x="504.34" y="740.35" text-anchor="middle">3788.7</text>
<text x="621.62" y="740.35" text-anchor="middle">3789</text>
<text x="733.50" y="740.35" text-anchor="middle">3789.3</text>
<text x="71.70" y="689.73" text-anchor="end">0.2</text>
<text x="71.70" y="628.29" text-anchor="end">0.4</text>
<text x="71.70" y="566.84" text-anchor="end">0.6</text>
<text x="71.70" y="505.40" text-anchor="end">0.8</text>
<text x="71.70" y="443.96" text-anchor="end">1.0</text>
<text x="422.30" y="767.25" text-anchor="middle" style="font-size:17.8px">Lambda</text>
<path transform="translate(32.40 631.02) rotate(-90)" d="M5.30 -11.13 L1.59 0.00 M5.30 -11.13 L9.01 0.00 M5.30 -9.54 L8.48 0.00 M2.65 -3.18 L7.42 -3.18 M0.53 0.00 L3.71 0.00 M6.89 0.00 L10.07 0.00 M13.25 -7.42 L13.25 0.00 M13.78 -7.42 L13.78 0.00 M13.78 -4.24 L14.31 -5.83 L15.37 -6.89 L16.43 -7.42 L18.02 -7.42 L18.55 -6.89 L18.55 -6.36 L18.02 -5.83 L17.49 -6.36 L18.02 -6.89 M11.66 -7.42 L13.78 -7.42 M11.66 0.00 L15.37 0.00 M22.26 -11.13 L22.26 0.00 M22.79 -11.13 L22.79 0.00 M22.79 -5.83 L23.85 -6.89 L24.91 -7.42 L25.97 -7.42 L27.56 -6.89 L28.62 -5.83 L29.15 -4.24 L29.15 -3.18 L28.62 -1.59 L27.56 -0.53 L25.97 0.00 L24.91 0.00 L23.85 -0.53 L22.79 -1.59 M25.97 -7.42 L27.03 -6.89 L28.09 -5.83 L28.62 -4.24 L28.62 -3.18 L28.09 -1.59 L27.03 -0.53 L25.97 0.00 M20.67 -11.13 L22.79 -11.13 M33.39 -11.13 L32.86 -10.60 L33.39 -10.07 L33.92 -10.60 L33.39 -11.13 M33.39 -7.42 L33.39 0.00 M33.92 -7.42 L33.92 0.00 M31.80 -7.42 L33.92 -7.42 M31.80 0.00 L35.51 0.00 M39.22 -11.13 L39.22 -2.12 L39.75 -0.53 L40.81 0.00 L41.87 0.00 L42.93 -0.53 L43.46 -1.59 M39.75 -11.13 L39.75 -2.12 L40.28 -0.53 L40.81 0.00 M37.63 -7.42 L41.87 -7.42 M47.17 -7.42 L47.17 0.00 M47.70 -7.42 L47.70 0.00 M47.70 -4.24 L48.23 -5.83 L49.29 -6.89 L50.35 -7.42 L51.94 -7.42 L52.47 -6.89 L52.47 -6.36 L51.94 -5.83 L51.41 -6.36 L51.94 -6.89 M45.58 -7.42 L47.70 -7.42 M45.58 0.00 L49.29 0.00 M56.18 -6.36 L56.18 -5.83 L55.65 -5.83 L55.65 -6.36 L56.18 -6.89 L57.24 -7.42 L59.36 -7.42 L60.42 -6.89 L60.95 -6.36 L61.48 -5.30 L61.48 -1.59 L62.01 -0.53 L62.54 0.00 M60.95 -6.36 L60.95 -1.59 L61.48 -0.53 L62.54 0.00 L63.07 0.00 M60.95 -5.30 L60.42 -4.77 L57.24 -4.24 L55.65 -3.71 L55.12 -2.65 L55.12 -1.59 L55.65 -0.53 L57.24 0.00 L58.83 0.00 L59.89 -0.53 L60.95 -1.59 M57.24 -4.24 L56.18 -3.71 L55.65 -2.65 L55.65 -1.59 L56.18 -0.53 L57.24 0.00 M66.78 -7.42 L66.78 0.00 M67.31 -7.42 L67.31 0.00 M67.31 -4.24 L67.84 -5.83 L68.90 -6.89 L69.96 -7.42 L71.55 -7.42 L72.08 -6.89 L72.08 -6.36 L71.55 -5.83 L71.02 -6.36 L71.55 -6.89 M65.19 -7.42 L67.31 -7.42 M65.19 0.00 L68.90 0.00 M75.26 -7.42 L78.44 0.00 M75.79 -7.42 L78.44 -1.06 M81.62 -7.42 L78.44 0.00 L77.38 2.12 L76.32 3.18 L75.26 3.71 L74.73 3.71 L74.20 3.18 L74.73 2.65 L75.26 3.18 M74.20 -7.42 L77.38 -7.42 M79.50 -7.42 L82.68 -7.42 M94.34 -11.13 L94.34 0.00 M94.87 -11.13 L94.87 0.00 M98.05 -7.95 L98.05 -3.71 M92.75 -11.13 L101.23 -11.13 L101.23 -7.95 L100.70 -11.13 M94.87 -5.83 L98.05 -5.83 M92.75 0.00 L96.46 0.00 M104.94 -11.13 L104.94 0.00 M105.47 -11.13 L105.47 0.00 M103.35 -11.13 L105.47 -11.13 M103.35 0.00 L107.06 0.00 M110.77 -7.42 L110.77 -1.59 L111.30 -0.53 L112.89 0.00 L113.95 0.00 L115.54 -0.53 L116.60 -1.59 M111.30 -7.42 L111.30 -1.59 L111.83 -0.53 L112.89 0.00 M116.60 -7.42 L116.60 0.00 M117.13 -7.42 L117.13 0.00 M109.18 -7.42 L111.30 -7.42 M115.01 -7.42 L117.13 -7.42 M116.60 0.00 L118.72 0.00 M121.90 -7.42 L127.73 0.00 M122.43 -7.42 L128.26 0.00 M128.26 -7.42 L121.90 0.00 M120.84 -7.42 L124.02 -7.42 M126.14 -7.42 L129.32 -7.42 M120.84 0.00 L124.02 0.00 M126.14 0.00 L129.32 0.00" fill="none" stroke="#000" stroke-width="1.0" stroke-linecap="round" stroke-linejoin="round"/>
<path transform="translate(259.00 592.30)" d="M2.94 -12.36 L2.94 0.00 M3.53 -12.36 L3.53 0.00 M10.60 -12.36 L10.60 0.00 M11.19 -12.36 L11.19 0.00 M1.18 -12.36 L5.30 -12.36 M8.83 -12.36 L12.95 -12.36 M3.53 -6.48 L10.60 -6.48 M1.18 0.00 L5.30 0.00 M8.83 0.00 L12.95 0.00 M17.08 -12.36 L17.08 0.00 M17.66 -12.36 L17.66 0.00 M21.20 -8.83 L21.20 -4.12 M15.31 -12.36 L24.73 -12.36 L24.73 -8.83 L24.14 -12.36 M17.66 -6.48 L21.20 -6.48 M15.31 0.00 L24.73 0.00 L24.73 -3.53 L24.14 0.00 M38.27 -10.01 L38.86 -9.42 L38.27 -8.83 L37.68 -9.42 L37.68 -10.01 L38.27 -11.19 L38.86 -11.78 L40.63 -12.36 L42.98 -12.36 L44.75 -11.78 L45.34 -11.19 L45.93 -10.01 L45.93 -8.83 L45.34 -7.65 L43.57 -6.48 L40.63 -5.30 L39.45 -4.71 L38.27 -3.53 L37.68 -1.77 L37.68 0.00 M42.98 -12.36 L44.16 -11.78 L44.75 -11.19 L45.34 -10.01 L45.34 -8.83 L44.75 -7.65 L42.98 -6.48 L40.63 -5.30 M37.68 -1.18 L38.27 -1.77 L39.45 -1.77 L42.39 -0.59 L44.16 -0.59 L45.34 -1.18 L45.93 -1.77 M39.45 -1.77 L42.39 0.00 L44.75 0.00 L45.34 -0.59 L45.93 -1.77 L45.93 -2.94 M50.05 -10.01 L50.64 -9.42 L50.05 -8.83 L49.46 -9.42 L49.46 -10.01 L50.05 -11.19 L50.64 -11.78 L52.40 -12.36 L54.76 -12.36 L56.52 -11.78 L57.11 -11.19 L57.70 -10.01 L57.70 -8.83 L57.11 -7.65 L55.35 -6.48 L52.40 -5.30 L51.23 -4.71 L50.05 -3.53 L49.46 -1.77 L49.46 0.00 M54.76 -12.36 L55.94 -11.78 L56.52 -11.19 L57.11 -10.01 L57.11 -8.83 L56.52 -7.65 L54.76 -6.48 L52.40 -5.30 M49.46 -1.18 L50.05 -1.77 L51.23 -1.77 L54.17 -0.59 L55.94 -0.59 L57.11 -1.18 L57.70 -1.77 M51.23 -1.77 L54.17 0.00 L56.52 0.00 L57.11 -0.59 L57.70 -1.77 L57.70 -2.94 M61.82 -10.01 L62.41 -9.42 L61.82 -8.83 L61.24 -9.42 L61.24 -10.01 L61.82 -11.19 L62.41 -11.78 L64.18 -12.36 L66.53 -12.36 L68.30 -11.78 L68.89 -11.19 L69.48 -10.01 L69.48 -8.83 L68.89 -7.65 L67.12 -6.48 L64.18 -5.30 L63.00 -4.71 L61.82 -3.53 L61.24 -1.77 L61.24 0.00 M66.53 -12.36 L67.71 -11.78 L68.30 -11.19 L68.89 -10.01 L68.89 -8.83 L68.30 -7.65 L66.53 -6.48 L64.18 -5.30 M61.24 -1.18 L61.82 -1.77 L63.00 -1.77 L65.95 -0.59 L67.71 -0.59 L68.89 -1.18 L69.48 -1.77 M63.00 -1.77 L65.95 0.00 L68.30 0.00 L68.89 -0.59 L69.48 -1.77 L69.48 -2.94 M80.67 -8.24 L80.08 -6.48 L78.90 -5.30 L77.13 -4.71 L76.54 -4.71 L74.78 -5.30 L73.60 -6.48 L73.01 -8.24 L73.01 -8.83 L73.60 -10.60 L74.78 -11.78 L76.54 -12.36 L77.72 -12.36 L79.49 -11.78 L80.67 -10.60 L81.25 -8.83 L81.25 -5.30 L80.67 -2.94 L80.08 -1.77 L78.90 -0.59 L77.13 0.00 L75.37 0.00 L74.19 -0.59 L73.60 -1.77 L73.60 -2.36 L74.19 -2.94 L74.78 -2.36 L74.19 -1.77 M76.54 -4.71 L75.37 -5.30 L74.19 -6.48 L73.60 -8.24 L73.60 -8.83 L74.19 -10.60 L75.37 -11.78 L76.54 -12.36 M77.72 -12.36 L78.90 -11.78 L80.08 -10.60 L80.67 -8.83 L80.67 -5.30 L80.08 -2.94 L79.49 -1.77 L78.31 -0.59 L77.13 0.00 M85.38 -5.30 L95.97 -5.30 M105.40 -11.19 L105.40 0.00 M105.98 -12.36 L105.98 0.00 M105.98 -12.36 L99.51 -3.53 L108.93 -3.53 M103.63 0.00 L107.75 0.00 M113.64 -10.01 L114.82 -10.60 L116.58 -12.36 L116.58 0.00 M115.99 -11.78 L115.99 0.00 M113.64 0.00 L118.94 0.00 M124.83 -12.36 L123.65 -6.48 M123.65 -6.48 L124.83 -7.65 L126.59 -8.24 L128.36 -8.24 L130.12 -7.65 L131.30 -6.48 L131.89 -4.71 L131.89 -3.53 L131.30 -1.77 L130.12 -0.59 L128.36 0.00 L126.59 0.00 L124.83 -0.59 L124.24 -1.18 L123.65 -2.36 L123.65 -2.94 L124.24 -3.53 L124.83 -2.94 L124.24 -2.36 M128.36 -8.24 L129.54 -7.65 L130.71 -6.48 L131.30 -4.71 L131.30 -3.53 L130.71 -1.77 L129.54 -0.59 L128.36 0.00 M124.83 -12.36 L130.71 -12.36 M124.83 -11.78 L127.77 -11.78 L130.71 -12.36 M136.01 -10.01 L136.60 -9.42 L136.01 -8.83 L135.42 -9.42 L135.42 -10.01 L136.01 -11.19 L136.60 -11.78 L138.37 -12.36 L140.72 -12.36 L142.49 -11.78 L143.08 -10.60 L143.08 -8.83 L142.49 -7.65 L140.72 -7.07 L138.96 -7.07 M140.72 -12.36 L141.90 -11.78 L142.49 -10.60 L142.49 -8.83 L141.90 -7.65 L140.72 -7.07 M140.72 -7.07 L141.90 -6.48 L143.08 -5.30 L143.67 -4.12 L143.67 -2.36 L143.08 -1.18 L142.49 -0.59 L140.72 0.00 L138.37 0.00 L136.60 -0.59 L136.01 -1.18 L135.42 -2.36 L135.42 -2.94 L136.01 -3.53 L136.60 -2.94 L136.01 -2.36 M142.49 -5.89 L143.08 -4.12 L143.08 -2.36 L142.49 -1.18 L141.90 -0.59 L140.72 0.00" fill="none" stroke="#000" stroke-width="1.1" stroke-linecap="round" stroke-linejoin="round"/>
<path transform="translate(259.00 617.00)" d="M1.77 -12.36 L5.89 -5.89 L5.89 0.00 M2.36 -12.36 L6.48 -5.89 L6.48 0.00 M10.60 -12.36 L6.48 -5.89 M0.59 -12.36 L4.12 -12.36 M8.24 -12.36 L11.78 -12.36 M4.12 0.00 L8.24 0.00 M24.73 -12.36 L24.73 0.00 M25.32 -12.36 L25.32 0.00 M22.96 -12.36 L27.08 -12.36 M22.96 0.00 L27.08 0.00 M31.21 -12.36 L31.21 0.00 M31.80 -12.36 L31.80 0.00 M29.44 -12.36 L33.56 -12.36 M29.44 0.00 L33.56 0.00 M46.52 -10.01 L47.10 -9.42 L46.52 -8.83 L45.93 -9.42 L45.93 -10.01 L46.52 -11.19 L47.10 -11.78 L48.87 -12.36 L51.23 -12.36 L52.99 -11.78 L53.58 -10.60 L53.58 -8.83 L52.99 -7.65 L51.23 -7.07 L49.46 -7.07 M51.23 -12.36 L52.40 -11.78 L52.99 -10.60 L52.99 -8.83 L52.40 -7.65 L51.23 -7.07 M51.23 -7.07 L52.40 -6.48 L53.58 -5.30 L54.17 -4.12 L54.17 -2.36 L53.58 -1.18 L52.99 -0.59 L51.23 0.00 L48.87 0.00 L47.10 -0.59 L46.52 -1.18 L45.93 -2.36 L45.93 -2.94 L46.52 -3.53 L47.10 -2.94 L46.52 -2.36 M52.99 -5.89 L53.58 -4.12 L53.58 -2.36 L52.99 -1.18 L52.40 -0.59 L51.23 0.00 M57.70 -12.36 L57.70 -8.83 M57.70 -10.01 L58.29 -11.19 L59.47 -12.36 L60.65 -12.36 L63.59 -10.60 L64.77 -10.60 L65.36 -11.19 L65.95 -12.36 M58.29 -11.19 L59.47 -11.78 L60.65 -11.78 L63.59 -10.60 M65.95 -12.36 L65.95 -10.60 L65.36 -8.83 L63.00 -5.89 L62.41 -4.71 L61.82 -2.94 L61.82 0.00 M65.36 -8.83 L62.41 -5.89 L61.82 -4.71 L61.24 -2.94 L61.24 0.00 M72.42 -12.36 L70.66 -11.78 L70.07 -10.60 L70.07 -8.83 L70.66 -7.65 L72.42 -7.07 L74.78 -7.07 L76.54 -7.65 L77.13 -8.83 L77.13 -10.60 L76.54 -11.78 L74.78 -12.36 L72.42 -12.36 M72.42 -12.36 L71.24 -11.78 L70.66 -10.60 L70.66 -8.83 L71.24 -7.65 L72.42 -7.07 M74.78 -7.07 L75.96 -7.65 L76.54 -8.83 L76.54 -10.60 L75.96 -11.78 L74.78 -12.36 M72.42 -7.07 L70.66 -6.48 L70.07 -5.89 L69.48 -4.71 L69.48 -2.36 L70.07 -1.18 L70.66 -0.59 L72.42 0.00 L74.78 0.00 L76.54 -0.59 L77.13 -1.18 L77.72 -2.36 L77.72 -4.71 L77.13 -5.89 L76.54 -6.48 L74.78 -7.07 M72.42 -7.07 L71.24 -6.48 L70.66 -5.89 L70.07 -4.71 L70.07 -2.36 L70.66 -1.18 L71.24 -0.59 L72.42 0.00 M74.78 0.00 L75.96 -0.59 L76.54 -1.18 L77.13 -2.36 L77.13 -4.71 L76.54 -5.89 L75.96 -6.48 L74.78 -7.07 M84.20 -12.36 L82.43 -11.78 L81.84 -10.60 L81.84 -8.83 L82.43 -7.65 L84.20 -7.07 L86.55 -7.07 L88.32 -7.65 L88.91 -8.83 L88.91 -10.60 L88.32 -11.78 L86.55 -12.36 L84.20 -12.36 M84.20 -12.36 L83.02 -11.78 L82.43 -10.60 L82.43 -8.83 L83.02 -7.65 L84.20 -7.07 M86.55 -7.07 L87.73 -7.65 L88.32 -8.83 L88.32 -10.60 L87.73 -11.78 L86.55 -12.36 M84.20 -7.07 L82.43 -6.48 L81.84 -5.89 L81.25 -4.71 L81.25 -2.36 L81.84 -1.18 L82.43 -0.59 L84.20 0.00 L86.55 0.00 L88.32 -0.59 L88.91 -1.18 L89.50 -2.36 L89.50 -4.71 L88.91 -5.89 L88.32 -6.48 L86.55 -7.07 M84.20 -7.07 L83.02 -6.48 L82.43 -5.89 L81.84 -4.71 L81.84 -2.36 L82.43 -1.18 L83.02 -0.59 L84.20 0.00 M86.55 0.00 L87.73 -0.59 L88.32 -1.18 L88.91 -2.36 L88.91 -4.71 L88.32 -5.89 L87.73 -6.48 L86.55 -7.07 M94.21 -1.18 L93.62 -0.59 L94.21 0.00 L94.80 -0.59 L94.21 -1.18 M105.98 -10.60 L105.40 -10.01 L105.98 -9.42 L106.57 -10.01 L106.57 -10.60 L105.98 -11.78 L104.81 -12.36 L103.04 -12.36 L101.27 -11.78 L100.10 -10.60 L99.51 -9.42 L98.92 -7.07 L98.92 -3.53 L99.51 -1.77 L100.68 -0.59 L102.45 0.00 L103.63 0.00 L105.40 -0.59 L106.57 -1.77 L107.16 -3.53 L107.16 -4.12 L106.57 -5.89 L105.40 -7.07 L103.63 -7.65 L103.04 -7.65 L101.27 -7.07 L100.10 -5.89 L99.51 -4.12 M103.04 -12.36 L101.86 -11.78 L100.68 -10.60 L100.10 -9.42 L99.51 -7.07 L99.51 -3.53 L100.10 -1.77 L101.27 -0.59 L102.45 0.00 M103.63 0.00 L104.81 -0.59 L105.98 -1.77 L106.57 -3.53 L106.57 -4.12 L105.98 -5.89 L104.81 -7.07 L103.63 -7.65 M118.35 -8.24 L117.76 -6.48 L116.58 -5.30 L114.82 -4.71 L114.23 -4.71 L112.46 -5.30 L111.28 -6.48 L110.69 -8.24 L110.69 -8.83 L111.28 -10.60 L112.46 -11.78 L114.23 -12.36 L115.40 -12.36 L117.17 -11.78 L118.35 -10.60 L118.94 -8.83 L118.94 -5.30 L118.35 -2.94 L117.76 -1.77 L116.58 -0.59 L114.82 0.00 L113.05 0.00 L111.87 -0.59 L111.28 -1.77 L111.28 -2.36 L111.87 -2.94 L112.46 -2.36 L111.87 -1.77 M114.23 -4.71 L113.05 -5.30 L111.87 -6.48 L111.28 -8.24 L111.28 -8.83 L111.87 -10.60 L113.05 -11.78 L114.23 -12.36 M115.40 -12.36 L116.58 -11.78 L117.76 -10.60 L118.35 -8.83 L118.35 -5.30 L117.76 -2.94 L117.17 -1.77 L115.99 -0.59 L114.82 0.00 M136.01 -12.36 L131.89 0.00 M136.01 -12.36 L140.13 0.00 M136.01 -10.60 L139.55 0.00 M133.07 -3.53 L138.37 -3.53 M130.71 0.00 L134.25 0.00 M137.78 0.00 L141.31 0.00" fill="none" stroke="#000" stroke-width="1.1" stroke-linecap="round" stroke-linejoin="round"/>
<path transform="translate(259.00 641.70)" d="M5.89 -12.36 L1.77 0.00 M5.89 -12.36 L10.01 0.00 M5.89 -10.60 L9.42 0.00 M2.94 -3.53 L8.24 -3.53 M0.59 0.00 L4.12 0.00 M7.65 0.00 L11.19 0.00 M18.25 -14.72 L17.08 -13.54 L15.90 -11.78 L14.72 -9.42 L14.13 -6.48 L14.13 -4.12 L14.72 -1.18 L15.90 1.18 L17.08 2.94 L18.25 4.12 M17.08 -13.54 L15.90 -11.19 L15.31 -9.42 L14.72 -6.48 L14.72 -4.12 L15.31 -1.18 L15.90 0.59 L17.08 2.94 M21.79 -12.36 L25.91 -5.89 L25.91 0.00 M22.37 -12.36 L26.50 -5.89 L26.50 0.00 M30.62 -12.36 L26.50 -5.89 M20.61 -12.36 L24.14 -12.36 M28.26 -12.36 L31.80 -12.36 M24.14 0.00 L28.26 0.00 M34.15 -14.72 L35.33 -13.54 L36.51 -11.78 L37.68 -9.42 L38.27 -6.48 L38.27 -4.12 L37.68 -1.18 L36.51 1.18 L35.33 2.94 L34.15 4.12 M35.33 -13.54 L36.51 -11.19 L37.09 -9.42 L37.68 -6.48 L37.68 -4.12 L37.09 -1.18 L36.51 0.59 L35.33 2.94 M52.40 -7.07 L63.00 -7.07 M52.40 -3.53 L63.00 -3.53 M77.13 -5.30 L87.73 -5.30 M95.39 -12.36 L93.62 -11.78 L92.44 -10.01 L91.85 -7.07 L91.85 -5.30 L92.44 -2.36 L93.62 -0.59 L95.39 0.00 L96.56 0.00 L98.33 -0.59 L99.51 -2.36 L100.10 -5.30 L100.10 -7.07 L99.51 -10.01 L98.33 -11.78 L96.56 -12.36 L95.39 -12.36 M95.39 -12.36 L94.21 -11.78 L93.62 -11.19 L93.03 -10.01 L92.44 -7.07 L92.44 -5.30 L93.03 -2.36 L93.62 -1.18 L94.21 -0.59 L95.39 0.00 M96.56 0.00 L97.74 -0.59 L98.33 -1.18 L98.92 -2.36 L99.51 -5.30 L99.51 -7.07 L98.92 -10.01 L98.33 -11.19 L97.74 -11.78 L96.56 -12.36 M104.81 -1.18 L104.22 -0.59 L104.81 0.00 L105.40 -0.59 L104.81 -1.18 M110.69 -12.36 L109.52 -6.48 M109.52 -6.48 L110.69 -7.65 L112.46 -8.24 L114.23 -8.24 L115.99 -7.65 L117.17 -6.48 L117.76 -4.71 L117.76 -3.53 L117.17 -1.77 L115.99 -0.59 L114.23 0.00 L112.46 0.00 L110.69 -0.59 L110.11 -1.18 L109.52 -2.36 L109.52 -2.94 L110.11 -3.53 L110.69 -2.94 L110.11 -2.36 M114.23 -8.24 L115.40 -7.65 L116.58 -6.48 L117.17 -4.71 L117.17 -3.53 L116.58 -1.77 L115.40 -0.59 L114.23 0.00 M110.69 -12.36 L116.58 -12.36 M110.69 -11.78 L113.64 -11.78 L116.58 -12.36 M126.59 -11.19 L126.59 0.00 M127.18 -12.36 L127.18 0.00 M127.18 -12.36 L120.70 -3.53 L130.12 -3.53 M124.83 0.00 L128.95 0.00" fill="none" stroke="#ff0000" stroke-width="1.1" stroke-linecap="round" stroke-linejoin="round"/>
<path transform="translate(259.00 666.40)" d="M5.89 -12.36 L1.77 0.00 M5.89 -12.36 L10.01 0.00 M5.89 -10.60 L9.42 0.00 M2.94 -3.53 L8.24 -3.53 M0.59 0.00 L4.12 0.00 M7.65 0.00 L11.19 0.00 M18.25 -14.72 L17.08 -13.54 L15.90 -11.78 L14.72 -9.42 L14.13 -6.48 L14.13 -4.12 L14.72 -1.18 L15.90 1.18 L17.08 2.94 L18.25 4.12 M17.08 -13.54 L15.90 -11.19 L15.31 -9.42 L14.72 -6.48 L14.72 -4.12 L15.31 -1.18 L15.90 0.59 L17.08 2.94 M21.79 -12.36 L25.91 -5.89 L25.91 0.00 M22.37 -12.36 L26.50 -5.89 L26.50 0.00 M30.62 -12.36 L26.50 -5.89 M20.61 -12.36 L24.14 -12.36 M28.26 -12.36 L31.80 -12.36 M24.14 0.00 L28.26 0.00 M34.15 -14.72 L35.33 -13.54 L36.51 -11.78 L37.68 -9.42 L38.27 -6.48 L38.27 -4.12 L37.68 -1.18 L36.51 1.18 L35.33 2.94 L34.15 4.12 M35.33 -13.54 L36.51 -11.19 L37.09 -9.42 L37.68 -6.48 L37.68 -4.12 L37.09 -1.18 L36.51 0.59 L35.33 2.94 M52.40 -7.07 L63.00 -7.07 M52.40 -3.53 L63.00 -3.53 M80.08 -12.36 L78.31 -11.78 L77.13 -10.01 L76.54 -7.07 L76.54 -5.30 L77.13 -2.36 L78.31 -0.59 L80.08 0.00 L81.25 0.00 L83.02 -0.59 L84.20 -2.36 L84.79 -5.30 L84.79 -7.07 L84.20 -10.01 L83.02 -11.78 L81.25 -12.36 L80.08 -12.36 M80.08 -12.36 L78.90 -11.78 L78.31 -11.19 L77.72 -10.01 L77.13 -7.07 L77.13 -5.30 L77.72 -2.36 L78.31 -1.18 L78.90 -0.59 L80.08 0.00 M81.25 0.00 L82.43 -0.59 L83.02 -1.18 L83.61 -2.36 L84.20 -5.30 L84.20 -7.07 L83.61 -10.01 L83.02 -11.19 L82.43 -11.78 L81.25 -12.36 M89.50 -1.18 L88.91 -0.59 L89.50 0.00 L90.09 -0.59 L89.50 -1.18 M97.74 -12.36 L95.97 -11.78 L94.80 -10.01 L94.21 -7.07 L94.21 -5.30 L94.80 -2.36 L95.97 -0.59 L97.74 0.00 L98.92 0.00 L100.68 -0.59 L101.86 -2.36 L102.45 -5.30 L102.45 -7.07 L101.86 -10.01 L100.68 -11.78 L98.92 -12.36 L97.74 -12.36 M97.74 -12.36 L96.56 -11.78 L95.97 -11.19 L95.39 -10.01 L94.80 -7.07 L94.80 -5.30 L95.39 -2.36 L95.97 -1.18 L96.56 -0.59 L97.74 0.00 M98.92 0.00 L100.10 -0.59 L100.68 -1.18 L101.27 -2.36 L101.86 -5.30 L101.86 -7.07 L101.27 -10.01 L100.68 -11.19 L100.10 -11.78 L98.92 -12.36 M109.52 -12.36 L107.75 -11.78 L106.57 -10.01 L105.98 -7.07 L105.98 -5.30 L106.57 -2.36 L107.75 -0.59 L109.52 0.00 L110.69 0.00 L112.46 -0.59 L113.64 -2.36 L114.23 -5.30 L114.23 -7.07 L113.64 -10.01 L112.46 -11.78 L110.69 -12.36 L109.52 -12.36 M109.52 -12.36 L108.34 -11.78 L107.75 -11.19 L107.16 -10.01 L106.57 -7.07 L106.57 -5.30 L107.16 -2.36 L107.75 -1.18 L108.34 -0.59 L109.52 0.00 M110.69 0.00 L111.87 -0.59 L112.46 -1.18 L113.05 -2.36 L113.64 -5.30 L113.64 -7.07 L113.05 -10.01 L112.46 -11.19 L111.87 -11.78 L110.69 -12.36 M118.94 0.00 L118.35 -0.59 L118.94 -1.18 L119.53 -0.59 L119.53 0.59 L118.94 1.77 L118.35 2.36 M124.24 -5.30 L134.84 -5.30 M142.49 -12.36 L140.72 -11.78 L139.55 -10.01 L138.96 -7.07 L138.96 -5.30 L139.55 -2.36 L140.72 -0.59 L142.49 0.00 L143.67 0.00 L145.43 -0.59 L146.61 -2.36 L147.20 -5.30 L147.20 -7.07 L146.61 -10.01 L145.43 -11.78 L143.67 -12.36 L142.49 -12.36 M142.49 -12.36 L141.31 -11.78 L140.72 -11.19 L140.13 -10.01 L139.55 -7.07 L139.55 -5.30 L140.13 -2.36 L140.72 -1.18 L141.31 -0.59 L142.49 0.00 M143.67 0.00 L144.84 -0.59 L145.43 -1.18 L146.02 -2.36 L146.61 -5.30 L146.61 -7.07 L146.02 -10.01 L145.43 -11.19 L144.84 -11.78 L143.67 -12.36 M151.91 -1.18 L151.32 -0.59 L151.91 0.00 L152.50 -0.59 L151.91 -1.18 M157.80 -12.36 L156.62 -6.48 M156.62 -6.48 L157.80 -7.65 L159.56 -8.24 L161.33 -8.24 L163.10 -7.65 L164.28 -6.48 L164.86 -4.71 L164.86 -3.53 L164.28 -1.77 L163.10 -0.59 L161.33 0.00 L159.56 0.00 L157.80 -0.59 L157.21 -1.18 L156.62 -2.36 L156.62 -2.94 L157.21 -3.53 L157.80 -2.94 L157.21 -2.36 M161.33 -8.24 L162.51 -7.65 L163.69 -6.48 L164.28 -4.71 L164.28 -3.53 L163.69 -1.77 L162.51 -0.59 L161.33 0.00 M157.80 -12.36 L163.69 -12.36 M157.80 -11.78 L160.74 -11.78 L163.69 -12.36 M171.93 -12.36 L170.16 -11.78 L168.99 -10.01 L168.40 -7.07 L168.40 -5.30 L168.99 -2.36 L170.16 -0.59 L171.93 0.00 L173.11 0.00 L174.87 -0.59 L176.05 -2.36 L176.64 -5.30 L176.64 -7.07 L176.05 -10.01 L174.87 -11.78 L173.11 -12.36 L171.93 -12.36 M171.93 -12.36 L170.75 -11.78 L170.16 -11.19 L169.57 -10.01 L168.99 -7.07 L168.99 -5.30 L169.57 -2.36 L170.16 -1.18 L170.75 -0.59 L171.93 0.00 M173.11 0.00 L174.28 -0.59 L174.87 -1.18 L175.46 -2.36 L176.05 -5.30 L176.05 -7.07 L175.46 -10.01 L174.87 -11.19 L174.28 -11.78 L173.11 -12.36 M181.35 0.00 L180.76 -0.59 L181.35 -1.18 L181.94 -0.59 L181.94 0.59 L181.35 1.77 L180.76 2.36 M186.65 -5.30 L197.25 -5.30 M203.14 -10.01 L204.31 -10.60 L206.08 -12.36 L206.08 0.00 M205.49 -11.78 L205.49 0.00 M203.14 0.00 L208.44 0.00 M214.32 -1.18 L213.73 -0.59 L214.32 0.00 L214.91 -0.59 L214.32 -1.18 M222.57 -12.36 L220.80 -11.78 L219.62 -10.01 L219.03 -7.07 L219.03 -5.30 L219.62 -2.36 L220.80 -0.59 L222.57 0.00 L223.74 0.00 L225.51 -0.59 L226.69 -2.36 L227.28 -5.30 L227.28 -7.07 L226.69 -10.01 L225.51 -11.78 L223.74 -12.36 L222.57 -12.36 M222.57 -12.36 L221.39 -11.78 L220.80 -11.19 L220.21 -10.01 L219.62 -7.07 L219.62 -5.30 L220.21 -2.36 L220.80 -1.18 L221.39 -0.59 L222.57 0.00 M223.74 0.00 L224.92 -0.59 L225.51 -1.18 L226.10 -2.36 L226.69 -5.30 L226.69 -7.07 L226.10 -10.01 L225.51 -11.19 L224.92 -11.78 L223.74 -12.36 M234.34 -12.36 L232.58 -11.78 L231.40 -10.01 L230.81 -7.07 L230.81 -5.30 L231.40 -2.36 L232.58 -0.59 L234.34 0.00 L235.52 0.00 L237.29 -0.59 L238.46 -2.36 L239.05 -5.30 L239.05 -7.07 L238.46 -10.01 L237.29 -11.78 L235.52 -12.36 L234.34 -12.36 M234.34 -12.36 L233.16 -11.78 L232.58 -11.19 L231.99 -10.01 L231.40 -7.07 L231.40 -5.30 L231.99 -2.36 L232.58 -1.18 L233.16 -0.59 L234.34 0.00 M235.52 0.00 L236.70 -0.59 L237.29 -1.18 L237.88 -2.36 L238.46 -5.30 L238.46 -7.07 L237.88 -10.01 L237.29 -11.19 L236.70 -11.78 L235.52 -12.36 M243.76 0.00 L243.17 -0.59 L243.76 -1.18 L244.35 -0.59 L244.35 0.59 L243.76 1.77 L243.17 2.36 M249.65 -8.24 L249.65 0.00 M250.24 -8.24 L250.24 0.00 M250.24 -6.48 L251.42 -7.65 L253.18 -8.24 L254.36 -8.24 L256.13 -7.65 L256.72 -6.48 L256.72 0.00 M254.36 -8.24 L255.54 -7.65 L256.13 -6.48 L256.13 0.00 M247.88 -8.24 L250.24 -8.24 M247.88 0.00 L252.01 0.00 M254.36 0.00 L258.48 0.00 M264.96 -8.24 L263.19 -7.65 L262.02 -6.48 L261.43 -4.71 L261.43 -3.53 L262.02 -1.77 L263.19 -0.59 L264.96 0.00 L266.14 0.00 L267.90 -0.59 L269.08 -1.77 L269.67 -3.53 L269.67 -4.71 L269.08 -6.48 L267.90 -7.65 L266.14 -8.24 L264.96 -8.24 M264.96 -8.24 L263.78 -7.65 L262.60 -6.48 L262.02 -4.71 L262.02 -3.53 L262.60 -1.77 L263.78 -0.59 L264.96 0.00 M266.14 0.00 L267.32 -0.59 L268.49 -1.77 L269.08 -3.53 L269.08 -4.71 L268.49 -6.48 L267.32 -7.65 L266.14 -8.24 M274.38 -8.24 L274.38 0.00 M274.97 -8.24 L274.97 0.00 M274.97 -6.48 L276.15 -7.65 L277.91 -8.24 L279.09 -8.24 L280.86 -7.65 L281.45 -6.48 L281.45 0.00 M279.09 -8.24 L280.27 -7.65 L280.86 -6.48 L280.86 0.00 M272.61 -8.24 L274.97 -8.24 M272.61 0.00 L276.74 0.00 M279.09 0.00 L283.21 0.00 M286.75 -4.71 L293.81 -4.71 L293.81 -5.89 L293.22 -7.07 L292.63 -7.65 L291.46 -8.24 L289.69 -8.24 L287.92 -7.65 L286.75 -6.48 L286.16 -4.71 L286.16 -3.53 L286.75 -1.77 L287.92 -0.59 L289.69 0.00 L290.87 0.00 L292.63 -0.59 L293.81 -1.77 M293.22 -4.71 L293.22 -6.48 L292.63 -7.65 M289.69 -8.24 L288.51 -7.65 L287.33 -6.48 L286.75 -4.71 L286.75 -3.53 L287.33 -1.77 L288.51 -0.59 L289.69 0.00" fill="none" stroke="#0000ff" stroke-width="1.1" stroke-linecap="round" stroke-linejoin="round"/>
</svg></body></html>
